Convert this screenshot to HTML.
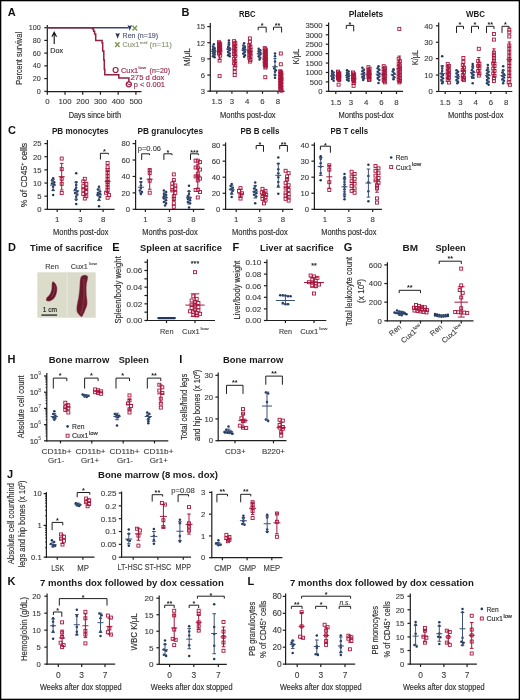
<!DOCTYPE html>
<html><head><meta charset="utf-8"><title>Figure</title>
<style>
html,body{margin:0;padding:0;background:#fff;}
body{width:520px;height:700px;overflow:hidden;}
svg{display:block;filter:blur(0.3px);}
text{font-family:"Liberation Sans", sans-serif;}
</style></head><body>
<svg width="520" height="700" viewBox="0 0 520 700">
<rect x="0" y="0" width="520" height="700" fill="#fff"/>
<text x="7.80" y="16.30" font-size="11" fill="#111" font-weight="bold">A</text>
<line x1="47.30" y1="25.00" x2="47.30" y2="92.30" stroke="#1e1e1e" stroke-width="1.2"/>
<line x1="44.30" y1="27.70" x2="47.30" y2="27.70" stroke="#1e1e1e" stroke-width="1.2"/>
<text x="40.75" y="30.29" font-size="7.2" fill="#3c3c3c" text-anchor="end" stroke="#3c3c3c" stroke-width="0.12">100</text>
<line x1="44.30" y1="40.42" x2="47.30" y2="40.42" stroke="#1e1e1e" stroke-width="1.2"/>
<text x="40.75" y="43.01" font-size="7.2" fill="#3c3c3c" text-anchor="end" stroke="#3c3c3c" stroke-width="0.12">80</text>
<line x1="44.30" y1="53.14" x2="47.30" y2="53.14" stroke="#1e1e1e" stroke-width="1.2"/>
<text x="40.75" y="55.73" font-size="7.2" fill="#3c3c3c" text-anchor="end" stroke="#3c3c3c" stroke-width="0.12">60</text>
<line x1="44.30" y1="65.86" x2="47.30" y2="65.86" stroke="#1e1e1e" stroke-width="1.2"/>
<text x="40.75" y="68.45" font-size="7.2" fill="#3c3c3c" text-anchor="end" stroke="#3c3c3c" stroke-width="0.12">40</text>
<line x1="44.30" y1="78.58" x2="47.30" y2="78.58" stroke="#1e1e1e" stroke-width="1.2"/>
<text x="40.75" y="81.17" font-size="7.2" fill="#3c3c3c" text-anchor="end" stroke="#3c3c3c" stroke-width="0.12">20</text>
<line x1="44.30" y1="91.30" x2="47.30" y2="91.30" stroke="#1e1e1e" stroke-width="1.2"/>
<text x="40.75" y="93.89" font-size="7.2" fill="#3c3c3c" text-anchor="end" stroke="#3c3c3c" stroke-width="0.12">0</text>
<line x1="46.70" y1="91.70" x2="141.50" y2="91.70" stroke="#1e1e1e" stroke-width="1.2"/>
<line x1="47.30" y1="91.70" x2="47.30" y2="94.70" stroke="#1e1e1e" stroke-width="1.2"/>
<text x="47.30" y="104.20" font-size="7.8" fill="#3c3c3c" text-anchor="middle" stroke="#3c3c3c" stroke-width="0.12">0</text>
<line x1="65.02" y1="91.70" x2="65.02" y2="94.70" stroke="#1e1e1e" stroke-width="1.2"/>
<text x="65.02" y="104.20" font-size="7.8" fill="#3c3c3c" text-anchor="middle" stroke="#3c3c3c" stroke-width="0.12">100</text>
<line x1="82.74" y1="91.70" x2="82.74" y2="94.70" stroke="#1e1e1e" stroke-width="1.2"/>
<text x="82.74" y="104.20" font-size="7.8" fill="#3c3c3c" text-anchor="middle" stroke="#3c3c3c" stroke-width="0.12">200</text>
<line x1="100.46" y1="91.70" x2="100.46" y2="94.70" stroke="#1e1e1e" stroke-width="1.2"/>
<text x="100.46" y="104.20" font-size="7.8" fill="#3c3c3c" text-anchor="middle" stroke="#3c3c3c" stroke-width="0.12">300</text>
<line x1="118.18" y1="91.70" x2="118.18" y2="94.70" stroke="#1e1e1e" stroke-width="1.2"/>
<text x="118.18" y="104.20" font-size="7.8" fill="#3c3c3c" text-anchor="middle" stroke="#3c3c3c" stroke-width="0.12">400</text>
<line x1="135.90" y1="91.70" x2="135.90" y2="94.70" stroke="#1e1e1e" stroke-width="1.2"/>
<text x="135.90" y="104.20" font-size="7.8" fill="#3c3c3c" text-anchor="middle" stroke="#3c3c3c" stroke-width="0.12">500</text>
<text x="68.70" y="117.80" font-size="8.6" fill="#2e2e2e" textLength="52.50" lengthAdjust="spacingAndGlyphs" stroke="#2e2e2e" stroke-width="0.15">Days since birth</text>
<text x="22.00" y="58.30" font-size="8.6" fill="#2e2e2e" text-anchor="middle" textLength="52.70" lengthAdjust="spacingAndGlyphs" transform="rotate(-90 22.00 58.30)" stroke="#2e2e2e" stroke-width="0.15">Percent survival</text>
<path d="M54.2 44V32.2M51.9 36.8L54.2 32.2L56.5 36.8" fill="none" stroke="#111" stroke-width="1.1"/>
<text x="50.20" y="52.80" font-size="7.2" fill="#2e2e2e" textLength="12.80" lengthAdjust="spacingAndGlyphs" stroke="#2e2e2e" stroke-width="0.15">Dox</text>
<line x1="47.30" y1="27.80" x2="128.50" y2="27.80" stroke="#3a4868" stroke-width="1.6"/>
<path d="M47.3 27.7 L92.5 27.7 L92.5 29.1 L93.6 29.1 L93.6 31.3 L94.6 31.3 L94.6 33.9 L95.7 33.9 L95.7 40.4 L102.1 40.4 L102.1 43.0 L102.7 43.0 L102.7 51.1 L103.8 51.1 L103.8 60.0 L104.3 60.0 L104.3 69.3 L104.8 69.3 L104.8 74.7 L118.8 74.7 L118.8 77.9 L128.9 77.9 L128.9 83.0" fill="none" stroke="#951f40" stroke-width="1.5"/>
<path d="M127.5 25.1 L129.7 25.9 L132.0 25.1 L129.7 30.8 Z" fill="#26345c"/>
<path d="M132.5 25.7 L137.1 30.5 M137.1 25.7 L132.5 30.5" stroke="#7f9a52" stroke-width="1.5"/>
<path d="M115.4 32.9 L117.65 33.7 L119.9 32.9 L117.65 38.7 Z" fill="#26345c"/>
<text x="122.60" y="38.40" font-size="7.0" fill="#4d5877" textLength="35.50" lengthAdjust="spacingAndGlyphs" stroke="#4d5877" stroke-width="0.15">Ren (n=19)</text>
<path d="M115.2 42.3 L119.5 47.0 M119.5 42.3 L115.2 47.0" stroke="#7f9a52" stroke-width="1.5"/>
<text x="122.40" y="47.40" font-size="7.0" fill="#8d9a78" textLength="17.00" lengthAdjust="spacingAndGlyphs" stroke="#8d9a78" stroke-width="0.15">Cux1</text>
<text x="139.80" y="43.60" font-size="4.4" fill="#8d9a78" textLength="7.60" lengthAdjust="spacingAndGlyphs" stroke="#8d9a78" stroke-width="0.15">mid</text>
<text x="149.60" y="47.40" font-size="7.0" fill="#8d9a78" textLength="22.30" lengthAdjust="spacingAndGlyphs" stroke="#8d9a78" stroke-width="0.15">(n=11)</text>
<circle cx="115.6" cy="70.0" r="2.5" fill="#fff" stroke="#9c1c44" stroke-width="1.2"/>
<text x="121.00" y="72.50" font-size="7.0" fill="#9a2a4c" textLength="17.20" lengthAdjust="spacingAndGlyphs" stroke="#9a2a4c" stroke-width="0.15">Cux1</text>
<text x="138.60" y="68.90" font-size="4.4" fill="#9a2a4c" textLength="7.40" lengthAdjust="spacingAndGlyphs" stroke="#9a2a4c" stroke-width="0.15">low</text>
<text x="149.60" y="72.50" font-size="7.0" fill="#9a2a4c" textLength="20.40" lengthAdjust="spacingAndGlyphs" stroke="#9a2a4c" stroke-width="0.15">(n=20)</text>
<text x="130.60" y="80.30" font-size="7.0" fill="#9a2a4c" textLength="33.80" lengthAdjust="spacingAndGlyphs" stroke="#9a2a4c" stroke-width="0.15">275 d dox</text>
<circle cx="128.8" cy="84.3" r="2.5" fill="#fff" stroke="#9c1c44" stroke-width="1.3"/>
<path d="M127.1 83.6 L128.9 84.6 L130.6 84.6" fill="none" stroke="#9c1c44" stroke-width="1.0"/>
<text x="133.70" y="87.00" font-size="7.0" fill="#9a2a4c" textLength="31.30" lengthAdjust="spacingAndGlyphs" stroke="#9a2a4c" stroke-width="0.15">p &lt; 0.001</text>
<text x="181.50" y="16.30" font-size="11" fill="#111" font-weight="bold">B</text>
<text x="239.00" y="16.90" font-size="8.4" fill="#1a1a1a" font-weight="bold" textLength="16.60" lengthAdjust="spacingAndGlyphs">RBC</text>
<line x1="210.30" y1="23.10" x2="210.30" y2="91.80" stroke="#1e1e1e" stroke-width="1.2"/>
<line x1="207.30" y1="26.60" x2="210.30" y2="26.60" stroke="#1e1e1e" stroke-width="1.2"/>
<text x="204.95" y="29.37" font-size="7.7" fill="#3c3c3c" text-anchor="end" stroke="#3c3c3c" stroke-width="0.12">15</text>
<line x1="207.30" y1="42.75" x2="210.30" y2="42.75" stroke="#1e1e1e" stroke-width="1.2"/>
<text x="204.95" y="45.52" font-size="7.7" fill="#3c3c3c" text-anchor="end" stroke="#3c3c3c" stroke-width="0.12">12</text>
<line x1="207.30" y1="58.90" x2="210.30" y2="58.90" stroke="#1e1e1e" stroke-width="1.2"/>
<text x="204.95" y="61.67" font-size="7.7" fill="#3c3c3c" text-anchor="end" stroke="#3c3c3c" stroke-width="0.12">9</text>
<line x1="207.30" y1="75.05" x2="210.30" y2="75.05" stroke="#1e1e1e" stroke-width="1.2"/>
<text x="204.95" y="77.82" font-size="7.7" fill="#3c3c3c" text-anchor="end" stroke="#3c3c3c" stroke-width="0.12">6</text>
<line x1="207.30" y1="91.20" x2="210.30" y2="91.20" stroke="#1e1e1e" stroke-width="1.2"/>
<text x="204.95" y="93.97" font-size="7.7" fill="#3c3c3c" text-anchor="end" stroke="#3c3c3c" stroke-width="0.12">3</text>
<line x1="209.70" y1="91.20" x2="284.60" y2="91.20" stroke="#1e1e1e" stroke-width="1.2"/>
<line x1="216.80" y1="91.20" x2="216.80" y2="93.80" stroke="#1e1e1e" stroke-width="1.2"/>
<text x="216.80" y="104.40" font-size="7.8" fill="#3c3c3c" text-anchor="middle" stroke="#3c3c3c" stroke-width="0.12">1.5</text>
<line x1="231.90" y1="91.20" x2="231.90" y2="93.80" stroke="#1e1e1e" stroke-width="1.2"/>
<text x="231.90" y="104.40" font-size="7.8" fill="#3c3c3c" text-anchor="middle" stroke="#3c3c3c" stroke-width="0.12">3</text>
<line x1="247.10" y1="91.20" x2="247.10" y2="93.80" stroke="#1e1e1e" stroke-width="1.2"/>
<text x="247.10" y="104.40" font-size="7.8" fill="#3c3c3c" text-anchor="middle" stroke="#3c3c3c" stroke-width="0.12">4</text>
<line x1="262.50" y1="91.20" x2="262.50" y2="93.80" stroke="#1e1e1e" stroke-width="1.2"/>
<text x="262.50" y="104.40" font-size="7.8" fill="#3c3c3c" text-anchor="middle" stroke="#3c3c3c" stroke-width="0.12">6</text>
<line x1="278.00" y1="91.20" x2="278.00" y2="93.80" stroke="#1e1e1e" stroke-width="1.2"/>
<text x="278.00" y="104.40" font-size="7.8" fill="#3c3c3c" text-anchor="middle" stroke="#3c3c3c" stroke-width="0.12">8</text>
<text x="220.00" y="118.00" font-size="8.6" fill="#2e2e2e" textLength="55.60" lengthAdjust="spacingAndGlyphs" stroke="#2e2e2e" stroke-width="0.15">Months post-dox</text>
<text x="190.30" y="57.10" font-size="8.6" fill="#2e2e2e" text-anchor="middle" textLength="17.70" lengthAdjust="spacingAndGlyphs" transform="rotate(-90 190.30 57.10)" stroke="#2e2e2e" stroke-width="0.15">M/μL</text>
<circle cx="213.80" cy="44.37" r="1.25" fill="#22395e"/>
<circle cx="213.00" cy="46.52" r="1.25" fill="#22395e"/>
<circle cx="214.60" cy="48.13" r="1.25" fill="#22395e"/>
<circle cx="213.00" cy="49.21" r="1.25" fill="#22395e"/>
<circle cx="214.60" cy="50.29" r="1.25" fill="#22395e"/>
<circle cx="213.00" cy="51.36" r="1.25" fill="#22395e"/>
<circle cx="214.60" cy="52.44" r="1.25" fill="#22395e"/>
<circle cx="213.00" cy="53.52" r="1.25" fill="#22395e"/>
<circle cx="214.60" cy="54.59" r="1.25" fill="#22395e"/>
<circle cx="213.00" cy="56.21" r="1.25" fill="#22395e"/>
<circle cx="214.60" cy="57.29" r="1.25" fill="#22395e"/>
<line x1="213.80" y1="55.31" x2="213.80" y2="47.22" stroke="#3a5078" stroke-width="1.0"/>
<line x1="211.00" y1="51.27" x2="216.60" y2="51.27" stroke="#3a5078" stroke-width="1.0"/>
<line x1="212.20" y1="55.31" x2="215.40" y2="55.31" stroke="#3a5078" stroke-width="1.0"/>
<line x1="212.20" y1="47.22" x2="215.40" y2="47.22" stroke="#3a5078" stroke-width="1.0"/>
<rect x="217.50" y="40.71" width="3.0" height="3.0" fill="#fff" fill-opacity="0.0" stroke="#a9143c" stroke-width="0.9"/>
<rect x="218.10" y="41.79" width="3.0" height="3.0" fill="#fff" fill-opacity="0.0" stroke="#a9143c" stroke-width="0.9"/>
<rect x="218.70" y="42.87" width="3.0" height="3.0" fill="#fff" fill-opacity="0.0" stroke="#a9143c" stroke-width="0.9"/>
<rect x="217.50" y="43.94" width="3.0" height="3.0" fill="#fff" fill-opacity="0.0" stroke="#a9143c" stroke-width="0.9"/>
<rect x="218.10" y="45.02" width="3.0" height="3.0" fill="#fff" fill-opacity="0.0" stroke="#a9143c" stroke-width="0.9"/>
<rect x="218.70" y="46.10" width="3.0" height="3.0" fill="#fff" fill-opacity="0.0" stroke="#a9143c" stroke-width="0.9"/>
<rect x="217.50" y="46.63" width="3.0" height="3.0" fill="#fff" fill-opacity="0.0" stroke="#a9143c" stroke-width="0.9"/>
<rect x="218.10" y="47.17" width="3.0" height="3.0" fill="#fff" fill-opacity="0.0" stroke="#a9143c" stroke-width="0.9"/>
<rect x="218.70" y="48.25" width="3.0" height="3.0" fill="#fff" fill-opacity="0.0" stroke="#a9143c" stroke-width="0.9"/>
<rect x="217.50" y="49.33" width="3.0" height="3.0" fill="#fff" fill-opacity="0.0" stroke="#a9143c" stroke-width="0.9"/>
<rect x="218.70" y="50.40" width="3.0" height="3.0" fill="#fff" fill-opacity="0.0" stroke="#a9143c" stroke-width="0.9"/>
<rect x="217.50" y="52.02" width="3.0" height="3.0" fill="#fff" fill-opacity="0.0" stroke="#a9143c" stroke-width="0.9"/>
<rect x="218.70" y="54.17" width="3.0" height="3.0" fill="#fff" fill-opacity="0.0" stroke="#a9143c" stroke-width="0.9"/>
<rect x="218.10" y="59.02" width="3.0" height="3.0" fill="#fff" fill-opacity="0.0" stroke="#a9143c" stroke-width="0.9"/>
<rect x="218.10" y="74.63" width="3.0" height="3.0" fill="#fff" fill-opacity="0.0" stroke="#a9143c" stroke-width="0.9"/>
<line x1="219.60" y1="59.46" x2="219.60" y2="42.48" stroke="#a9143c" stroke-width="1.0"/>
<line x1="216.80" y1="50.97" x2="222.40" y2="50.97" stroke="#a9143c" stroke-width="1.0"/>
<line x1="218.00" y1="59.46" x2="221.20" y2="59.46" stroke="#a9143c" stroke-width="1.0"/>
<line x1="218.00" y1="42.48" x2="221.20" y2="42.48" stroke="#a9143c" stroke-width="1.0"/>
<circle cx="228.90" cy="40.60" r="1.25" fill="#22395e"/>
<circle cx="228.90" cy="42.75" r="1.25" fill="#22395e"/>
<circle cx="228.90" cy="44.90" r="1.25" fill="#22395e"/>
<circle cx="228.10" cy="47.06" r="1.25" fill="#22395e"/>
<circle cx="229.70" cy="48.13" r="1.25" fill="#22395e"/>
<circle cx="228.10" cy="49.21" r="1.25" fill="#22395e"/>
<circle cx="229.70" cy="50.29" r="1.25" fill="#22395e"/>
<circle cx="228.10" cy="51.90" r="1.25" fill="#22395e"/>
<circle cx="229.70" cy="53.52" r="1.25" fill="#22395e"/>
<circle cx="228.10" cy="55.13" r="1.25" fill="#22395e"/>
<circle cx="229.70" cy="56.21" r="1.25" fill="#22395e"/>
<line x1="228.90" y1="54.07" x2="228.90" y2="44.05" stroke="#3a5078" stroke-width="1.0"/>
<line x1="226.10" y1="49.06" x2="231.70" y2="49.06" stroke="#3a5078" stroke-width="1.0"/>
<line x1="227.30" y1="54.07" x2="230.50" y2="54.07" stroke="#3a5078" stroke-width="1.0"/>
<line x1="227.30" y1="44.05" x2="230.50" y2="44.05" stroke="#3a5078" stroke-width="1.0"/>
<rect x="232.60" y="39.64" width="3.0" height="3.0" fill="#fff" fill-opacity="0.0" stroke="#a9143c" stroke-width="0.9"/>
<rect x="233.80" y="41.25" width="3.0" height="3.0" fill="#fff" fill-opacity="0.0" stroke="#a9143c" stroke-width="0.9"/>
<rect x="232.60" y="42.87" width="3.0" height="3.0" fill="#fff" fill-opacity="0.0" stroke="#a9143c" stroke-width="0.9"/>
<rect x="233.80" y="44.48" width="3.0" height="3.0" fill="#fff" fill-opacity="0.0" stroke="#a9143c" stroke-width="0.9"/>
<rect x="232.60" y="46.10" width="3.0" height="3.0" fill="#fff" fill-opacity="0.0" stroke="#a9143c" stroke-width="0.9"/>
<rect x="233.80" y="47.71" width="3.0" height="3.0" fill="#fff" fill-opacity="0.0" stroke="#a9143c" stroke-width="0.9"/>
<rect x="232.60" y="49.33" width="3.0" height="3.0" fill="#fff" fill-opacity="0.0" stroke="#a9143c" stroke-width="0.9"/>
<rect x="233.80" y="50.94" width="3.0" height="3.0" fill="#fff" fill-opacity="0.0" stroke="#a9143c" stroke-width="0.9"/>
<rect x="232.60" y="52.55" width="3.0" height="3.0" fill="#fff" fill-opacity="0.0" stroke="#a9143c" stroke-width="0.9"/>
<rect x="233.80" y="54.71" width="3.0" height="3.0" fill="#fff" fill-opacity="0.0" stroke="#a9143c" stroke-width="0.9"/>
<rect x="232.60" y="57.40" width="3.0" height="3.0" fill="#fff" fill-opacity="0.0" stroke="#a9143c" stroke-width="0.9"/>
<rect x="233.80" y="59.55" width="3.0" height="3.0" fill="#fff" fill-opacity="0.0" stroke="#a9143c" stroke-width="0.9"/>
<rect x="232.60" y="61.71" width="3.0" height="3.0" fill="#fff" fill-opacity="0.0" stroke="#a9143c" stroke-width="0.9"/>
<rect x="233.80" y="63.86" width="3.0" height="3.0" fill="#fff" fill-opacity="0.0" stroke="#a9143c" stroke-width="0.9"/>
<rect x="233.20" y="66.55" width="3.0" height="3.0" fill="#fff" fill-opacity="0.0" stroke="#a9143c" stroke-width="0.9"/>
<rect x="233.20" y="70.32" width="3.0" height="3.0" fill="#fff" fill-opacity="0.0" stroke="#a9143c" stroke-width="0.9"/>
<rect x="233.20" y="73.55" width="3.0" height="3.0" fill="#fff" fill-opacity="0.0" stroke="#a9143c" stroke-width="0.9"/>
<line x1="234.70" y1="66.14" x2="234.70" y2="45.39" stroke="#a9143c" stroke-width="1.0"/>
<line x1="231.90" y1="55.77" x2="237.50" y2="55.77" stroke="#a9143c" stroke-width="1.0"/>
<line x1="233.10" y1="66.14" x2="236.30" y2="66.14" stroke="#a9143c" stroke-width="1.0"/>
<line x1="233.10" y1="45.39" x2="236.30" y2="45.39" stroke="#a9143c" stroke-width="1.0"/>
<circle cx="244.10" cy="43.29" r="1.25" fill="#22395e"/>
<circle cx="243.30" cy="45.44" r="1.25" fill="#22395e"/>
<circle cx="244.90" cy="47.06" r="1.25" fill="#22395e"/>
<circle cx="243.30" cy="48.13" r="1.25" fill="#22395e"/>
<circle cx="244.90" cy="49.21" r="1.25" fill="#22395e"/>
<circle cx="243.30" cy="50.29" r="1.25" fill="#22395e"/>
<circle cx="244.90" cy="51.90" r="1.25" fill="#22395e"/>
<circle cx="243.30" cy="53.52" r="1.25" fill="#22395e"/>
<circle cx="244.90" cy="55.13" r="1.25" fill="#22395e"/>
<circle cx="244.10" cy="56.75" r="1.25" fill="#22395e"/>
<line x1="244.10" y1="54.37" x2="244.10" y2="45.77" stroke="#3a5078" stroke-width="1.0"/>
<line x1="241.30" y1="50.07" x2="246.90" y2="50.07" stroke="#3a5078" stroke-width="1.0"/>
<line x1="242.50" y1="54.37" x2="245.70" y2="54.37" stroke="#3a5078" stroke-width="1.0"/>
<line x1="242.50" y1="45.77" x2="245.70" y2="45.77" stroke="#3a5078" stroke-width="1.0"/>
<rect x="248.40" y="36.94" width="3.0" height="3.0" fill="#fff" fill-opacity="0.0" stroke="#a9143c" stroke-width="0.9"/>
<rect x="248.40" y="40.17" width="3.0" height="3.0" fill="#fff" fill-opacity="0.0" stroke="#a9143c" stroke-width="0.9"/>
<rect x="247.80" y="43.40" width="3.0" height="3.0" fill="#fff" fill-opacity="0.0" stroke="#a9143c" stroke-width="0.9"/>
<rect x="249.00" y="45.56" width="3.0" height="3.0" fill="#fff" fill-opacity="0.0" stroke="#a9143c" stroke-width="0.9"/>
<rect x="247.80" y="47.17" width="3.0" height="3.0" fill="#fff" fill-opacity="0.0" stroke="#a9143c" stroke-width="0.9"/>
<rect x="249.00" y="48.79" width="3.0" height="3.0" fill="#fff" fill-opacity="0.0" stroke="#a9143c" stroke-width="0.9"/>
<rect x="247.80" y="49.86" width="3.0" height="3.0" fill="#fff" fill-opacity="0.0" stroke="#a9143c" stroke-width="0.9"/>
<rect x="248.40" y="50.94" width="3.0" height="3.0" fill="#fff" fill-opacity="0.0" stroke="#a9143c" stroke-width="0.9"/>
<rect x="249.00" y="52.02" width="3.0" height="3.0" fill="#fff" fill-opacity="0.0" stroke="#a9143c" stroke-width="0.9"/>
<rect x="247.80" y="53.09" width="3.0" height="3.0" fill="#fff" fill-opacity="0.0" stroke="#a9143c" stroke-width="0.9"/>
<rect x="249.00" y="54.71" width="3.0" height="3.0" fill="#fff" fill-opacity="0.0" stroke="#a9143c" stroke-width="0.9"/>
<rect x="247.80" y="56.32" width="3.0" height="3.0" fill="#fff" fill-opacity="0.0" stroke="#a9143c" stroke-width="0.9"/>
<rect x="249.00" y="58.48" width="3.0" height="3.0" fill="#fff" fill-opacity="0.0" stroke="#a9143c" stroke-width="0.9"/>
<rect x="248.40" y="60.09" width="3.0" height="3.0" fill="#fff" fill-opacity="0.0" stroke="#a9143c" stroke-width="0.9"/>
<line x1="249.90" y1="58.06" x2="249.90" y2="44.59" stroke="#a9143c" stroke-width="1.0"/>
<line x1="247.10" y1="51.32" x2="252.70" y2="51.32" stroke="#a9143c" stroke-width="1.0"/>
<line x1="248.30" y1="58.06" x2="251.50" y2="58.06" stroke="#a9143c" stroke-width="1.0"/>
<line x1="248.30" y1="44.59" x2="251.50" y2="44.59" stroke="#a9143c" stroke-width="1.0"/>
<circle cx="258.70" cy="48.67" r="1.25" fill="#22395e"/>
<circle cx="260.30" cy="50.29" r="1.25" fill="#22395e"/>
<circle cx="258.70" cy="51.36" r="1.25" fill="#22395e"/>
<circle cx="260.30" cy="52.44" r="1.25" fill="#22395e"/>
<circle cx="258.70" cy="53.52" r="1.25" fill="#22395e"/>
<circle cx="260.30" cy="54.59" r="1.25" fill="#22395e"/>
<circle cx="258.70" cy="56.21" r="1.25" fill="#22395e"/>
<circle cx="260.30" cy="57.82" r="1.25" fill="#22395e"/>
<circle cx="259.50" cy="59.44" r="1.25" fill="#22395e"/>
<line x1="259.50" y1="57.37" x2="259.50" y2="50.26" stroke="#3a5078" stroke-width="1.0"/>
<line x1="256.70" y1="53.82" x2="262.30" y2="53.82" stroke="#3a5078" stroke-width="1.0"/>
<line x1="257.90" y1="57.37" x2="261.10" y2="57.37" stroke="#3a5078" stroke-width="1.0"/>
<line x1="257.90" y1="50.26" x2="261.10" y2="50.26" stroke="#3a5078" stroke-width="1.0"/>
<rect x="263.20" y="46.63" width="3.0" height="3.0" fill="#fff" fill-opacity="0.0" stroke="#a9143c" stroke-width="0.9"/>
<rect x="263.80" y="47.71" width="3.0" height="3.0" fill="#fff" fill-opacity="0.0" stroke="#a9143c" stroke-width="0.9"/>
<rect x="264.40" y="48.79" width="3.0" height="3.0" fill="#fff" fill-opacity="0.0" stroke="#a9143c" stroke-width="0.9"/>
<rect x="263.20" y="49.86" width="3.0" height="3.0" fill="#fff" fill-opacity="0.0" stroke="#a9143c" stroke-width="0.9"/>
<rect x="263.80" y="50.94" width="3.0" height="3.0" fill="#fff" fill-opacity="0.0" stroke="#a9143c" stroke-width="0.9"/>
<rect x="264.40" y="52.02" width="3.0" height="3.0" fill="#fff" fill-opacity="0.0" stroke="#a9143c" stroke-width="0.9"/>
<rect x="263.20" y="53.09" width="3.0" height="3.0" fill="#fff" fill-opacity="0.0" stroke="#a9143c" stroke-width="0.9"/>
<rect x="263.80" y="54.17" width="3.0" height="3.0" fill="#fff" fill-opacity="0.0" stroke="#a9143c" stroke-width="0.9"/>
<rect x="264.40" y="55.25" width="3.0" height="3.0" fill="#fff" fill-opacity="0.0" stroke="#a9143c" stroke-width="0.9"/>
<rect x="263.20" y="56.32" width="3.0" height="3.0" fill="#fff" fill-opacity="0.0" stroke="#a9143c" stroke-width="0.9"/>
<rect x="263.80" y="57.40" width="3.0" height="3.0" fill="#fff" fill-opacity="0.0" stroke="#a9143c" stroke-width="0.9"/>
<rect x="264.40" y="58.48" width="3.0" height="3.0" fill="#fff" fill-opacity="0.0" stroke="#a9143c" stroke-width="0.9"/>
<rect x="263.20" y="59.55" width="3.0" height="3.0" fill="#fff" fill-opacity="0.0" stroke="#a9143c" stroke-width="0.9"/>
<rect x="263.80" y="60.63" width="3.0" height="3.0" fill="#fff" fill-opacity="0.0" stroke="#a9143c" stroke-width="0.9"/>
<rect x="264.40" y="61.71" width="3.0" height="3.0" fill="#fff" fill-opacity="0.0" stroke="#a9143c" stroke-width="0.9"/>
<rect x="263.20" y="62.78" width="3.0" height="3.0" fill="#fff" fill-opacity="0.0" stroke="#a9143c" stroke-width="0.9"/>
<rect x="263.80" y="63.86" width="3.0" height="3.0" fill="#fff" fill-opacity="0.0" stroke="#a9143c" stroke-width="0.9"/>
<rect x="264.40" y="64.94" width="3.0" height="3.0" fill="#fff" fill-opacity="0.0" stroke="#a9143c" stroke-width="0.9"/>
<rect x="263.80" y="66.01" width="3.0" height="3.0" fill="#fff" fill-opacity="0.0" stroke="#a9143c" stroke-width="0.9"/>
<rect x="263.80" y="75.70" width="3.0" height="3.0" fill="#fff" fill-opacity="0.0" stroke="#a9143c" stroke-width="0.9"/>
<line x1="265.30" y1="66.11" x2="265.30" y2="51.47" stroke="#a9143c" stroke-width="1.0"/>
<line x1="262.50" y1="58.79" x2="268.10" y2="58.79" stroke="#a9143c" stroke-width="1.0"/>
<line x1="263.70" y1="66.11" x2="266.90" y2="66.11" stroke="#a9143c" stroke-width="1.0"/>
<line x1="263.70" y1="51.47" x2="266.90" y2="51.47" stroke="#a9143c" stroke-width="1.0"/>
<circle cx="275.00" cy="53.52" r="1.25" fill="#22395e"/>
<circle cx="275.00" cy="56.21" r="1.25" fill="#22395e"/>
<circle cx="275.00" cy="61.59" r="1.25" fill="#22395e"/>
<circle cx="275.00" cy="66.44" r="1.25" fill="#22395e"/>
<circle cx="274.20" cy="68.59" r="1.25" fill="#22395e"/>
<circle cx="275.80" cy="70.20" r="1.25" fill="#22395e"/>
<circle cx="275.00" cy="71.82" r="1.25" fill="#22395e"/>
<circle cx="275.00" cy="75.05" r="1.25" fill="#22395e"/>
<circle cx="275.00" cy="77.74" r="1.25" fill="#22395e"/>
<line x1="275.00" y1="75.04" x2="275.00" y2="58.55" stroke="#3a5078" stroke-width="1.0"/>
<line x1="272.20" y1="66.80" x2="277.80" y2="66.80" stroke="#3a5078" stroke-width="1.0"/>
<line x1="273.40" y1="75.04" x2="276.60" y2="75.04" stroke="#3a5078" stroke-width="1.0"/>
<line x1="273.40" y1="58.55" x2="276.60" y2="58.55" stroke="#3a5078" stroke-width="1.0"/>
<rect x="279.30" y="52.02" width="3.0" height="3.0" fill="#fff" fill-opacity="0.0" stroke="#a9143c" stroke-width="0.9"/>
<rect x="279.30" y="62.78" width="3.0" height="3.0" fill="#fff" fill-opacity="0.0" stroke="#a9143c" stroke-width="0.9"/>
<rect x="278.70" y="69.78" width="3.0" height="3.0" fill="#fff" fill-opacity="0.0" stroke="#a9143c" stroke-width="0.9"/>
<rect x="279.30" y="70.75" width="3.0" height="3.0" fill="#fff" fill-opacity="0.0" stroke="#a9143c" stroke-width="0.9"/>
<rect x="279.90" y="71.72" width="3.0" height="3.0" fill="#fff" fill-opacity="0.0" stroke="#a9143c" stroke-width="0.9"/>
<rect x="278.70" y="72.69" width="3.0" height="3.0" fill="#fff" fill-opacity="0.0" stroke="#a9143c" stroke-width="0.9"/>
<rect x="279.30" y="73.66" width="3.0" height="3.0" fill="#fff" fill-opacity="0.0" stroke="#a9143c" stroke-width="0.9"/>
<rect x="279.90" y="74.63" width="3.0" height="3.0" fill="#fff" fill-opacity="0.0" stroke="#a9143c" stroke-width="0.9"/>
<rect x="278.70" y="75.60" width="3.0" height="3.0" fill="#fff" fill-opacity="0.0" stroke="#a9143c" stroke-width="0.9"/>
<rect x="279.30" y="76.56" width="3.0" height="3.0" fill="#fff" fill-opacity="0.0" stroke="#a9143c" stroke-width="0.9"/>
<rect x="279.90" y="77.53" width="3.0" height="3.0" fill="#fff" fill-opacity="0.0" stroke="#a9143c" stroke-width="0.9"/>
<rect x="278.70" y="78.50" width="3.0" height="3.0" fill="#fff" fill-opacity="0.0" stroke="#a9143c" stroke-width="0.9"/>
<rect x="279.30" y="79.47" width="3.0" height="3.0" fill="#fff" fill-opacity="0.0" stroke="#a9143c" stroke-width="0.9"/>
<rect x="279.90" y="80.44" width="3.0" height="3.0" fill="#fff" fill-opacity="0.0" stroke="#a9143c" stroke-width="0.9"/>
<rect x="278.70" y="81.41" width="3.0" height="3.0" fill="#fff" fill-opacity="0.0" stroke="#a9143c" stroke-width="0.9"/>
<rect x="279.30" y="82.38" width="3.0" height="3.0" fill="#fff" fill-opacity="0.0" stroke="#a9143c" stroke-width="0.9"/>
<rect x="279.90" y="83.35" width="3.0" height="3.0" fill="#fff" fill-opacity="0.0" stroke="#a9143c" stroke-width="0.9"/>
<rect x="278.70" y="84.32" width="3.0" height="3.0" fill="#fff" fill-opacity="0.0" stroke="#a9143c" stroke-width="0.9"/>
<rect x="279.30" y="85.29" width="3.0" height="3.0" fill="#fff" fill-opacity="0.0" stroke="#a9143c" stroke-width="0.9"/>
<rect x="279.90" y="86.25" width="3.0" height="3.0" fill="#fff" fill-opacity="0.0" stroke="#a9143c" stroke-width="0.9"/>
<rect x="278.70" y="87.22" width="3.0" height="3.0" fill="#fff" fill-opacity="0.0" stroke="#a9143c" stroke-width="0.9"/>
<rect x="279.30" y="88.19" width="3.0" height="3.0" fill="#fff" fill-opacity="0.0" stroke="#a9143c" stroke-width="0.9"/>
<rect x="279.90" y="89.16" width="3.0" height="3.0" fill="#fff" fill-opacity="0.0" stroke="#a9143c" stroke-width="0.9"/>
<line x1="280.80" y1="87.77" x2="280.80" y2="70.34" stroke="#a9143c" stroke-width="1.0"/>
<line x1="278.00" y1="79.05" x2="283.60" y2="79.05" stroke="#a9143c" stroke-width="1.0"/>
<line x1="279.20" y1="87.77" x2="282.40" y2="87.77" stroke="#a9143c" stroke-width="1.0"/>
<line x1="279.20" y1="70.34" x2="282.40" y2="70.34" stroke="#a9143c" stroke-width="1.0"/>
<path d="M258.20 30.20V27.20H266.20V32.50" fill="none" stroke="#1e1e1e" stroke-width="1.0"/>
<text x="262.20" y="28.37" font-size="7.2" fill="#222" text-anchor="middle" font-weight="bold">*</text>
<path d="M273.50 30.20V27.20H281.60V32.50" fill="none" stroke="#1e1e1e" stroke-width="1.0"/>
<text x="277.55" y="28.37" font-size="7.2" fill="#222" text-anchor="middle" font-weight="bold">**</text>
<text x="348.70" y="16.90" font-size="8.4" fill="#1a1a1a" font-weight="bold" textLength="34.60" lengthAdjust="spacingAndGlyphs">Platelets</text>
<line x1="328.60" y1="22.60" x2="328.60" y2="91.90" stroke="#1e1e1e" stroke-width="1.2"/>
<line x1="325.80" y1="25.40" x2="328.60" y2="25.40" stroke="#1e1e1e" stroke-width="1.2"/>
<text x="322.55" y="28.17" font-size="7.7" fill="#3c3c3c" text-anchor="end" stroke="#3c3c3c" stroke-width="0.12">3500</text>
<line x1="325.80" y1="34.81" x2="328.60" y2="34.81" stroke="#1e1e1e" stroke-width="1.2"/>
<text x="322.55" y="37.59" font-size="7.7" fill="#3c3c3c" text-anchor="end" stroke="#3c3c3c" stroke-width="0.12">3000</text>
<line x1="325.80" y1="44.23" x2="328.60" y2="44.23" stroke="#1e1e1e" stroke-width="1.2"/>
<text x="322.55" y="47.00" font-size="7.7" fill="#3c3c3c" text-anchor="end" stroke="#3c3c3c" stroke-width="0.12">2500</text>
<line x1="325.80" y1="53.64" x2="328.60" y2="53.64" stroke="#1e1e1e" stroke-width="1.2"/>
<text x="322.55" y="56.41" font-size="7.7" fill="#3c3c3c" text-anchor="end" stroke="#3c3c3c" stroke-width="0.12">2000</text>
<line x1="325.80" y1="63.06" x2="328.60" y2="63.06" stroke="#1e1e1e" stroke-width="1.2"/>
<text x="322.55" y="65.83" font-size="7.7" fill="#3c3c3c" text-anchor="end" stroke="#3c3c3c" stroke-width="0.12">1500</text>
<line x1="325.80" y1="72.47" x2="328.60" y2="72.47" stroke="#1e1e1e" stroke-width="1.2"/>
<text x="322.55" y="75.24" font-size="7.7" fill="#3c3c3c" text-anchor="end" stroke="#3c3c3c" stroke-width="0.12">1000</text>
<line x1="325.80" y1="81.89" x2="328.60" y2="81.89" stroke="#1e1e1e" stroke-width="1.2"/>
<text x="322.55" y="84.66" font-size="7.7" fill="#3c3c3c" text-anchor="end" stroke="#3c3c3c" stroke-width="0.12">500</text>
<line x1="325.80" y1="91.30" x2="328.60" y2="91.30" stroke="#1e1e1e" stroke-width="1.2"/>
<text x="322.55" y="94.07" font-size="7.7" fill="#3c3c3c" text-anchor="end" stroke="#3c3c3c" stroke-width="0.12">0</text>
<line x1="328.00" y1="91.40" x2="403.10" y2="91.40" stroke="#1e1e1e" stroke-width="1.2"/>
<line x1="335.80" y1="91.40" x2="335.80" y2="94.00" stroke="#1e1e1e" stroke-width="1.2"/>
<text x="335.80" y="104.60" font-size="7.8" fill="#3c3c3c" text-anchor="middle" stroke="#3c3c3c" stroke-width="0.12">1.5</text>
<line x1="350.80" y1="91.40" x2="350.80" y2="94.00" stroke="#1e1e1e" stroke-width="1.2"/>
<text x="350.80" y="104.60" font-size="7.8" fill="#3c3c3c" text-anchor="middle" stroke="#3c3c3c" stroke-width="0.12">3</text>
<line x1="366.20" y1="91.40" x2="366.20" y2="94.00" stroke="#1e1e1e" stroke-width="1.2"/>
<text x="366.20" y="104.60" font-size="7.8" fill="#3c3c3c" text-anchor="middle" stroke="#3c3c3c" stroke-width="0.12">4</text>
<line x1="381.50" y1="91.40" x2="381.50" y2="94.00" stroke="#1e1e1e" stroke-width="1.2"/>
<text x="381.50" y="104.60" font-size="7.8" fill="#3c3c3c" text-anchor="middle" stroke="#3c3c3c" stroke-width="0.12">6</text>
<line x1="396.50" y1="91.40" x2="396.50" y2="94.00" stroke="#1e1e1e" stroke-width="1.2"/>
<text x="396.50" y="104.60" font-size="7.8" fill="#3c3c3c" text-anchor="middle" stroke="#3c3c3c" stroke-width="0.12">8</text>
<text x="338.50" y="118.00" font-size="8.6" fill="#2e2e2e" textLength="55.30" lengthAdjust="spacingAndGlyphs" stroke="#2e2e2e" stroke-width="0.15">Months post-dox</text>
<text x="299.10" y="56.60" font-size="8.6" fill="#2e2e2e" text-anchor="middle" textLength="15.40" lengthAdjust="spacingAndGlyphs" transform="rotate(-90 299.10 56.60)" stroke="#2e2e2e" stroke-width="0.15">K/μL</text>
<circle cx="332.00" cy="70.97" r="1.25" fill="#22395e"/>
<circle cx="333.60" cy="72.47" r="1.25" fill="#22395e"/>
<circle cx="332.00" cy="73.41" r="1.25" fill="#22395e"/>
<circle cx="332.80" cy="74.35" r="1.25" fill="#22395e"/>
<circle cx="333.60" cy="75.30" r="1.25" fill="#22395e"/>
<circle cx="332.00" cy="76.24" r="1.25" fill="#22395e"/>
<circle cx="332.80" cy="77.18" r="1.25" fill="#22395e"/>
<circle cx="333.60" cy="78.12" r="1.25" fill="#22395e"/>
<circle cx="332.00" cy="79.06" r="1.25" fill="#22395e"/>
<circle cx="333.60" cy="80.85" r="1.25" fill="#22395e"/>
<line x1="332.80" y1="78.89" x2="332.80" y2="72.70" stroke="#3a5078" stroke-width="1.0"/>
<line x1="330.00" y1="75.79" x2="335.60" y2="75.79" stroke="#3a5078" stroke-width="1.0"/>
<line x1="331.20" y1="78.89" x2="334.40" y2="78.89" stroke="#3a5078" stroke-width="1.0"/>
<line x1="331.20" y1="72.70" x2="334.40" y2="72.70" stroke="#3a5078" stroke-width="1.0"/>
<rect x="336.50" y="70.12" width="3.0" height="3.0" fill="#fff" fill-opacity="0.0" stroke="#a9143c" stroke-width="0.9"/>
<rect x="336.50" y="70.97" width="3.0" height="3.0" fill="#fff" fill-opacity="0.0" stroke="#a9143c" stroke-width="0.9"/>
<rect x="337.70" y="71.72" width="3.0" height="3.0" fill="#fff" fill-opacity="0.0" stroke="#a9143c" stroke-width="0.9"/>
<rect x="337.70" y="72.48" width="3.0" height="3.0" fill="#fff" fill-opacity="0.0" stroke="#a9143c" stroke-width="0.9"/>
<rect x="336.50" y="73.23" width="3.0" height="3.0" fill="#fff" fill-opacity="0.0" stroke="#a9143c" stroke-width="0.9"/>
<rect x="336.50" y="73.98" width="3.0" height="3.0" fill="#fff" fill-opacity="0.0" stroke="#a9143c" stroke-width="0.9"/>
<rect x="337.70" y="74.74" width="3.0" height="3.0" fill="#fff" fill-opacity="0.0" stroke="#a9143c" stroke-width="0.9"/>
<rect x="337.70" y="75.49" width="3.0" height="3.0" fill="#fff" fill-opacity="0.0" stroke="#a9143c" stroke-width="0.9"/>
<rect x="336.50" y="76.24" width="3.0" height="3.0" fill="#fff" fill-opacity="0.0" stroke="#a9143c" stroke-width="0.9"/>
<rect x="336.50" y="77.00" width="3.0" height="3.0" fill="#fff" fill-opacity="0.0" stroke="#a9143c" stroke-width="0.9"/>
<rect x="337.70" y="77.75" width="3.0" height="3.0" fill="#fff" fill-opacity="0.0" stroke="#a9143c" stroke-width="0.9"/>
<rect x="337.70" y="78.50" width="3.0" height="3.0" fill="#fff" fill-opacity="0.0" stroke="#a9143c" stroke-width="0.9"/>
<rect x="337.10" y="83.12" width="3.0" height="3.0" fill="#fff" fill-opacity="0.0" stroke="#a9143c" stroke-width="0.9"/>
<line x1="338.60" y1="80.10" x2="338.60" y2="72.96" stroke="#a9143c" stroke-width="1.0"/>
<line x1="335.80" y1="76.53" x2="341.40" y2="76.53" stroke="#a9143c" stroke-width="1.0"/>
<line x1="337.00" y1="80.10" x2="340.20" y2="80.10" stroke="#a9143c" stroke-width="1.0"/>
<line x1="337.00" y1="72.96" x2="340.20" y2="72.96" stroke="#a9143c" stroke-width="1.0"/>
<circle cx="347.00" cy="70.21" r="1.25" fill="#22395e"/>
<circle cx="348.60" cy="71.53" r="1.25" fill="#22395e"/>
<circle cx="347.00" cy="72.85" r="1.25" fill="#22395e"/>
<circle cx="348.60" cy="73.98" r="1.25" fill="#22395e"/>
<circle cx="347.00" cy="75.11" r="1.25" fill="#22395e"/>
<circle cx="348.60" cy="76.24" r="1.25" fill="#22395e"/>
<circle cx="347.00" cy="77.37" r="1.25" fill="#22395e"/>
<circle cx="348.60" cy="78.50" r="1.25" fill="#22395e"/>
<circle cx="347.00" cy="79.63" r="1.25" fill="#22395e"/>
<circle cx="348.60" cy="80.85" r="1.25" fill="#22395e"/>
<line x1="347.80" y1="79.15" x2="347.80" y2="72.10" stroke="#3a5078" stroke-width="1.0"/>
<line x1="345.00" y1="75.63" x2="350.60" y2="75.63" stroke="#3a5078" stroke-width="1.0"/>
<line x1="346.20" y1="79.15" x2="349.40" y2="79.15" stroke="#3a5078" stroke-width="1.0"/>
<line x1="346.20" y1="72.10" x2="349.40" y2="72.10" stroke="#3a5078" stroke-width="1.0"/>
<rect x="351.50" y="70.97" width="3.0" height="3.0" fill="#fff" fill-opacity="0.0" stroke="#a9143c" stroke-width="0.9"/>
<rect x="352.10" y="72.10" width="3.0" height="3.0" fill="#fff" fill-opacity="0.0" stroke="#a9143c" stroke-width="0.9"/>
<rect x="352.70" y="73.23" width="3.0" height="3.0" fill="#fff" fill-opacity="0.0" stroke="#a9143c" stroke-width="0.9"/>
<rect x="351.50" y="74.36" width="3.0" height="3.0" fill="#fff" fill-opacity="0.0" stroke="#a9143c" stroke-width="0.9"/>
<rect x="352.10" y="75.49" width="3.0" height="3.0" fill="#fff" fill-opacity="0.0" stroke="#a9143c" stroke-width="0.9"/>
<rect x="352.70" y="76.62" width="3.0" height="3.0" fill="#fff" fill-opacity="0.0" stroke="#a9143c" stroke-width="0.9"/>
<rect x="351.50" y="77.75" width="3.0" height="3.0" fill="#fff" fill-opacity="0.0" stroke="#a9143c" stroke-width="0.9"/>
<rect x="352.10" y="78.88" width="3.0" height="3.0" fill="#fff" fill-opacity="0.0" stroke="#a9143c" stroke-width="0.9"/>
<rect x="352.70" y="80.01" width="3.0" height="3.0" fill="#fff" fill-opacity="0.0" stroke="#a9143c" stroke-width="0.9"/>
<rect x="352.10" y="81.52" width="3.0" height="3.0" fill="#fff" fill-opacity="0.0" stroke="#a9143c" stroke-width="0.9"/>
<rect x="352.10" y="84.34" width="3.0" height="3.0" fill="#fff" fill-opacity="0.0" stroke="#a9143c" stroke-width="0.9"/>
<line x1="353.60" y1="82.48" x2="353.60" y2="74.21" stroke="#a9143c" stroke-width="1.0"/>
<line x1="350.80" y1="78.34" x2="356.40" y2="78.34" stroke="#a9143c" stroke-width="1.0"/>
<line x1="352.00" y1="82.48" x2="355.20" y2="82.48" stroke="#a9143c" stroke-width="1.0"/>
<line x1="352.00" y1="74.21" x2="355.20" y2="74.21" stroke="#a9143c" stroke-width="1.0"/>
<circle cx="362.40" cy="67.86" r="1.25" fill="#22395e"/>
<circle cx="364.00" cy="69.65" r="1.25" fill="#22395e"/>
<circle cx="362.40" cy="71.34" r="1.25" fill="#22395e"/>
<circle cx="364.00" cy="72.85" r="1.25" fill="#22395e"/>
<circle cx="362.40" cy="74.35" r="1.25" fill="#22395e"/>
<circle cx="364.00" cy="75.67" r="1.25" fill="#22395e"/>
<circle cx="362.40" cy="76.99" r="1.25" fill="#22395e"/>
<circle cx="364.00" cy="78.31" r="1.25" fill="#22395e"/>
<circle cx="363.20" cy="80.00" r="1.25" fill="#22395e"/>
<line x1="363.20" y1="78.17" x2="363.20" y2="70.06" stroke="#3a5078" stroke-width="1.0"/>
<line x1="360.40" y1="74.11" x2="366.00" y2="74.11" stroke="#3a5078" stroke-width="1.0"/>
<line x1="361.60" y1="78.17" x2="364.80" y2="78.17" stroke="#3a5078" stroke-width="1.0"/>
<line x1="361.60" y1="70.06" x2="364.80" y2="70.06" stroke="#3a5078" stroke-width="1.0"/>
<rect x="366.90" y="65.70" width="3.0" height="3.0" fill="#fff" fill-opacity="0.0" stroke="#a9143c" stroke-width="0.9"/>
<rect x="368.10" y="67.21" width="3.0" height="3.0" fill="#fff" fill-opacity="0.0" stroke="#a9143c" stroke-width="0.9"/>
<rect x="366.90" y="68.71" width="3.0" height="3.0" fill="#fff" fill-opacity="0.0" stroke="#a9143c" stroke-width="0.9"/>
<rect x="367.50" y="70.03" width="3.0" height="3.0" fill="#fff" fill-opacity="0.0" stroke="#a9143c" stroke-width="0.9"/>
<rect x="368.10" y="71.16" width="3.0" height="3.0" fill="#fff" fill-opacity="0.0" stroke="#a9143c" stroke-width="0.9"/>
<rect x="366.90" y="72.29" width="3.0" height="3.0" fill="#fff" fill-opacity="0.0" stroke="#a9143c" stroke-width="0.9"/>
<rect x="367.50" y="73.42" width="3.0" height="3.0" fill="#fff" fill-opacity="0.0" stroke="#a9143c" stroke-width="0.9"/>
<rect x="368.10" y="74.55" width="3.0" height="3.0" fill="#fff" fill-opacity="0.0" stroke="#a9143c" stroke-width="0.9"/>
<rect x="366.90" y="75.68" width="3.0" height="3.0" fill="#fff" fill-opacity="0.0" stroke="#a9143c" stroke-width="0.9"/>
<rect x="367.50" y="76.81" width="3.0" height="3.0" fill="#fff" fill-opacity="0.0" stroke="#a9143c" stroke-width="0.9"/>
<rect x="368.10" y="77.94" width="3.0" height="3.0" fill="#fff" fill-opacity="0.0" stroke="#a9143c" stroke-width="0.9"/>
<rect x="367.50" y="78.50" width="3.0" height="3.0" fill="#fff" fill-opacity="0.0" stroke="#a9143c" stroke-width="0.9"/>
<line x1="369.00" y1="78.38" x2="369.00" y2="69.95" stroke="#a9143c" stroke-width="1.0"/>
<line x1="366.20" y1="74.17" x2="371.80" y2="74.17" stroke="#a9143c" stroke-width="1.0"/>
<line x1="367.40" y1="78.38" x2="370.60" y2="78.38" stroke="#a9143c" stroke-width="1.0"/>
<line x1="367.40" y1="69.95" x2="370.60" y2="69.95" stroke="#a9143c" stroke-width="1.0"/>
<circle cx="378.50" cy="66.16" r="1.25" fill="#22395e"/>
<circle cx="377.70" cy="68.14" r="1.25" fill="#22395e"/>
<circle cx="379.30" cy="70.02" r="1.25" fill="#22395e"/>
<circle cx="377.70" cy="71.72" r="1.25" fill="#22395e"/>
<circle cx="379.30" cy="73.41" r="1.25" fill="#22395e"/>
<circle cx="377.70" cy="74.92" r="1.25" fill="#22395e"/>
<circle cx="379.30" cy="76.43" r="1.25" fill="#22395e"/>
<circle cx="377.70" cy="78.12" r="1.25" fill="#22395e"/>
<circle cx="379.30" cy="80.00" r="1.25" fill="#22395e"/>
<circle cx="378.50" cy="83.02" r="1.25" fill="#22395e"/>
<line x1="378.50" y1="79.55" x2="378.50" y2="68.84" stroke="#3a5078" stroke-width="1.0"/>
<line x1="375.70" y1="74.19" x2="381.30" y2="74.19" stroke="#3a5078" stroke-width="1.0"/>
<line x1="376.90" y1="79.55" x2="380.10" y2="79.55" stroke="#3a5078" stroke-width="1.0"/>
<line x1="376.90" y1="68.84" x2="380.10" y2="68.84" stroke="#3a5078" stroke-width="1.0"/>
<rect x="382.20" y="64.66" width="3.0" height="3.0" fill="#fff" fill-opacity="0.0" stroke="#a9143c" stroke-width="0.9"/>
<rect x="383.40" y="66.26" width="3.0" height="3.0" fill="#fff" fill-opacity="0.0" stroke="#a9143c" stroke-width="0.9"/>
<rect x="382.20" y="67.77" width="3.0" height="3.0" fill="#fff" fill-opacity="0.0" stroke="#a9143c" stroke-width="0.9"/>
<rect x="383.40" y="69.09" width="3.0" height="3.0" fill="#fff" fill-opacity="0.0" stroke="#a9143c" stroke-width="0.9"/>
<rect x="382.20" y="70.41" width="3.0" height="3.0" fill="#fff" fill-opacity="0.0" stroke="#a9143c" stroke-width="0.9"/>
<rect x="383.40" y="71.72" width="3.0" height="3.0" fill="#fff" fill-opacity="0.0" stroke="#a9143c" stroke-width="0.9"/>
<rect x="382.20" y="73.04" width="3.0" height="3.0" fill="#fff" fill-opacity="0.0" stroke="#a9143c" stroke-width="0.9"/>
<rect x="383.40" y="74.36" width="3.0" height="3.0" fill="#fff" fill-opacity="0.0" stroke="#a9143c" stroke-width="0.9"/>
<rect x="382.20" y="75.68" width="3.0" height="3.0" fill="#fff" fill-opacity="0.0" stroke="#a9143c" stroke-width="0.9"/>
<rect x="383.40" y="77.00" width="3.0" height="3.0" fill="#fff" fill-opacity="0.0" stroke="#a9143c" stroke-width="0.9"/>
<rect x="382.20" y="78.31" width="3.0" height="3.0" fill="#fff" fill-opacity="0.0" stroke="#a9143c" stroke-width="0.9"/>
<rect x="382.80" y="79.63" width="3.0" height="3.0" fill="#fff" fill-opacity="0.0" stroke="#a9143c" stroke-width="0.9"/>
<rect x="383.40" y="80.86" width="3.0" height="3.0" fill="#fff" fill-opacity="0.0" stroke="#a9143c" stroke-width="0.9"/>
<line x1="384.30" y1="79.69" x2="384.30" y2="69.28" stroke="#a9143c" stroke-width="1.0"/>
<line x1="381.50" y1="74.48" x2="387.10" y2="74.48" stroke="#a9143c" stroke-width="1.0"/>
<line x1="382.70" y1="79.69" x2="385.90" y2="79.69" stroke="#a9143c" stroke-width="1.0"/>
<line x1="382.70" y1="69.28" x2="385.90" y2="69.28" stroke="#a9143c" stroke-width="1.0"/>
<circle cx="393.50" cy="69.36" r="1.25" fill="#22395e"/>
<circle cx="392.70" cy="71.53" r="1.25" fill="#22395e"/>
<circle cx="394.30" cy="73.41" r="1.25" fill="#22395e"/>
<circle cx="392.70" cy="75.30" r="1.25" fill="#22395e"/>
<circle cx="394.30" cy="77.18" r="1.25" fill="#22395e"/>
<circle cx="393.50" cy="79.25" r="1.25" fill="#22395e"/>
<line x1="393.50" y1="77.99" x2="393.50" y2="70.69" stroke="#3a5078" stroke-width="1.0"/>
<line x1="390.70" y1="74.34" x2="396.30" y2="74.34" stroke="#3a5078" stroke-width="1.0"/>
<line x1="391.90" y1="77.99" x2="395.10" y2="77.99" stroke="#3a5078" stroke-width="1.0"/>
<line x1="391.90" y1="70.69" x2="395.10" y2="70.69" stroke="#3a5078" stroke-width="1.0"/>
<rect x="397.80" y="27.38" width="3.0" height="3.0" fill="#fff" fill-opacity="0.0" stroke="#a9143c" stroke-width="0.9"/>
<rect x="397.20" y="57.23" width="3.0" height="3.0" fill="#fff" fill-opacity="0.0" stroke="#a9143c" stroke-width="0.9"/>
<rect x="398.40" y="59.67" width="3.0" height="3.0" fill="#fff" fill-opacity="0.0" stroke="#a9143c" stroke-width="0.9"/>
<rect x="397.20" y="61.93" width="3.0" height="3.0" fill="#fff" fill-opacity="0.0" stroke="#a9143c" stroke-width="0.9"/>
<rect x="398.40" y="63.82" width="3.0" height="3.0" fill="#fff" fill-opacity="0.0" stroke="#a9143c" stroke-width="0.9"/>
<rect x="397.20" y="65.51" width="3.0" height="3.0" fill="#fff" fill-opacity="0.0" stroke="#a9143c" stroke-width="0.9"/>
<rect x="398.40" y="67.21" width="3.0" height="3.0" fill="#fff" fill-opacity="0.0" stroke="#a9143c" stroke-width="0.9"/>
<rect x="397.20" y="68.90" width="3.0" height="3.0" fill="#fff" fill-opacity="0.0" stroke="#a9143c" stroke-width="0.9"/>
<rect x="398.40" y="70.59" width="3.0" height="3.0" fill="#fff" fill-opacity="0.0" stroke="#a9143c" stroke-width="0.9"/>
<rect x="397.20" y="72.10" width="3.0" height="3.0" fill="#fff" fill-opacity="0.0" stroke="#a9143c" stroke-width="0.9"/>
<rect x="398.40" y="73.61" width="3.0" height="3.0" fill="#fff" fill-opacity="0.0" stroke="#a9143c" stroke-width="0.9"/>
<rect x="397.20" y="75.11" width="3.0" height="3.0" fill="#fff" fill-opacity="0.0" stroke="#a9143c" stroke-width="0.9"/>
<rect x="398.40" y="76.62" width="3.0" height="3.0" fill="#fff" fill-opacity="0.0" stroke="#a9143c" stroke-width="0.9"/>
<rect x="397.20" y="78.13" width="3.0" height="3.0" fill="#fff" fill-opacity="0.0" stroke="#a9143c" stroke-width="0.9"/>
<rect x="398.40" y="79.63" width="3.0" height="3.0" fill="#fff" fill-opacity="0.0" stroke="#a9143c" stroke-width="0.9"/>
<rect x="397.80" y="80.86" width="3.0" height="3.0" fill="#fff" fill-opacity="0.0" stroke="#a9143c" stroke-width="0.9"/>
<line x1="399.30" y1="81.74" x2="399.30" y2="56.05" stroke="#a9143c" stroke-width="1.0"/>
<line x1="396.50" y1="68.89" x2="402.10" y2="68.89" stroke="#a9143c" stroke-width="1.0"/>
<line x1="397.70" y1="81.74" x2="400.90" y2="81.74" stroke="#a9143c" stroke-width="1.0"/>
<line x1="397.70" y1="56.05" x2="400.90" y2="56.05" stroke="#a9143c" stroke-width="1.0"/>
<path d="M346.30 28.90V25.40H353.70V31.40" fill="none" stroke="#1e1e1e" stroke-width="1.0"/>
<text x="350.00" y="26.77" font-size="7.2" fill="#222" text-anchor="middle" font-weight="bold">*</text>
<text x="466.00" y="16.90" font-size="8.4" fill="#1a1a1a" font-weight="bold" textLength="19.00" lengthAdjust="spacingAndGlyphs">WBC</text>
<line x1="438.70" y1="22.60" x2="438.70" y2="92.10" stroke="#1e1e1e" stroke-width="1.2"/>
<line x1="435.90" y1="25.80" x2="438.70" y2="25.80" stroke="#1e1e1e" stroke-width="1.2"/>
<text x="432.85" y="28.57" font-size="7.7" fill="#3c3c3c" text-anchor="end" stroke="#3c3c3c" stroke-width="0.12">40</text>
<line x1="435.90" y1="42.23" x2="438.70" y2="42.23" stroke="#1e1e1e" stroke-width="1.2"/>
<text x="432.85" y="45.00" font-size="7.7" fill="#3c3c3c" text-anchor="end" stroke="#3c3c3c" stroke-width="0.12">30</text>
<line x1="435.90" y1="58.65" x2="438.70" y2="58.65" stroke="#1e1e1e" stroke-width="1.2"/>
<text x="432.85" y="61.42" font-size="7.7" fill="#3c3c3c" text-anchor="end" stroke="#3c3c3c" stroke-width="0.12">20</text>
<line x1="435.90" y1="75.08" x2="438.70" y2="75.08" stroke="#1e1e1e" stroke-width="1.2"/>
<text x="432.85" y="77.85" font-size="7.7" fill="#3c3c3c" text-anchor="end" stroke="#3c3c3c" stroke-width="0.12">10</text>
<line x1="435.90" y1="91.50" x2="438.70" y2="91.50" stroke="#1e1e1e" stroke-width="1.2"/>
<text x="432.85" y="94.27" font-size="7.7" fill="#3c3c3c" text-anchor="end" stroke="#3c3c3c" stroke-width="0.12">0</text>
<line x1="438.10" y1="91.50" x2="512.30" y2="91.50" stroke="#1e1e1e" stroke-width="1.2"/>
<line x1="445.20" y1="91.50" x2="445.20" y2="94.10" stroke="#1e1e1e" stroke-width="1.2"/>
<text x="445.20" y="104.70" font-size="7.8" fill="#3c3c3c" text-anchor="middle" stroke="#3c3c3c" stroke-width="0.12">1.5</text>
<line x1="460.30" y1="91.50" x2="460.30" y2="94.10" stroke="#1e1e1e" stroke-width="1.2"/>
<text x="460.30" y="104.70" font-size="7.8" fill="#3c3c3c" text-anchor="middle" stroke="#3c3c3c" stroke-width="0.12">3</text>
<line x1="475.70" y1="91.50" x2="475.70" y2="94.10" stroke="#1e1e1e" stroke-width="1.2"/>
<text x="475.70" y="104.70" font-size="7.8" fill="#3c3c3c" text-anchor="middle" stroke="#3c3c3c" stroke-width="0.12">4</text>
<line x1="490.80" y1="91.50" x2="490.80" y2="94.10" stroke="#1e1e1e" stroke-width="1.2"/>
<text x="490.80" y="104.70" font-size="7.8" fill="#3c3c3c" text-anchor="middle" stroke="#3c3c3c" stroke-width="0.12">6</text>
<line x1="506.20" y1="91.50" x2="506.20" y2="94.10" stroke="#1e1e1e" stroke-width="1.2"/>
<text x="506.20" y="104.70" font-size="7.8" fill="#3c3c3c" text-anchor="middle" stroke="#3c3c3c" stroke-width="0.12">8</text>
<text x="448.00" y="118.00" font-size="8.6" fill="#2e2e2e" textLength="55.40" lengthAdjust="spacingAndGlyphs" stroke="#2e2e2e" stroke-width="0.15">Months post-dox</text>
<text x="418.10" y="57.50" font-size="8.6" fill="#2e2e2e" text-anchor="middle" textLength="15.00" lengthAdjust="spacingAndGlyphs" transform="rotate(-90 418.10 57.50)" stroke="#2e2e2e" stroke-width="0.15">K/μL</text>
<circle cx="442.20" cy="56.19" r="1.25" fill="#22395e"/>
<circle cx="442.20" cy="66.21" r="1.25" fill="#22395e"/>
<circle cx="442.20" cy="68.50" r="1.25" fill="#22395e"/>
<circle cx="442.20" cy="70.97" r="1.25" fill="#22395e"/>
<circle cx="441.40" cy="73.43" r="1.25" fill="#22395e"/>
<circle cx="443.00" cy="75.08" r="1.25" fill="#22395e"/>
<circle cx="441.40" cy="76.72" r="1.25" fill="#22395e"/>
<circle cx="443.00" cy="78.36" r="1.25" fill="#22395e"/>
<circle cx="441.40" cy="80.00" r="1.25" fill="#22395e"/>
<circle cx="443.00" cy="81.64" r="1.25" fill="#22395e"/>
<circle cx="442.20" cy="83.29" r="1.25" fill="#22395e"/>
<line x1="442.20" y1="81.58" x2="442.20" y2="65.77" stroke="#3a5078" stroke-width="1.0"/>
<line x1="439.40" y1="73.67" x2="445.00" y2="73.67" stroke="#3a5078" stroke-width="1.0"/>
<line x1="440.60" y1="81.58" x2="443.80" y2="81.58" stroke="#3a5078" stroke-width="1.0"/>
<line x1="440.60" y1="65.77" x2="443.80" y2="65.77" stroke="#3a5078" stroke-width="1.0"/>
<rect x="446.20" y="62.57" width="3.0" height="3.0" fill="#fff" fill-opacity="0.0" stroke="#a9143c" stroke-width="0.9"/>
<rect x="447.40" y="64.54" width="3.0" height="3.0" fill="#fff" fill-opacity="0.0" stroke="#a9143c" stroke-width="0.9"/>
<rect x="446.20" y="66.68" width="3.0" height="3.0" fill="#fff" fill-opacity="0.0" stroke="#a9143c" stroke-width="0.9"/>
<rect x="447.40" y="68.65" width="3.0" height="3.0" fill="#fff" fill-opacity="0.0" stroke="#a9143c" stroke-width="0.9"/>
<rect x="446.20" y="70.62" width="3.0" height="3.0" fill="#fff" fill-opacity="0.0" stroke="#a9143c" stroke-width="0.9"/>
<rect x="447.40" y="72.59" width="3.0" height="3.0" fill="#fff" fill-opacity="0.0" stroke="#a9143c" stroke-width="0.9"/>
<rect x="446.20" y="74.56" width="3.0" height="3.0" fill="#fff" fill-opacity="0.0" stroke="#a9143c" stroke-width="0.9"/>
<rect x="447.40" y="76.53" width="3.0" height="3.0" fill="#fff" fill-opacity="0.0" stroke="#a9143c" stroke-width="0.9"/>
<rect x="446.20" y="78.50" width="3.0" height="3.0" fill="#fff" fill-opacity="0.0" stroke="#a9143c" stroke-width="0.9"/>
<rect x="447.40" y="80.97" width="3.0" height="3.0" fill="#fff" fill-opacity="0.0" stroke="#a9143c" stroke-width="0.9"/>
<line x1="448.30" y1="79.22" x2="448.30" y2="67.02" stroke="#a9143c" stroke-width="1.0"/>
<line x1="445.50" y1="73.12" x2="451.10" y2="73.12" stroke="#a9143c" stroke-width="1.0"/>
<line x1="446.70" y1="79.22" x2="449.90" y2="79.22" stroke="#a9143c" stroke-width="1.0"/>
<line x1="446.70" y1="67.02" x2="449.90" y2="67.02" stroke="#a9143c" stroke-width="1.0"/>
<circle cx="456.50" cy="70.15" r="1.25" fill="#22395e"/>
<circle cx="458.10" cy="71.79" r="1.25" fill="#22395e"/>
<circle cx="456.50" cy="73.43" r="1.25" fill="#22395e"/>
<circle cx="458.10" cy="75.08" r="1.25" fill="#22395e"/>
<circle cx="456.50" cy="76.72" r="1.25" fill="#22395e"/>
<circle cx="458.10" cy="78.36" r="1.25" fill="#22395e"/>
<circle cx="456.50" cy="80.00" r="1.25" fill="#22395e"/>
<circle cx="458.10" cy="81.64" r="1.25" fill="#22395e"/>
<circle cx="457.30" cy="83.29" r="1.25" fill="#22395e"/>
<line x1="457.30" y1="81.22" x2="457.30" y2="72.22" stroke="#3a5078" stroke-width="1.0"/>
<line x1="454.50" y1="76.72" x2="460.10" y2="76.72" stroke="#3a5078" stroke-width="1.0"/>
<line x1="455.70" y1="81.22" x2="458.90" y2="81.22" stroke="#3a5078" stroke-width="1.0"/>
<line x1="455.70" y1="72.22" x2="458.90" y2="72.22" stroke="#3a5078" stroke-width="1.0"/>
<rect x="461.90" y="56.49" width="3.0" height="3.0" fill="#fff" fill-opacity="0.0" stroke="#a9143c" stroke-width="0.9"/>
<rect x="461.90" y="60.43" width="3.0" height="3.0" fill="#fff" fill-opacity="0.0" stroke="#a9143c" stroke-width="0.9"/>
<rect x="461.30" y="63.72" width="3.0" height="3.0" fill="#fff" fill-opacity="0.0" stroke="#a9143c" stroke-width="0.9"/>
<rect x="462.50" y="66.18" width="3.0" height="3.0" fill="#fff" fill-opacity="0.0" stroke="#a9143c" stroke-width="0.9"/>
<rect x="461.30" y="68.65" width="3.0" height="3.0" fill="#fff" fill-opacity="0.0" stroke="#a9143c" stroke-width="0.9"/>
<rect x="462.50" y="71.11" width="3.0" height="3.0" fill="#fff" fill-opacity="0.0" stroke="#a9143c" stroke-width="0.9"/>
<rect x="461.30" y="73.58" width="3.0" height="3.0" fill="#fff" fill-opacity="0.0" stroke="#a9143c" stroke-width="0.9"/>
<rect x="462.50" y="76.04" width="3.0" height="3.0" fill="#fff" fill-opacity="0.0" stroke="#a9143c" stroke-width="0.9"/>
<rect x="461.30" y="77.68" width="3.0" height="3.0" fill="#fff" fill-opacity="0.0" stroke="#a9143c" stroke-width="0.9"/>
<rect x="462.50" y="78.67" width="3.0" height="3.0" fill="#fff" fill-opacity="0.0" stroke="#a9143c" stroke-width="0.9"/>
<line x1="463.40" y1="78.27" x2="463.40" y2="63.24" stroke="#a9143c" stroke-width="1.0"/>
<line x1="460.60" y1="70.76" x2="466.20" y2="70.76" stroke="#a9143c" stroke-width="1.0"/>
<line x1="461.80" y1="78.27" x2="465.00" y2="78.27" stroke="#a9143c" stroke-width="1.0"/>
<line x1="461.80" y1="63.24" x2="465.00" y2="63.24" stroke="#a9143c" stroke-width="1.0"/>
<circle cx="472.70" cy="64.07" r="1.25" fill="#22395e"/>
<circle cx="472.70" cy="66.04" r="1.25" fill="#22395e"/>
<circle cx="472.70" cy="68.01" r="1.25" fill="#22395e"/>
<circle cx="471.90" cy="70.15" r="1.25" fill="#22395e"/>
<circle cx="473.50" cy="71.79" r="1.25" fill="#22395e"/>
<circle cx="471.90" cy="73.43" r="1.25" fill="#22395e"/>
<circle cx="473.50" cy="75.08" r="1.25" fill="#22395e"/>
<circle cx="471.90" cy="76.72" r="1.25" fill="#22395e"/>
<circle cx="473.50" cy="77.87" r="1.25" fill="#22395e"/>
<circle cx="472.70" cy="83.29" r="1.25" fill="#22395e"/>
<line x1="472.70" y1="78.51" x2="472.70" y2="66.78" stroke="#3a5078" stroke-width="1.0"/>
<line x1="469.90" y1="72.64" x2="475.50" y2="72.64" stroke="#3a5078" stroke-width="1.0"/>
<line x1="471.10" y1="78.51" x2="474.30" y2="78.51" stroke="#3a5078" stroke-width="1.0"/>
<line x1="471.10" y1="66.78" x2="474.30" y2="66.78" stroke="#3a5078" stroke-width="1.0"/>
<rect x="477.30" y="47.30" width="3.0" height="3.0" fill="#fff" fill-opacity="0.0" stroke="#a9143c" stroke-width="0.9"/>
<rect x="476.70" y="59.61" width="3.0" height="3.0" fill="#fff" fill-opacity="0.0" stroke="#a9143c" stroke-width="0.9"/>
<rect x="477.90" y="62.08" width="3.0" height="3.0" fill="#fff" fill-opacity="0.0" stroke="#a9143c" stroke-width="0.9"/>
<rect x="476.70" y="64.54" width="3.0" height="3.0" fill="#fff" fill-opacity="0.0" stroke="#a9143c" stroke-width="0.9"/>
<rect x="477.90" y="67.00" width="3.0" height="3.0" fill="#fff" fill-opacity="0.0" stroke="#a9143c" stroke-width="0.9"/>
<rect x="476.70" y="69.47" width="3.0" height="3.0" fill="#fff" fill-opacity="0.0" stroke="#a9143c" stroke-width="0.9"/>
<rect x="477.90" y="71.93" width="3.0" height="3.0" fill="#fff" fill-opacity="0.0" stroke="#a9143c" stroke-width="0.9"/>
<rect x="477.30" y="74.07" width="3.0" height="3.0" fill="#fff" fill-opacity="0.0" stroke="#a9143c" stroke-width="0.9"/>
<line x1="478.80" y1="74.48" x2="478.80" y2="57.52" stroke="#a9143c" stroke-width="1.0"/>
<line x1="476.00" y1="66.00" x2="481.60" y2="66.00" stroke="#a9143c" stroke-width="1.0"/>
<line x1="477.20" y1="74.48" x2="480.40" y2="74.48" stroke="#a9143c" stroke-width="1.0"/>
<line x1="477.20" y1="57.52" x2="480.40" y2="57.52" stroke="#a9143c" stroke-width="1.0"/>
<circle cx="487.80" cy="64.89" r="1.25" fill="#22395e"/>
<circle cx="487.80" cy="67.68" r="1.25" fill="#22395e"/>
<circle cx="487.00" cy="70.15" r="1.25" fill="#22395e"/>
<circle cx="488.60" cy="71.79" r="1.25" fill="#22395e"/>
<circle cx="487.00" cy="73.43" r="1.25" fill="#22395e"/>
<circle cx="488.60" cy="75.08" r="1.25" fill="#22395e"/>
<circle cx="487.00" cy="76.72" r="1.25" fill="#22395e"/>
<circle cx="488.60" cy="78.36" r="1.25" fill="#22395e"/>
<circle cx="487.00" cy="80.00" r="1.25" fill="#22395e"/>
<circle cx="488.60" cy="81.64" r="1.25" fill="#22395e"/>
<circle cx="487.00" cy="83.29" r="1.25" fill="#22395e"/>
<circle cx="488.60" cy="84.77" r="1.25" fill="#22395e"/>
<line x1="487.80" y1="81.93" x2="487.80" y2="69.37" stroke="#3a5078" stroke-width="1.0"/>
<line x1="485.00" y1="75.65" x2="490.60" y2="75.65" stroke="#3a5078" stroke-width="1.0"/>
<line x1="486.20" y1="81.93" x2="489.40" y2="81.93" stroke="#3a5078" stroke-width="1.0"/>
<line x1="486.20" y1="69.37" x2="489.40" y2="69.37" stroke="#3a5078" stroke-width="1.0"/>
<rect x="492.40" y="32.51" width="3.0" height="3.0" fill="#fff" fill-opacity="0.0" stroke="#a9143c" stroke-width="0.9"/>
<rect x="492.40" y="38.10" width="3.0" height="3.0" fill="#fff" fill-opacity="0.0" stroke="#a9143c" stroke-width="0.9"/>
<rect x="492.40" y="51.07" width="3.0" height="3.0" fill="#fff" fill-opacity="0.0" stroke="#a9143c" stroke-width="0.9"/>
<rect x="492.40" y="53.86" width="3.0" height="3.0" fill="#fff" fill-opacity="0.0" stroke="#a9143c" stroke-width="0.9"/>
<rect x="492.40" y="56.66" width="3.0" height="3.0" fill="#fff" fill-opacity="0.0" stroke="#a9143c" stroke-width="0.9"/>
<rect x="492.40" y="59.45" width="3.0" height="3.0" fill="#fff" fill-opacity="0.0" stroke="#a9143c" stroke-width="0.9"/>
<rect x="491.80" y="62.08" width="3.0" height="3.0" fill="#fff" fill-opacity="0.0" stroke="#a9143c" stroke-width="0.9"/>
<rect x="493.00" y="64.54" width="3.0" height="3.0" fill="#fff" fill-opacity="0.0" stroke="#a9143c" stroke-width="0.9"/>
<rect x="491.80" y="67.00" width="3.0" height="3.0" fill="#fff" fill-opacity="0.0" stroke="#a9143c" stroke-width="0.9"/>
<rect x="493.00" y="69.47" width="3.0" height="3.0" fill="#fff" fill-opacity="0.0" stroke="#a9143c" stroke-width="0.9"/>
<rect x="491.80" y="71.93" width="3.0" height="3.0" fill="#fff" fill-opacity="0.0" stroke="#a9143c" stroke-width="0.9"/>
<rect x="493.00" y="74.40" width="3.0" height="3.0" fill="#fff" fill-opacity="0.0" stroke="#a9143c" stroke-width="0.9"/>
<rect x="492.40" y="76.86" width="3.0" height="3.0" fill="#fff" fill-opacity="0.0" stroke="#a9143c" stroke-width="0.9"/>
<rect x="492.40" y="79.49" width="3.0" height="3.0" fill="#fff" fill-opacity="0.0" stroke="#a9143c" stroke-width="0.9"/>
<line x1="493.90" y1="76.67" x2="493.90" y2="48.82" stroke="#a9143c" stroke-width="1.0"/>
<line x1="491.10" y1="62.74" x2="496.70" y2="62.74" stroke="#a9143c" stroke-width="1.0"/>
<line x1="492.30" y1="76.67" x2="495.50" y2="76.67" stroke="#a9143c" stroke-width="1.0"/>
<line x1="492.30" y1="48.82" x2="495.50" y2="48.82" stroke="#a9143c" stroke-width="1.0"/>
<circle cx="503.20" cy="66.21" r="1.25" fill="#22395e"/>
<circle cx="503.20" cy="70.15" r="1.25" fill="#22395e"/>
<circle cx="502.40" cy="72.61" r="1.25" fill="#22395e"/>
<circle cx="504.00" cy="74.25" r="1.25" fill="#22395e"/>
<circle cx="502.40" cy="75.90" r="1.25" fill="#22395e"/>
<circle cx="504.00" cy="77.54" r="1.25" fill="#22395e"/>
<circle cx="502.40" cy="79.18" r="1.25" fill="#22395e"/>
<circle cx="504.00" cy="80.82" r="1.25" fill="#22395e"/>
<circle cx="503.20" cy="83.29" r="1.25" fill="#22395e"/>
<line x1="503.20" y1="80.93" x2="503.20" y2="70.17" stroke="#3a5078" stroke-width="1.0"/>
<line x1="500.40" y1="75.55" x2="506.00" y2="75.55" stroke="#3a5078" stroke-width="1.0"/>
<line x1="501.60" y1="80.93" x2="504.80" y2="80.93" stroke="#3a5078" stroke-width="1.0"/>
<line x1="501.60" y1="70.17" x2="504.80" y2="70.17" stroke="#3a5078" stroke-width="1.0"/>
<rect x="507.80" y="28.08" width="3.0" height="3.0" fill="#fff" fill-opacity="0.0" stroke="#a9143c" stroke-width="0.9"/>
<rect x="507.80" y="30.87" width="3.0" height="3.0" fill="#fff" fill-opacity="0.0" stroke="#a9143c" stroke-width="0.9"/>
<rect x="507.80" y="34.98" width="3.0" height="3.0" fill="#fff" fill-opacity="0.0" stroke="#a9143c" stroke-width="0.9"/>
<rect x="507.80" y="44.01" width="3.0" height="3.0" fill="#fff" fill-opacity="0.0" stroke="#a9143c" stroke-width="0.9"/>
<rect x="507.80" y="47.30" width="3.0" height="3.0" fill="#fff" fill-opacity="0.0" stroke="#a9143c" stroke-width="0.9"/>
<rect x="507.80" y="50.91" width="3.0" height="3.0" fill="#fff" fill-opacity="0.0" stroke="#a9143c" stroke-width="0.9"/>
<rect x="507.80" y="54.69" width="3.0" height="3.0" fill="#fff" fill-opacity="0.0" stroke="#a9143c" stroke-width="0.9"/>
<rect x="507.80" y="57.97" width="3.0" height="3.0" fill="#fff" fill-opacity="0.0" stroke="#a9143c" stroke-width="0.9"/>
<rect x="507.80" y="61.26" width="3.0" height="3.0" fill="#fff" fill-opacity="0.0" stroke="#a9143c" stroke-width="0.9"/>
<rect x="507.80" y="64.54" width="3.0" height="3.0" fill="#fff" fill-opacity="0.0" stroke="#a9143c" stroke-width="0.9"/>
<rect x="507.80" y="67.83" width="3.0" height="3.0" fill="#fff" fill-opacity="0.0" stroke="#a9143c" stroke-width="0.9"/>
<rect x="507.80" y="71.11" width="3.0" height="3.0" fill="#fff" fill-opacity="0.0" stroke="#a9143c" stroke-width="0.9"/>
<rect x="507.80" y="74.40" width="3.0" height="3.0" fill="#fff" fill-opacity="0.0" stroke="#a9143c" stroke-width="0.9"/>
<rect x="507.80" y="77.68" width="3.0" height="3.0" fill="#fff" fill-opacity="0.0" stroke="#a9143c" stroke-width="0.9"/>
<rect x="507.20" y="80.97" width="3.0" height="3.0" fill="#fff" fill-opacity="0.0" stroke="#a9143c" stroke-width="0.9"/>
<rect x="508.40" y="83.27" width="3.0" height="3.0" fill="#fff" fill-opacity="0.0" stroke="#a9143c" stroke-width="0.9"/>
<line x1="509.30" y1="77.27" x2="509.30" y2="41.96" stroke="#a9143c" stroke-width="1.0"/>
<line x1="506.50" y1="59.61" x2="512.10" y2="59.61" stroke="#a9143c" stroke-width="1.0"/>
<line x1="507.70" y1="77.27" x2="510.90" y2="77.27" stroke="#a9143c" stroke-width="1.0"/>
<line x1="507.70" y1="41.96" x2="510.90" y2="41.96" stroke="#a9143c" stroke-width="1.0"/>
<path d="M456.50 32.90V26.30H463.50V29.10" fill="none" stroke="#1e1e1e" stroke-width="1.0"/>
<text x="460.00" y="27.27" font-size="7.2" fill="#222" text-anchor="middle" font-weight="bold">*</text>
<path d="M471.50 32.90V26.30H478.50V29.10" fill="none" stroke="#1e1e1e" stroke-width="1.0"/>
<text x="475.00" y="27.27" font-size="7.2" fill="#222" text-anchor="middle" font-weight="bold">*</text>
<path d="M486.50 32.90V26.30H494.00V29.10" fill="none" stroke="#1e1e1e" stroke-width="1.0"/>
<text x="490.25" y="27.27" font-size="7.2" fill="#222" text-anchor="middle" font-weight="bold">**</text>
<path d="M502.00 32.90V26.30H509.00V29.10" fill="none" stroke="#1e1e1e" stroke-width="1.0"/>
<text x="505.50" y="27.27" font-size="7.2" fill="#222" text-anchor="middle" font-weight="bold">*</text>
<text x="8.10" y="133.80" font-size="11" fill="#111" font-weight="bold">C</text>
<text x="51.90" y="133.80" font-size="8.4" fill="#1a1a1a" font-weight="bold" textLength="56.60" lengthAdjust="spacingAndGlyphs">PB monocytes</text>
<line x1="47.40" y1="140.10" x2="47.40" y2="209.90" stroke="#1e1e1e" stroke-width="1.2"/>
<line x1="44.40" y1="143.60" x2="47.40" y2="143.60" stroke="#1e1e1e" stroke-width="1.2"/>
<text x="41.45" y="146.37" font-size="7.7" fill="#3c3c3c" text-anchor="end" stroke="#3c3c3c" stroke-width="0.12">25</text>
<line x1="44.40" y1="156.74" x2="47.40" y2="156.74" stroke="#1e1e1e" stroke-width="1.2"/>
<text x="41.45" y="159.51" font-size="7.7" fill="#3c3c3c" text-anchor="end" stroke="#3c3c3c" stroke-width="0.12">20</text>
<line x1="44.40" y1="169.88" x2="47.40" y2="169.88" stroke="#1e1e1e" stroke-width="1.2"/>
<text x="41.45" y="172.65" font-size="7.7" fill="#3c3c3c" text-anchor="end" stroke="#3c3c3c" stroke-width="0.12">15</text>
<line x1="44.40" y1="183.02" x2="47.40" y2="183.02" stroke="#1e1e1e" stroke-width="1.2"/>
<text x="41.45" y="185.79" font-size="7.7" fill="#3c3c3c" text-anchor="end" stroke="#3c3c3c" stroke-width="0.12">10</text>
<line x1="44.40" y1="196.16" x2="47.40" y2="196.16" stroke="#1e1e1e" stroke-width="1.2"/>
<text x="41.45" y="198.93" font-size="7.7" fill="#3c3c3c" text-anchor="end" stroke="#3c3c3c" stroke-width="0.12">5</text>
<line x1="44.40" y1="209.30" x2="47.40" y2="209.30" stroke="#1e1e1e" stroke-width="1.2"/>
<text x="41.45" y="212.07" font-size="7.7" fill="#3c3c3c" text-anchor="end" stroke="#3c3c3c" stroke-width="0.12">0</text>
<line x1="46.80" y1="209.30" x2="114.60" y2="209.30" stroke="#1e1e1e" stroke-width="1.2"/>
<line x1="57.20" y1="209.30" x2="57.20" y2="211.90" stroke="#1e1e1e" stroke-width="1.2"/>
<text x="57.20" y="222.30" font-size="7.8" fill="#3c3c3c" text-anchor="middle" stroke="#3c3c3c" stroke-width="0.12">1</text>
<line x1="80.30" y1="209.30" x2="80.30" y2="211.90" stroke="#1e1e1e" stroke-width="1.2"/>
<text x="80.30" y="222.30" font-size="7.8" fill="#3c3c3c" text-anchor="middle" stroke="#3c3c3c" stroke-width="0.12">3</text>
<line x1="103.10" y1="209.30" x2="103.10" y2="211.90" stroke="#1e1e1e" stroke-width="1.2"/>
<text x="103.10" y="222.30" font-size="7.8" fill="#3c3c3c" text-anchor="middle" stroke="#3c3c3c" stroke-width="0.12">8</text>
<text x="53.10" y="234.60" font-size="8.6" fill="#2e2e2e" textLength="55.40" lengthAdjust="spacingAndGlyphs" stroke="#2e2e2e" stroke-width="0.15">Months post-dox</text>
<text x="27.40" y="175.00" font-size="8.6" fill="#2e2e2e" text-anchor="middle" transform="rotate(-90 27.40 175.00)" stroke="#2e2e2e" stroke-width="0.15">% of CD45<tspan font-size="5.5" dy="-3">+</tspan><tspan dy="3"> cells</tspan></text>
<circle cx="53.10" cy="178.29" r="1.25" fill="#22395e"/>
<circle cx="52.00" cy="180.39" r="1.25" fill="#22395e"/>
<circle cx="54.20" cy="182.23" r="1.25" fill="#22395e"/>
<circle cx="52.00" cy="183.55" r="1.25" fill="#22395e"/>
<circle cx="54.20" cy="184.60" r="1.25" fill="#22395e"/>
<circle cx="53.10" cy="186.70" r="1.25" fill="#22395e"/>
<circle cx="53.10" cy="190.12" r="1.25" fill="#22395e"/>
<circle cx="53.10" cy="195.11" r="1.25" fill="#22395e"/>
<line x1="53.10" y1="190.56" x2="53.10" y2="179.68" stroke="#3a5078" stroke-width="1.0"/>
<line x1="50.10" y1="185.12" x2="56.10" y2="185.12" stroke="#3a5078" stroke-width="1.0"/>
<line x1="51.30" y1="190.56" x2="54.90" y2="190.56" stroke="#3a5078" stroke-width="1.0"/>
<line x1="51.30" y1="179.68" x2="54.90" y2="179.68" stroke="#3a5078" stroke-width="1.0"/>
<rect x="60.20" y="157.08" width="3.0" height="3.0" fill="#fff" fill-opacity="0.0" stroke="#a9143c" stroke-width="0.9"/>
<rect x="60.20" y="167.59" width="3.0" height="3.0" fill="#fff" fill-opacity="0.0" stroke="#a9143c" stroke-width="0.9"/>
<rect x="60.20" y="177.32" width="3.0" height="3.0" fill="#fff" fill-opacity="0.0" stroke="#a9143c" stroke-width="0.9"/>
<rect x="60.20" y="182.31" width="3.0" height="3.0" fill="#fff" fill-opacity="0.0" stroke="#a9143c" stroke-width="0.9"/>
<rect x="60.20" y="191.51" width="3.0" height="3.0" fill="#fff" fill-opacity="0.0" stroke="#a9143c" stroke-width="0.9"/>
<line x1="61.70" y1="189.96" x2="61.70" y2="163.36" stroke="#a9143c" stroke-width="1.0"/>
<line x1="58.70" y1="176.66" x2="64.70" y2="176.66" stroke="#a9143c" stroke-width="1.0"/>
<line x1="59.90" y1="189.96" x2="63.50" y2="189.96" stroke="#a9143c" stroke-width="1.0"/>
<line x1="59.90" y1="163.36" x2="63.50" y2="163.36" stroke="#a9143c" stroke-width="1.0"/>
<circle cx="76.20" cy="173.30" r="1.25" fill="#22395e"/>
<circle cx="76.20" cy="182.23" r="1.25" fill="#22395e"/>
<circle cx="76.20" cy="185.12" r="1.25" fill="#22395e"/>
<circle cx="76.20" cy="187.75" r="1.25" fill="#22395e"/>
<circle cx="75.10" cy="189.85" r="1.25" fill="#22395e"/>
<circle cx="77.30" cy="191.43" r="1.25" fill="#22395e"/>
<circle cx="75.10" cy="193.01" r="1.25" fill="#22395e"/>
<circle cx="77.30" cy="194.58" r="1.25" fill="#22395e"/>
<circle cx="76.20" cy="196.69" r="1.25" fill="#22395e"/>
<circle cx="76.20" cy="199.84" r="1.25" fill="#22395e"/>
<circle cx="76.20" cy="204.04" r="1.25" fill="#22395e"/>
<line x1="76.20" y1="199.28" x2="76.20" y2="182.15" stroke="#3a5078" stroke-width="1.0"/>
<line x1="73.20" y1="190.71" x2="79.20" y2="190.71" stroke="#3a5078" stroke-width="1.0"/>
<line x1="74.40" y1="199.28" x2="78.00" y2="199.28" stroke="#3a5078" stroke-width="1.0"/>
<line x1="74.40" y1="182.15" x2="78.00" y2="182.15" stroke="#3a5078" stroke-width="1.0"/>
<rect x="83.30" y="177.32" width="3.0" height="3.0" fill="#fff" fill-opacity="0.0" stroke="#a9143c" stroke-width="0.9"/>
<rect x="81.80" y="179.94" width="3.0" height="3.0" fill="#fff" fill-opacity="0.0" stroke="#a9143c" stroke-width="0.9"/>
<rect x="84.80" y="182.31" width="3.0" height="3.0" fill="#fff" fill-opacity="0.0" stroke="#a9143c" stroke-width="0.9"/>
<rect x="81.80" y="184.67" width="3.0" height="3.0" fill="#fff" fill-opacity="0.0" stroke="#a9143c" stroke-width="0.9"/>
<rect x="84.80" y="186.51" width="3.0" height="3.0" fill="#fff" fill-opacity="0.0" stroke="#a9143c" stroke-width="0.9"/>
<rect x="81.80" y="188.35" width="3.0" height="3.0" fill="#fff" fill-opacity="0.0" stroke="#a9143c" stroke-width="0.9"/>
<rect x="84.80" y="190.46" width="3.0" height="3.0" fill="#fff" fill-opacity="0.0" stroke="#a9143c" stroke-width="0.9"/>
<rect x="81.80" y="192.56" width="3.0" height="3.0" fill="#fff" fill-opacity="0.0" stroke="#a9143c" stroke-width="0.9"/>
<rect x="84.80" y="194.66" width="3.0" height="3.0" fill="#fff" fill-opacity="0.0" stroke="#a9143c" stroke-width="0.9"/>
<rect x="83.30" y="197.03" width="3.0" height="3.0" fill="#fff" fill-opacity="0.0" stroke="#a9143c" stroke-width="0.9"/>
<line x1="84.80" y1="195.32" x2="84.80" y2="182.44" stroke="#a9143c" stroke-width="1.0"/>
<line x1="81.80" y1="188.88" x2="87.80" y2="188.88" stroke="#a9143c" stroke-width="1.0"/>
<line x1="83.00" y1="195.32" x2="86.60" y2="195.32" stroke="#a9143c" stroke-width="1.0"/>
<line x1="83.00" y1="182.44" x2="86.60" y2="182.44" stroke="#a9143c" stroke-width="1.0"/>
<circle cx="99.00" cy="186.70" r="1.25" fill="#22395e"/>
<circle cx="97.90" cy="189.59" r="1.25" fill="#22395e"/>
<circle cx="100.10" cy="191.43" r="1.25" fill="#22395e"/>
<circle cx="97.90" cy="193.01" r="1.25" fill="#22395e"/>
<circle cx="100.10" cy="194.06" r="1.25" fill="#22395e"/>
<circle cx="97.90" cy="195.37" r="1.25" fill="#22395e"/>
<circle cx="100.10" cy="196.95" r="1.25" fill="#22395e"/>
<circle cx="99.00" cy="199.84" r="1.25" fill="#22395e"/>
<circle cx="99.00" cy="206.15" r="1.25" fill="#22395e"/>
<line x1="99.00" y1="200.56" x2="99.00" y2="189.01" stroke="#3a5078" stroke-width="1.0"/>
<line x1="96.00" y1="194.79" x2="102.00" y2="194.79" stroke="#3a5078" stroke-width="1.0"/>
<line x1="97.20" y1="200.56" x2="100.80" y2="200.56" stroke="#3a5078" stroke-width="1.0"/>
<line x1="97.20" y1="189.01" x2="100.80" y2="189.01" stroke="#3a5078" stroke-width="1.0"/>
<rect x="106.10" y="161.55" width="3.0" height="3.0" fill="#fff" fill-opacity="0.0" stroke="#a9143c" stroke-width="0.9"/>
<rect x="106.10" y="165.75" width="3.0" height="3.0" fill="#fff" fill-opacity="0.0" stroke="#a9143c" stroke-width="0.9"/>
<rect x="106.10" y="168.38" width="3.0" height="3.0" fill="#fff" fill-opacity="0.0" stroke="#a9143c" stroke-width="0.9"/>
<rect x="106.10" y="171.53" width="3.0" height="3.0" fill="#fff" fill-opacity="0.0" stroke="#a9143c" stroke-width="0.9"/>
<rect x="106.10" y="174.69" width="3.0" height="3.0" fill="#fff" fill-opacity="0.0" stroke="#a9143c" stroke-width="0.9"/>
<rect x="106.10" y="177.84" width="3.0" height="3.0" fill="#fff" fill-opacity="0.0" stroke="#a9143c" stroke-width="0.9"/>
<rect x="106.10" y="180.47" width="3.0" height="3.0" fill="#fff" fill-opacity="0.0" stroke="#a9143c" stroke-width="0.9"/>
<rect x="106.10" y="183.10" width="3.0" height="3.0" fill="#fff" fill-opacity="0.0" stroke="#a9143c" stroke-width="0.9"/>
<rect x="106.10" y="185.72" width="3.0" height="3.0" fill="#fff" fill-opacity="0.0" stroke="#a9143c" stroke-width="0.9"/>
<rect x="106.10" y="188.62" width="3.0" height="3.0" fill="#fff" fill-opacity="0.0" stroke="#a9143c" stroke-width="0.9"/>
<rect x="104.60" y="191.24" width="3.0" height="3.0" fill="#fff" fill-opacity="0.0" stroke="#a9143c" stroke-width="0.9"/>
<rect x="107.60" y="193.61" width="3.0" height="3.0" fill="#fff" fill-opacity="0.0" stroke="#a9143c" stroke-width="0.9"/>
<rect x="106.10" y="196.24" width="3.0" height="3.0" fill="#fff" fill-opacity="0.0" stroke="#a9143c" stroke-width="0.9"/>
<line x1="107.60" y1="192.49" x2="107.60" y2="170.32" stroke="#a9143c" stroke-width="1.0"/>
<line x1="104.60" y1="181.40" x2="110.60" y2="181.40" stroke="#a9143c" stroke-width="1.0"/>
<line x1="105.80" y1="192.49" x2="109.40" y2="192.49" stroke="#a9143c" stroke-width="1.0"/>
<line x1="105.80" y1="170.32" x2="109.40" y2="170.32" stroke="#a9143c" stroke-width="1.0"/>
<path d="M100.40 159.50V153.30H108.50V154.50" fill="none" stroke="#1e1e1e" stroke-width="1.0"/>
<text x="104.45" y="154.27" font-size="7.2" fill="#222" text-anchor="middle" font-weight="bold">*</text>
<text x="137.50" y="133.80" font-size="8.4" fill="#1a1a1a" font-weight="bold" textLength="65.50" lengthAdjust="spacingAndGlyphs">PB granulocytes</text>
<line x1="135.60" y1="140.10" x2="135.60" y2="209.90" stroke="#1e1e1e" stroke-width="1.2"/>
<line x1="132.60" y1="143.60" x2="135.60" y2="143.60" stroke="#1e1e1e" stroke-width="1.2"/>
<text x="129.95" y="146.37" font-size="7.7" fill="#3c3c3c" text-anchor="end" stroke="#3c3c3c" stroke-width="0.12">80</text>
<line x1="132.60" y1="160.03" x2="135.60" y2="160.03" stroke="#1e1e1e" stroke-width="1.2"/>
<text x="129.95" y="162.80" font-size="7.7" fill="#3c3c3c" text-anchor="end" stroke="#3c3c3c" stroke-width="0.12">60</text>
<line x1="132.60" y1="176.45" x2="135.60" y2="176.45" stroke="#1e1e1e" stroke-width="1.2"/>
<text x="129.95" y="179.22" font-size="7.7" fill="#3c3c3c" text-anchor="end" stroke="#3c3c3c" stroke-width="0.12">40</text>
<line x1="132.60" y1="192.88" x2="135.60" y2="192.88" stroke="#1e1e1e" stroke-width="1.2"/>
<text x="129.95" y="195.65" font-size="7.7" fill="#3c3c3c" text-anchor="end" stroke="#3c3c3c" stroke-width="0.12">20</text>
<line x1="132.60" y1="209.30" x2="135.60" y2="209.30" stroke="#1e1e1e" stroke-width="1.2"/>
<text x="129.95" y="212.07" font-size="7.7" fill="#3c3c3c" text-anchor="end" stroke="#3c3c3c" stroke-width="0.12">0</text>
<line x1="135.00" y1="209.30" x2="204.50" y2="209.30" stroke="#1e1e1e" stroke-width="1.2"/>
<line x1="145.40" y1="209.30" x2="145.40" y2="211.90" stroke="#1e1e1e" stroke-width="1.2"/>
<text x="145.40" y="222.30" font-size="7.8" fill="#3c3c3c" text-anchor="middle" stroke="#3c3c3c" stroke-width="0.12">1</text>
<line x1="169.50" y1="209.30" x2="169.50" y2="211.90" stroke="#1e1e1e" stroke-width="1.2"/>
<text x="169.50" y="222.30" font-size="7.8" fill="#3c3c3c" text-anchor="middle" stroke="#3c3c3c" stroke-width="0.12">3</text>
<line x1="193.50" y1="209.30" x2="193.50" y2="211.90" stroke="#1e1e1e" stroke-width="1.2"/>
<text x="193.50" y="222.30" font-size="7.8" fill="#3c3c3c" text-anchor="middle" stroke="#3c3c3c" stroke-width="0.12">8</text>
<text x="142.30" y="234.60" font-size="8.6" fill="#2e2e2e" textLength="55.40" lengthAdjust="spacingAndGlyphs" stroke="#2e2e2e" stroke-width="0.15">Months post-dox</text>
<circle cx="140.90" cy="178.59" r="1.25" fill="#22395e"/>
<circle cx="140.90" cy="182.20" r="1.25" fill="#22395e"/>
<circle cx="140.90" cy="185.48" r="1.25" fill="#22395e"/>
<circle cx="140.90" cy="187.95" r="1.25" fill="#22395e"/>
<circle cx="139.80" cy="190.41" r="1.25" fill="#22395e"/>
<circle cx="142.00" cy="192.05" r="1.25" fill="#22395e"/>
<circle cx="140.90" cy="194.11" r="1.25" fill="#22395e"/>
<line x1="140.90" y1="192.80" x2="140.90" y2="181.71" stroke="#3a5078" stroke-width="1.0"/>
<line x1="137.90" y1="187.26" x2="143.90" y2="187.26" stroke="#3a5078" stroke-width="1.0"/>
<line x1="139.10" y1="192.80" x2="142.70" y2="192.80" stroke="#3a5078" stroke-width="1.0"/>
<line x1="139.10" y1="181.71" x2="142.70" y2="181.71" stroke="#3a5078" stroke-width="1.0"/>
<rect x="148.20" y="168.63" width="3.0" height="3.0" fill="#fff" fill-opacity="0.0" stroke="#a9143c" stroke-width="0.9"/>
<rect x="148.20" y="171.67" width="3.0" height="3.0" fill="#fff" fill-opacity="0.0" stroke="#a9143c" stroke-width="0.9"/>
<rect x="148.20" y="179.22" width="3.0" height="3.0" fill="#fff" fill-opacity="0.0" stroke="#a9143c" stroke-width="0.9"/>
<rect x="148.20" y="191.21" width="3.0" height="3.0" fill="#fff" fill-opacity="0.0" stroke="#a9143c" stroke-width="0.9"/>
<line x1="149.70" y1="189.24" x2="149.70" y2="169.12" stroke="#a9143c" stroke-width="1.0"/>
<line x1="146.70" y1="179.18" x2="152.70" y2="179.18" stroke="#a9143c" stroke-width="1.0"/>
<line x1="147.90" y1="189.24" x2="151.50" y2="189.24" stroke="#a9143c" stroke-width="1.0"/>
<line x1="147.90" y1="169.12" x2="151.50" y2="169.12" stroke="#a9143c" stroke-width="1.0"/>
<circle cx="163.90" cy="190.58" r="1.25" fill="#22395e"/>
<circle cx="166.10" cy="192.05" r="1.25" fill="#22395e"/>
<circle cx="163.90" cy="193.70" r="1.25" fill="#22395e"/>
<circle cx="166.10" cy="194.93" r="1.25" fill="#22395e"/>
<circle cx="163.90" cy="196.16" r="1.25" fill="#22395e"/>
<circle cx="166.10" cy="197.39" r="1.25" fill="#22395e"/>
<circle cx="163.90" cy="198.62" r="1.25" fill="#22395e"/>
<circle cx="166.10" cy="200.27" r="1.25" fill="#22395e"/>
<circle cx="163.90" cy="201.91" r="1.25" fill="#22395e"/>
<circle cx="166.10" cy="203.55" r="1.25" fill="#22395e"/>
<circle cx="165.00" cy="205.44" r="1.25" fill="#22395e"/>
<line x1="165.00" y1="202.47" x2="165.00" y2="192.91" stroke="#3a5078" stroke-width="1.0"/>
<line x1="162.00" y1="197.69" x2="168.00" y2="197.69" stroke="#3a5078" stroke-width="1.0"/>
<line x1="163.20" y1="202.47" x2="166.80" y2="202.47" stroke="#3a5078" stroke-width="1.0"/>
<line x1="163.20" y1="192.91" x2="166.80" y2="192.91" stroke="#3a5078" stroke-width="1.0"/>
<rect x="172.30" y="172.90" width="3.0" height="3.0" fill="#fff" fill-opacity="0.0" stroke="#a9143c" stroke-width="0.9"/>
<rect x="172.30" y="178.56" width="3.0" height="3.0" fill="#fff" fill-opacity="0.0" stroke="#a9143c" stroke-width="0.9"/>
<rect x="170.80" y="182.01" width="3.0" height="3.0" fill="#fff" fill-opacity="0.0" stroke="#a9143c" stroke-width="0.9"/>
<rect x="173.80" y="183.98" width="3.0" height="3.0" fill="#fff" fill-opacity="0.0" stroke="#a9143c" stroke-width="0.9"/>
<rect x="170.80" y="185.63" width="3.0" height="3.0" fill="#fff" fill-opacity="0.0" stroke="#a9143c" stroke-width="0.9"/>
<rect x="173.80" y="187.27" width="3.0" height="3.0" fill="#fff" fill-opacity="0.0" stroke="#a9143c" stroke-width="0.9"/>
<rect x="170.80" y="188.91" width="3.0" height="3.0" fill="#fff" fill-opacity="0.0" stroke="#a9143c" stroke-width="0.9"/>
<rect x="173.80" y="191.38" width="3.0" height="3.0" fill="#fff" fill-opacity="0.0" stroke="#a9143c" stroke-width="0.9"/>
<rect x="172.30" y="194.66" width="3.0" height="3.0" fill="#fff" fill-opacity="0.0" stroke="#a9143c" stroke-width="0.9"/>
<rect x="172.30" y="197.53" width="3.0" height="3.0" fill="#fff" fill-opacity="0.0" stroke="#a9143c" stroke-width="0.9"/>
<rect x="172.30" y="201.72" width="3.0" height="3.0" fill="#fff" fill-opacity="0.0" stroke="#a9143c" stroke-width="0.9"/>
<rect x="172.30" y="205.34" width="3.0" height="3.0" fill="#fff" fill-opacity="0.0" stroke="#a9143c" stroke-width="0.9"/>
<line x1="173.80" y1="200.17" x2="173.80" y2="181.14" stroke="#a9143c" stroke-width="1.0"/>
<line x1="170.80" y1="190.66" x2="176.80" y2="190.66" stroke="#a9143c" stroke-width="1.0"/>
<line x1="172.00" y1="200.17" x2="175.60" y2="200.17" stroke="#a9143c" stroke-width="1.0"/>
<line x1="172.00" y1="181.14" x2="175.60" y2="181.14" stroke="#a9143c" stroke-width="1.0"/>
<circle cx="189.00" cy="185.73" r="1.25" fill="#22395e"/>
<circle cx="189.00" cy="191.23" r="1.25" fill="#22395e"/>
<circle cx="189.00" cy="194.11" r="1.25" fill="#22395e"/>
<circle cx="187.90" cy="196.16" r="1.25" fill="#22395e"/>
<circle cx="190.10" cy="197.80" r="1.25" fill="#22395e"/>
<circle cx="187.90" cy="199.03" r="1.25" fill="#22395e"/>
<circle cx="190.10" cy="200.27" r="1.25" fill="#22395e"/>
<circle cx="187.90" cy="201.91" r="1.25" fill="#22395e"/>
<circle cx="190.10" cy="203.22" r="1.25" fill="#22395e"/>
<circle cx="189.00" cy="207.49" r="1.25" fill="#22395e"/>
<line x1="189.00" y1="203.96" x2="189.00" y2="191.43" stroke="#3a5078" stroke-width="1.0"/>
<line x1="186.00" y1="197.70" x2="192.00" y2="197.70" stroke="#3a5078" stroke-width="1.0"/>
<line x1="187.20" y1="203.96" x2="190.80" y2="203.96" stroke="#3a5078" stroke-width="1.0"/>
<line x1="187.20" y1="191.43" x2="190.80" y2="191.43" stroke="#3a5078" stroke-width="1.0"/>
<rect x="194.10" y="159.18" width="3.0" height="3.0" fill="#fff" fill-opacity="0.0" stroke="#a9143c" stroke-width="0.9"/>
<rect x="196.30" y="159.18" width="3.0" height="3.0" fill="#fff" fill-opacity="0.0" stroke="#a9143c" stroke-width="0.9"/>
<rect x="198.50" y="160.58" width="3.0" height="3.0" fill="#fff" fill-opacity="0.0" stroke="#a9143c" stroke-width="0.9"/>
<rect x="194.10" y="166.00" width="3.0" height="3.0" fill="#fff" fill-opacity="0.0" stroke="#a9143c" stroke-width="0.9"/>
<rect x="196.30" y="166.00" width="3.0" height="3.0" fill="#fff" fill-opacity="0.0" stroke="#a9143c" stroke-width="0.9"/>
<rect x="198.50" y="168.05" width="3.0" height="3.0" fill="#fff" fill-opacity="0.0" stroke="#a9143c" stroke-width="0.9"/>
<rect x="196.30" y="172.08" width="3.0" height="3.0" fill="#fff" fill-opacity="0.0" stroke="#a9143c" stroke-width="0.9"/>
<rect x="194.10" y="174.95" width="3.0" height="3.0" fill="#fff" fill-opacity="0.0" stroke="#a9143c" stroke-width="0.9"/>
<rect x="196.30" y="174.95" width="3.0" height="3.0" fill="#fff" fill-opacity="0.0" stroke="#a9143c" stroke-width="0.9"/>
<rect x="198.50" y="177.09" width="3.0" height="3.0" fill="#fff" fill-opacity="0.0" stroke="#a9143c" stroke-width="0.9"/>
<rect x="196.30" y="178.89" width="3.0" height="3.0" fill="#fff" fill-opacity="0.0" stroke="#a9143c" stroke-width="0.9"/>
<rect x="194.10" y="188.50" width="3.0" height="3.0" fill="#fff" fill-opacity="0.0" stroke="#a9143c" stroke-width="0.9"/>
<rect x="196.30" y="188.50" width="3.0" height="3.0" fill="#fff" fill-opacity="0.0" stroke="#a9143c" stroke-width="0.9"/>
<rect x="198.50" y="190.55" width="3.0" height="3.0" fill="#fff" fill-opacity="0.0" stroke="#a9143c" stroke-width="0.9"/>
<rect x="196.30" y="195.97" width="3.0" height="3.0" fill="#fff" fill-opacity="0.0" stroke="#a9143c" stroke-width="0.9"/>
<line x1="197.80" y1="188.13" x2="197.80" y2="164.27" stroke="#a9143c" stroke-width="1.0"/>
<line x1="194.80" y1="176.20" x2="200.80" y2="176.20" stroke="#a9143c" stroke-width="1.0"/>
<line x1="196.00" y1="188.13" x2="199.60" y2="188.13" stroke="#a9143c" stroke-width="1.0"/>
<line x1="196.00" y1="164.27" x2="199.60" y2="164.27" stroke="#a9143c" stroke-width="1.0"/>
<text x="137.80" y="151.30" font-size="7.2" fill="#3c3c3c" textLength="23.20" lengthAdjust="spacingAndGlyphs" stroke="#3c3c3c" stroke-width="0.12">p=0.06</text>
<path d="M141.70 159.90V153.80H149.50V155.20" fill="none" stroke="#1e1e1e" stroke-width="1.0"/>
<path d="M163.90 159.90V153.80H172.00V155.20" fill="none" stroke="#1e1e1e" stroke-width="1.0"/>
<text x="167.95" y="154.97" font-size="7.2" fill="#222" text-anchor="middle" font-weight="bold">*</text>
<path d="M190.50 159.90V153.80H198.30V155.20" fill="none" stroke="#1e1e1e" stroke-width="1.0"/>
<text x="194.40" y="154.97" font-size="7.2" fill="#222" text-anchor="middle" font-weight="bold">***</text>
<text x="240.50" y="133.80" font-size="8.4" fill="#1a1a1a" font-weight="bold" textLength="39.00" lengthAdjust="spacingAndGlyphs">PB B cells</text>
<line x1="225.60" y1="142.40" x2="225.60" y2="209.90" stroke="#1e1e1e" stroke-width="1.2"/>
<line x1="222.60" y1="145.10" x2="225.60" y2="145.10" stroke="#1e1e1e" stroke-width="1.2"/>
<text x="220.25" y="147.87" font-size="7.7" fill="#3c3c3c" text-anchor="end" stroke="#3c3c3c" stroke-width="0.12">80</text>
<line x1="222.60" y1="161.15" x2="225.60" y2="161.15" stroke="#1e1e1e" stroke-width="1.2"/>
<text x="220.25" y="163.92" font-size="7.7" fill="#3c3c3c" text-anchor="end" stroke="#3c3c3c" stroke-width="0.12">60</text>
<line x1="222.60" y1="177.20" x2="225.60" y2="177.20" stroke="#1e1e1e" stroke-width="1.2"/>
<text x="220.25" y="179.97" font-size="7.7" fill="#3c3c3c" text-anchor="end" stroke="#3c3c3c" stroke-width="0.12">40</text>
<line x1="222.60" y1="193.25" x2="225.60" y2="193.25" stroke="#1e1e1e" stroke-width="1.2"/>
<text x="220.25" y="196.02" font-size="7.7" fill="#3c3c3c" text-anchor="end" stroke="#3c3c3c" stroke-width="0.12">20</text>
<line x1="222.60" y1="209.30" x2="225.60" y2="209.30" stroke="#1e1e1e" stroke-width="1.2"/>
<text x="220.25" y="212.07" font-size="7.7" fill="#3c3c3c" text-anchor="end" stroke="#3c3c3c" stroke-width="0.12">0</text>
<line x1="225.00" y1="209.30" x2="293.00" y2="209.30" stroke="#1e1e1e" stroke-width="1.2"/>
<line x1="236.20" y1="209.30" x2="236.20" y2="211.90" stroke="#1e1e1e" stroke-width="1.2"/>
<text x="236.20" y="222.30" font-size="7.8" fill="#3c3c3c" text-anchor="middle" stroke="#3c3c3c" stroke-width="0.12">1</text>
<line x1="259.70" y1="209.30" x2="259.70" y2="211.90" stroke="#1e1e1e" stroke-width="1.2"/>
<text x="259.70" y="222.30" font-size="7.8" fill="#3c3c3c" text-anchor="middle" stroke="#3c3c3c" stroke-width="0.12">3</text>
<line x1="282.80" y1="209.30" x2="282.80" y2="211.90" stroke="#1e1e1e" stroke-width="1.2"/>
<text x="282.80" y="222.30" font-size="7.8" fill="#3c3c3c" text-anchor="middle" stroke="#3c3c3c" stroke-width="0.12">8</text>
<text x="232.00" y="234.60" font-size="8.6" fill="#2e2e2e" textLength="55.70" lengthAdjust="spacingAndGlyphs" stroke="#2e2e2e" stroke-width="0.15">Months post-dox</text>
<circle cx="231.70" cy="183.94" r="1.25" fill="#22395e"/>
<circle cx="230.60" cy="186.03" r="1.25" fill="#22395e"/>
<circle cx="232.80" cy="187.63" r="1.25" fill="#22395e"/>
<circle cx="230.60" cy="189.24" r="1.25" fill="#22395e"/>
<circle cx="232.80" cy="190.84" r="1.25" fill="#22395e"/>
<circle cx="231.70" cy="193.25" r="1.25" fill="#22395e"/>
<circle cx="231.70" cy="197.10" r="1.25" fill="#22395e"/>
<line x1="231.70" y1="194.19" x2="231.70" y2="185.25" stroke="#3a5078" stroke-width="1.0"/>
<line x1="228.70" y1="189.72" x2="234.70" y2="189.72" stroke="#3a5078" stroke-width="1.0"/>
<line x1="229.90" y1="194.19" x2="233.50" y2="194.19" stroke="#3a5078" stroke-width="1.0"/>
<line x1="229.90" y1="185.25" x2="233.50" y2="185.25" stroke="#3a5078" stroke-width="1.0"/>
<rect x="239.00" y="186.61" width="3.0" height="3.0" fill="#fff" fill-opacity="0.0" stroke="#a9143c" stroke-width="0.9"/>
<rect x="237.50" y="189.34" width="3.0" height="3.0" fill="#fff" fill-opacity="0.0" stroke="#a9143c" stroke-width="0.9"/>
<rect x="240.50" y="191.75" width="3.0" height="3.0" fill="#fff" fill-opacity="0.0" stroke="#a9143c" stroke-width="0.9"/>
<rect x="239.00" y="194.16" width="3.0" height="3.0" fill="#fff" fill-opacity="0.0" stroke="#a9143c" stroke-width="0.9"/>
<rect x="239.00" y="197.05" width="3.0" height="3.0" fill="#fff" fill-opacity="0.0" stroke="#a9143c" stroke-width="0.9"/>
<line x1="240.50" y1="197.34" x2="240.50" y2="189.22" stroke="#a9143c" stroke-width="1.0"/>
<line x1="237.50" y1="193.28" x2="243.50" y2="193.28" stroke="#a9143c" stroke-width="1.0"/>
<line x1="238.70" y1="197.34" x2="242.30" y2="197.34" stroke="#a9143c" stroke-width="1.0"/>
<line x1="238.70" y1="189.22" x2="242.30" y2="189.22" stroke="#a9143c" stroke-width="1.0"/>
<circle cx="255.20" cy="182.58" r="1.25" fill="#22395e"/>
<circle cx="255.20" cy="186.03" r="1.25" fill="#22395e"/>
<circle cx="254.10" cy="188.44" r="1.25" fill="#22395e"/>
<circle cx="256.30" cy="190.04" r="1.25" fill="#22395e"/>
<circle cx="254.10" cy="191.65" r="1.25" fill="#22395e"/>
<circle cx="256.30" cy="193.25" r="1.25" fill="#22395e"/>
<circle cx="254.10" cy="194.86" r="1.25" fill="#22395e"/>
<circle cx="256.30" cy="196.46" r="1.25" fill="#22395e"/>
<circle cx="255.20" cy="203.36" r="1.25" fill="#22395e"/>
<line x1="255.20" y1="197.97" x2="255.20" y2="185.73" stroke="#3a5078" stroke-width="1.0"/>
<line x1="252.20" y1="191.85" x2="258.20" y2="191.85" stroke="#3a5078" stroke-width="1.0"/>
<line x1="253.40" y1="197.97" x2="257.00" y2="197.97" stroke="#3a5078" stroke-width="1.0"/>
<line x1="253.40" y1="185.73" x2="257.00" y2="185.73" stroke="#3a5078" stroke-width="1.0"/>
<rect x="261.00" y="187.34" width="3.0" height="3.0" fill="#fff" fill-opacity="0.0" stroke="#a9143c" stroke-width="0.9"/>
<rect x="264.00" y="189.34" width="3.0" height="3.0" fill="#fff" fill-opacity="0.0" stroke="#a9143c" stroke-width="0.9"/>
<rect x="260.30" y="190.95" width="3.0" height="3.0" fill="#fff" fill-opacity="0.0" stroke="#a9143c" stroke-width="0.9"/>
<rect x="262.50" y="192.15" width="3.0" height="3.0" fill="#fff" fill-opacity="0.0" stroke="#a9143c" stroke-width="0.9"/>
<rect x="264.70" y="193.36" width="3.0" height="3.0" fill="#fff" fill-opacity="0.0" stroke="#a9143c" stroke-width="0.9"/>
<rect x="261.00" y="194.56" width="3.0" height="3.0" fill="#fff" fill-opacity="0.0" stroke="#a9143c" stroke-width="0.9"/>
<rect x="264.00" y="195.76" width="3.0" height="3.0" fill="#fff" fill-opacity="0.0" stroke="#a9143c" stroke-width="0.9"/>
<rect x="261.00" y="197.37" width="3.0" height="3.0" fill="#fff" fill-opacity="0.0" stroke="#a9143c" stroke-width="0.9"/>
<rect x="264.00" y="198.97" width="3.0" height="3.0" fill="#fff" fill-opacity="0.0" stroke="#a9143c" stroke-width="0.9"/>
<rect x="262.50" y="201.86" width="3.0" height="3.0" fill="#fff" fill-opacity="0.0" stroke="#a9143c" stroke-width="0.9"/>
<line x1="264.00" y1="200.14" x2="264.00" y2="191.19" stroke="#a9143c" stroke-width="1.0"/>
<line x1="261.00" y1="195.67" x2="267.00" y2="195.67" stroke="#a9143c" stroke-width="1.0"/>
<line x1="262.20" y1="200.14" x2="265.80" y2="200.14" stroke="#a9143c" stroke-width="1.0"/>
<line x1="262.20" y1="191.19" x2="265.80" y2="191.19" stroke="#a9143c" stroke-width="1.0"/>
<circle cx="278.30" cy="157.54" r="1.25" fill="#22395e"/>
<circle cx="278.30" cy="163.80" r="1.25" fill="#22395e"/>
<circle cx="278.30" cy="169.18" r="1.25" fill="#22395e"/>
<circle cx="278.30" cy="173.19" r="1.25" fill="#22395e"/>
<circle cx="278.30" cy="177.20" r="1.25" fill="#22395e"/>
<circle cx="278.30" cy="182.02" r="1.25" fill="#22395e"/>
<circle cx="278.30" cy="186.03" r="1.25" fill="#22395e"/>
<circle cx="278.30" cy="193.65" r="1.25" fill="#22395e"/>
<line x1="278.30" y1="187.22" x2="278.30" y2="163.43" stroke="#3a5078" stroke-width="1.0"/>
<line x1="275.30" y1="175.32" x2="281.30" y2="175.32" stroke="#3a5078" stroke-width="1.0"/>
<line x1="276.50" y1="187.22" x2="280.10" y2="187.22" stroke="#3a5078" stroke-width="1.0"/>
<line x1="276.50" y1="163.43" x2="280.10" y2="163.43" stroke="#3a5078" stroke-width="1.0"/>
<rect x="284.10" y="169.28" width="3.0" height="3.0" fill="#fff" fill-opacity="0.0" stroke="#a9143c" stroke-width="0.9"/>
<rect x="287.10" y="171.69" width="3.0" height="3.0" fill="#fff" fill-opacity="0.0" stroke="#a9143c" stroke-width="0.9"/>
<rect x="285.60" y="174.90" width="3.0" height="3.0" fill="#fff" fill-opacity="0.0" stroke="#a9143c" stroke-width="0.9"/>
<rect x="285.60" y="178.11" width="3.0" height="3.0" fill="#fff" fill-opacity="0.0" stroke="#a9143c" stroke-width="0.9"/>
<rect x="284.10" y="181.32" width="3.0" height="3.0" fill="#fff" fill-opacity="0.0" stroke="#a9143c" stroke-width="0.9"/>
<rect x="287.10" y="183.72" width="3.0" height="3.0" fill="#fff" fill-opacity="0.0" stroke="#a9143c" stroke-width="0.9"/>
<rect x="284.10" y="186.13" width="3.0" height="3.0" fill="#fff" fill-opacity="0.0" stroke="#a9143c" stroke-width="0.9"/>
<rect x="287.10" y="188.54" width="3.0" height="3.0" fill="#fff" fill-opacity="0.0" stroke="#a9143c" stroke-width="0.9"/>
<rect x="284.10" y="190.95" width="3.0" height="3.0" fill="#fff" fill-opacity="0.0" stroke="#a9143c" stroke-width="0.9"/>
<rect x="287.10" y="192.55" width="3.0" height="3.0" fill="#fff" fill-opacity="0.0" stroke="#a9143c" stroke-width="0.9"/>
<rect x="284.10" y="194.16" width="3.0" height="3.0" fill="#fff" fill-opacity="0.0" stroke="#a9143c" stroke-width="0.9"/>
<rect x="287.10" y="195.76" width="3.0" height="3.0" fill="#fff" fill-opacity="0.0" stroke="#a9143c" stroke-width="0.9"/>
<rect x="284.10" y="197.37" width="3.0" height="3.0" fill="#fff" fill-opacity="0.0" stroke="#a9143c" stroke-width="0.9"/>
<rect x="287.10" y="199.13" width="3.0" height="3.0" fill="#fff" fill-opacity="0.0" stroke="#a9143c" stroke-width="0.9"/>
<line x1="287.10" y1="197.22" x2="287.10" y2="177.73" stroke="#a9143c" stroke-width="1.0"/>
<line x1="284.10" y1="187.47" x2="290.10" y2="187.47" stroke="#a9143c" stroke-width="1.0"/>
<line x1="285.30" y1="197.22" x2="288.90" y2="197.22" stroke="#a9143c" stroke-width="1.0"/>
<line x1="285.30" y1="177.73" x2="288.90" y2="177.73" stroke="#a9143c" stroke-width="1.0"/>
<path d="M256.20 149.20V145.50H263.50V151.80" fill="none" stroke="#1e1e1e" stroke-width="1.0"/>
<text x="259.85" y="147.17" font-size="7.2" fill="#222" text-anchor="middle" font-weight="bold">*</text>
<path d="M279.70 149.20V145.50H287.40V151.80" fill="none" stroke="#1e1e1e" stroke-width="1.0"/>
<text x="283.55" y="147.17" font-size="7.2" fill="#222" text-anchor="middle" font-weight="bold">**</text>
<text x="330.50" y="133.80" font-size="8.4" fill="#1a1a1a" font-weight="bold" textLength="37.50" lengthAdjust="spacingAndGlyphs">PB T cells</text>
<line x1="314.40" y1="142.40" x2="314.40" y2="209.90" stroke="#1e1e1e" stroke-width="1.2"/>
<line x1="311.40" y1="145.10" x2="314.40" y2="145.10" stroke="#1e1e1e" stroke-width="1.2"/>
<text x="309.05" y="147.87" font-size="7.7" fill="#3c3c3c" text-anchor="end" stroke="#3c3c3c" stroke-width="0.12">40</text>
<line x1="311.40" y1="161.15" x2="314.40" y2="161.15" stroke="#1e1e1e" stroke-width="1.2"/>
<text x="309.05" y="163.92" font-size="7.7" fill="#3c3c3c" text-anchor="end" stroke="#3c3c3c" stroke-width="0.12">30</text>
<line x1="311.40" y1="177.20" x2="314.40" y2="177.20" stroke="#1e1e1e" stroke-width="1.2"/>
<text x="309.05" y="179.97" font-size="7.7" fill="#3c3c3c" text-anchor="end" stroke="#3c3c3c" stroke-width="0.12">20</text>
<line x1="311.40" y1="193.25" x2="314.40" y2="193.25" stroke="#1e1e1e" stroke-width="1.2"/>
<text x="309.05" y="196.02" font-size="7.7" fill="#3c3c3c" text-anchor="end" stroke="#3c3c3c" stroke-width="0.12">10</text>
<line x1="311.40" y1="209.30" x2="314.40" y2="209.30" stroke="#1e1e1e" stroke-width="1.2"/>
<text x="309.05" y="212.07" font-size="7.7" fill="#3c3c3c" text-anchor="end" stroke="#3c3c3c" stroke-width="0.12">0</text>
<line x1="313.80" y1="209.30" x2="381.90" y2="209.30" stroke="#1e1e1e" stroke-width="1.2"/>
<line x1="325.00" y1="209.30" x2="325.00" y2="211.90" stroke="#1e1e1e" stroke-width="1.2"/>
<text x="325.00" y="222.30" font-size="7.8" fill="#3c3c3c" text-anchor="middle" stroke="#3c3c3c" stroke-width="0.12">1</text>
<line x1="348.80" y1="209.30" x2="348.80" y2="211.90" stroke="#1e1e1e" stroke-width="1.2"/>
<text x="348.80" y="222.30" font-size="7.8" fill="#3c3c3c" text-anchor="middle" stroke="#3c3c3c" stroke-width="0.12">3</text>
<line x1="372.70" y1="209.30" x2="372.70" y2="211.90" stroke="#1e1e1e" stroke-width="1.2"/>
<text x="372.70" y="222.30" font-size="7.8" fill="#3c3c3c" text-anchor="middle" stroke="#3c3c3c" stroke-width="0.12">8</text>
<text x="321.20" y="234.60" font-size="8.6" fill="#2e2e2e" textLength="55.30" lengthAdjust="spacingAndGlyphs" stroke="#2e2e2e" stroke-width="0.15">Months post-dox</text>
<circle cx="320.70" cy="156.34" r="1.25" fill="#22395e"/>
<circle cx="320.70" cy="159.06" r="1.25" fill="#22395e"/>
<circle cx="320.70" cy="163.24" r="1.25" fill="#22395e"/>
<circle cx="320.70" cy="166.77" r="1.25" fill="#22395e"/>
<circle cx="320.70" cy="173.19" r="1.25" fill="#22395e"/>
<circle cx="320.70" cy="180.25" r="1.25" fill="#22395e"/>
<line x1="320.70" y1="175.45" x2="320.70" y2="157.49" stroke="#3a5078" stroke-width="1.0"/>
<line x1="317.70" y1="166.47" x2="323.70" y2="166.47" stroke="#3a5078" stroke-width="1.0"/>
<line x1="318.90" y1="175.45" x2="322.50" y2="175.45" stroke="#3a5078" stroke-width="1.0"/>
<line x1="318.90" y1="157.49" x2="322.50" y2="157.49" stroke="#3a5078" stroke-width="1.0"/>
<rect x="327.80" y="163.82" width="3.0" height="3.0" fill="#fff" fill-opacity="0.0" stroke="#a9143c" stroke-width="0.9"/>
<rect x="327.80" y="168.16" width="3.0" height="3.0" fill="#fff" fill-opacity="0.0" stroke="#a9143c" stroke-width="0.9"/>
<rect x="327.80" y="180.68" width="3.0" height="3.0" fill="#fff" fill-opacity="0.0" stroke="#a9143c" stroke-width="0.9"/>
<rect x="327.80" y="188.54" width="3.0" height="3.0" fill="#fff" fill-opacity="0.0" stroke="#a9143c" stroke-width="0.9"/>
<line x1="329.30" y1="188.16" x2="329.30" y2="165.44" stroke="#a9143c" stroke-width="1.0"/>
<line x1="326.30" y1="176.80" x2="332.30" y2="176.80" stroke="#a9143c" stroke-width="1.0"/>
<line x1="327.50" y1="188.16" x2="331.10" y2="188.16" stroke="#a9143c" stroke-width="1.0"/>
<line x1="327.50" y1="165.44" x2="331.10" y2="165.44" stroke="#a9143c" stroke-width="1.0"/>
<circle cx="344.50" cy="173.99" r="1.25" fill="#22395e"/>
<circle cx="344.50" cy="177.20" r="1.25" fill="#22395e"/>
<circle cx="344.50" cy="179.61" r="1.25" fill="#22395e"/>
<circle cx="344.50" cy="182.02" r="1.25" fill="#22395e"/>
<circle cx="344.50" cy="184.42" r="1.25" fill="#22395e"/>
<circle cx="344.50" cy="186.83" r="1.25" fill="#22395e"/>
<circle cx="344.50" cy="189.24" r="1.25" fill="#22395e"/>
<circle cx="344.50" cy="191.65" r="1.25" fill="#22395e"/>
<circle cx="344.50" cy="194.05" r="1.25" fill="#22395e"/>
<circle cx="344.50" cy="196.46" r="1.25" fill="#22395e"/>
<circle cx="344.50" cy="199.19" r="1.25" fill="#22395e"/>
<line x1="344.50" y1="194.94" x2="344.50" y2="178.63" stroke="#3a5078" stroke-width="1.0"/>
<line x1="341.50" y1="186.79" x2="347.50" y2="186.79" stroke="#3a5078" stroke-width="1.0"/>
<line x1="342.70" y1="194.94" x2="346.30" y2="194.94" stroke="#3a5078" stroke-width="1.0"/>
<line x1="342.70" y1="178.63" x2="346.30" y2="178.63" stroke="#3a5078" stroke-width="1.0"/>
<rect x="350.10" y="170.24" width="3.0" height="3.0" fill="#fff" fill-opacity="0.0" stroke="#a9143c" stroke-width="0.9"/>
<rect x="353.10" y="172.49" width="3.0" height="3.0" fill="#fff" fill-opacity="0.0" stroke="#a9143c" stroke-width="0.9"/>
<rect x="350.10" y="174.90" width="3.0" height="3.0" fill="#fff" fill-opacity="0.0" stroke="#a9143c" stroke-width="0.9"/>
<rect x="353.10" y="177.31" width="3.0" height="3.0" fill="#fff" fill-opacity="0.0" stroke="#a9143c" stroke-width="0.9"/>
<rect x="350.10" y="179.71" width="3.0" height="3.0" fill="#fff" fill-opacity="0.0" stroke="#a9143c" stroke-width="0.9"/>
<rect x="353.10" y="182.12" width="3.0" height="3.0" fill="#fff" fill-opacity="0.0" stroke="#a9143c" stroke-width="0.9"/>
<rect x="350.10" y="184.53" width="3.0" height="3.0" fill="#fff" fill-opacity="0.0" stroke="#a9143c" stroke-width="0.9"/>
<rect x="353.10" y="186.94" width="3.0" height="3.0" fill="#fff" fill-opacity="0.0" stroke="#a9143c" stroke-width="0.9"/>
<rect x="350.10" y="189.34" width="3.0" height="3.0" fill="#fff" fill-opacity="0.0" stroke="#a9143c" stroke-width="0.9"/>
<rect x="353.10" y="191.27" width="3.0" height="3.0" fill="#fff" fill-opacity="0.0" stroke="#a9143c" stroke-width="0.9"/>
<line x1="353.10" y1="189.57" x2="353.10" y2="175.20" stroke="#a9143c" stroke-width="1.0"/>
<line x1="350.10" y1="182.38" x2="356.10" y2="182.38" stroke="#a9143c" stroke-width="1.0"/>
<line x1="351.30" y1="189.57" x2="354.90" y2="189.57" stroke="#a9143c" stroke-width="1.0"/>
<line x1="351.30" y1="175.20" x2="354.90" y2="175.20" stroke="#a9143c" stroke-width="1.0"/>
<circle cx="368.40" cy="164.68" r="1.25" fill="#22395e"/>
<circle cx="368.40" cy="175.92" r="1.25" fill="#22395e"/>
<circle cx="368.40" cy="182.18" r="1.25" fill="#22395e"/>
<circle cx="368.40" cy="191.32" r="1.25" fill="#22395e"/>
<circle cx="368.40" cy="201.28" r="1.25" fill="#22395e"/>
<line x1="368.40" y1="197.12" x2="368.40" y2="169.02" stroke="#3a5078" stroke-width="1.0"/>
<line x1="365.40" y1="183.07" x2="371.40" y2="183.07" stroke="#3a5078" stroke-width="1.0"/>
<line x1="366.60" y1="197.12" x2="370.20" y2="197.12" stroke="#3a5078" stroke-width="1.0"/>
<line x1="366.60" y1="169.02" x2="370.20" y2="169.02" stroke="#3a5078" stroke-width="1.0"/>
<rect x="374.00" y="164.47" width="3.0" height="3.0" fill="#fff" fill-opacity="0.0" stroke="#a9143c" stroke-width="0.9"/>
<rect x="377.00" y="166.87" width="3.0" height="3.0" fill="#fff" fill-opacity="0.0" stroke="#a9143c" stroke-width="0.9"/>
<rect x="374.00" y="169.28" width="3.0" height="3.0" fill="#fff" fill-opacity="0.0" stroke="#a9143c" stroke-width="0.9"/>
<rect x="377.00" y="171.69" width="3.0" height="3.0" fill="#fff" fill-opacity="0.0" stroke="#a9143c" stroke-width="0.9"/>
<rect x="374.00" y="174.09" width="3.0" height="3.0" fill="#fff" fill-opacity="0.0" stroke="#a9143c" stroke-width="0.9"/>
<rect x="377.00" y="176.50" width="3.0" height="3.0" fill="#fff" fill-opacity="0.0" stroke="#a9143c" stroke-width="0.9"/>
<rect x="374.00" y="178.91" width="3.0" height="3.0" fill="#fff" fill-opacity="0.0" stroke="#a9143c" stroke-width="0.9"/>
<rect x="377.00" y="181.32" width="3.0" height="3.0" fill="#fff" fill-opacity="0.0" stroke="#a9143c" stroke-width="0.9"/>
<rect x="375.50" y="183.72" width="3.0" height="3.0" fill="#fff" fill-opacity="0.0" stroke="#a9143c" stroke-width="0.9"/>
<rect x="375.50" y="186.94" width="3.0" height="3.0" fill="#fff" fill-opacity="0.0" stroke="#a9143c" stroke-width="0.9"/>
<rect x="375.50" y="196.89" width="3.0" height="3.0" fill="#fff" fill-opacity="0.0" stroke="#a9143c" stroke-width="0.9"/>
<rect x="375.50" y="201.06" width="3.0" height="3.0" fill="#fff" fill-opacity="0.0" stroke="#a9143c" stroke-width="0.9"/>
<line x1="377.00" y1="192.22" x2="377.00" y2="169.40" stroke="#a9143c" stroke-width="1.0"/>
<line x1="374.00" y1="180.81" x2="380.00" y2="180.81" stroke="#a9143c" stroke-width="1.0"/>
<line x1="375.20" y1="192.22" x2="378.80" y2="192.22" stroke="#a9143c" stroke-width="1.0"/>
<line x1="375.20" y1="169.40" x2="378.80" y2="169.40" stroke="#a9143c" stroke-width="1.0"/>
<path d="M320.40 149.90V146.20H330.40V152.70" fill="none" stroke="#1e1e1e" stroke-width="1.0"/>
<text x="325.40" y="147.57" font-size="7.2" fill="#222" text-anchor="middle" font-weight="bold">*</text>
<circle cx="391.20" cy="157.50" r="1.3" fill="#22395e"/>
<text x="395.80" y="160.00" font-size="7.4" fill="#2e2e2e" textLength="12.10" lengthAdjust="spacingAndGlyphs" stroke="#2e2e2e" stroke-width="0.15">Ren</text>
<rect x="389.70" y="165.60" width="3.0" height="3.0" fill="#fff" fill-opacity="0.0" stroke="#a9143c" stroke-width="0.9"/>
<text x="395.80" y="169.60" font-size="7.4" fill="#2e2e2e" textLength="15.90" lengthAdjust="spacingAndGlyphs" stroke="#2e2e2e" stroke-width="0.15">Cux1</text>
<text x="411.90" y="166.20" font-size="4.8" fill="#2e2e2e" textLength="9.40" lengthAdjust="spacingAndGlyphs" stroke="#2e2e2e" stroke-width="0.15">low</text>
<text x="8.10" y="250.70" font-size="11" fill="#111" font-weight="bold">D</text>
<text x="30.00" y="250.70" font-size="8.6" fill="#1a1a1a" font-weight="bold" textLength="72.70" lengthAdjust="spacingAndGlyphs">Time of sacrifice</text>
<text x="45.20" y="268.60" font-size="7.6" fill="#3c3c3c" textLength="13.60" lengthAdjust="spacingAndGlyphs" stroke="#3c3c3c" stroke-width="0.12">Ren</text>
<text x="70.70" y="268.60" font-size="7.6" fill="#3c3c3c" textLength="17.00" lengthAdjust="spacingAndGlyphs" stroke="#3c3c3c" stroke-width="0.12">Cux1</text>
<text x="89.20" y="265.20" font-size="4.4" fill="#3c3c3c" textLength="7.70" lengthAdjust="spacingAndGlyphs" stroke="#3c3c3c" stroke-width="0.12">low</text>
<rect x="37.3" y="272.3" width="29.6" height="45.4" fill="#dcdccb"/>
<rect x="66.9" y="272.3" width="28.8" height="45.4" fill="#dadbca"/>
<line x1="67.3" y1="272.3" x2="67.3" y2="317.7" stroke="#e9e8df" stroke-width="0.9"/>
<path d="M53.1 281.4 C54.8 282.0 56.6 284.5 57.1 287.5 C57.4 290.5 56.8 294.0 55.4 296.6 C54.2 298.8 52.2 300.6 49.8 301.2 C48.3 301.5 46.6 301.3 46.0 300.2 C45.8 299.0 46.6 297.6 47.8 296.6 C49.6 294.8 51.0 292.5 51.5 289.5 C51.9 286.5 51.6 283.5 52.2 282.0 C52.4 281.6 52.7 281.4 53.1 281.4 Z" fill="#641527" stroke="#c9a8a8" stroke-width="0.5"/>
<path d="M54.6 285.5 C55.0 289.5 54.0 293.5 51.6 297.2" fill="none" stroke="#8e4055" stroke-width="1.2" opacity="0.8"/>
<path d="M80.9 276.8 C82.0 275.6 83.2 275.1 84.3 275.1 C85.6 275.1 87.0 275.3 87.6 276.0 C88.2 276.8 88.0 278.5 87.4 280.2 C86.9 282.0 86.6 284.0 86.5 286.0 C86.3 289.0 86.4 292.5 86.7 296.0 C87.0 299.0 87.5 301.5 87.2 304.5 C86.9 306.5 86.2 308.0 85.5 309.5 C84.8 311.5 84.0 313.5 82.8 315.6 C82.3 316.6 81.6 317.2 81.0 316.7 C79.6 315.5 78.0 314.0 77.2 312.5 C76.5 311.0 76.5 308.0 76.9 305.5 C77.4 302.5 78.3 299.0 78.9 294.6 C79.3 291.0 79.6 287.0 79.8 283.7 C79.9 281.0 80.1 278.2 80.9 276.8 Z" fill="#6a1a2c" stroke="#c4a0a0" stroke-width="0.4"/>
<path d="M83.8 279 C84.4 288 84.3 297 83.0 306 C82.5 309 81.5 312 80.8 314" fill="none" stroke="#86344a" stroke-width="1.8" opacity="0.7"/>
<text x="42.80" y="312.10" font-size="6.6" fill="#222" textLength="14.30" lengthAdjust="spacingAndGlyphs" stroke="#222" stroke-width="0.15">1 cm</text>
<line x1="41.40" y1="315.10" x2="57.10" y2="315.10" stroke="#444" stroke-width="1.6"/>
<text x="112.30" y="250.70" font-size="11" fill="#111" font-weight="bold">E</text>
<text x="140.00" y="250.70" font-size="8.6" fill="#1a1a1a" font-weight="bold" textLength="82.00" lengthAdjust="spacingAndGlyphs">Spleen at sacrifice</text>
<line x1="147.40" y1="259.30" x2="147.40" y2="321.10" stroke="#1e1e1e" stroke-width="1.2"/>
<line x1="144.40" y1="270.50" x2="147.40" y2="270.50" stroke="#1e1e1e" stroke-width="1.2"/>
<text x="142.15" y="273.42" font-size="8.1" fill="#3c3c3c" text-anchor="end" stroke="#3c3c3c" stroke-width="0.12">0.06</text>
<line x1="144.40" y1="287.17" x2="147.40" y2="287.17" stroke="#1e1e1e" stroke-width="1.2"/>
<text x="142.15" y="290.08" font-size="8.1" fill="#3c3c3c" text-anchor="end" stroke="#3c3c3c" stroke-width="0.12">0.04</text>
<line x1="144.40" y1="303.83" x2="147.40" y2="303.83" stroke="#1e1e1e" stroke-width="1.2"/>
<text x="142.15" y="306.75" font-size="8.1" fill="#3c3c3c" text-anchor="end" stroke="#3c3c3c" stroke-width="0.12">0.02</text>
<line x1="144.40" y1="320.50" x2="147.40" y2="320.50" stroke="#1e1e1e" stroke-width="1.2"/>
<text x="142.15" y="323.42" font-size="8.1" fill="#3c3c3c" text-anchor="end" stroke="#3c3c3c" stroke-width="0.12">0.00</text>
<line x1="144.40" y1="312.17" x2="147.40" y2="312.17" stroke="#1e1e1e" stroke-width="1.2"/>
<line x1="144.40" y1="295.50" x2="147.40" y2="295.50" stroke="#1e1e1e" stroke-width="1.2"/>
<line x1="144.40" y1="278.83" x2="147.40" y2="278.83" stroke="#1e1e1e" stroke-width="1.2"/>
<line x1="144.40" y1="262.17" x2="147.40" y2="262.17" stroke="#1e1e1e" stroke-width="1.2"/>
<line x1="146.80" y1="320.50" x2="215.00" y2="320.50" stroke="#1e1e1e" stroke-width="1.2"/>
<line x1="166.50" y1="320.50" x2="166.50" y2="323.10" stroke="#1e1e1e" stroke-width="1.2"/>
<line x1="195.00" y1="320.50" x2="195.00" y2="323.10" stroke="#1e1e1e" stroke-width="1.2"/>
<text x="160.00" y="333.50" font-size="7.6" fill="#3c3c3c" textLength="13.50" lengthAdjust="spacingAndGlyphs" stroke="#3c3c3c" stroke-width="0.12">Ren</text>
<text x="182.00" y="333.50" font-size="7.6" fill="#3c3c3c" textLength="17.60" lengthAdjust="spacingAndGlyphs" stroke="#3c3c3c" stroke-width="0.12">Cux1</text>
<text x="200.60" y="330.20" font-size="4.4" fill="#3c3c3c" textLength="8.20" lengthAdjust="spacingAndGlyphs" stroke="#3c3c3c" stroke-width="0.12">low</text>
<text x="120.90" y="289.90" font-size="8.6" fill="#2e2e2e" text-anchor="middle" textLength="67.40" lengthAdjust="spacingAndGlyphs" transform="rotate(-90 120.90 289.90)" stroke="#2e2e2e" stroke-width="0.15">Spleen/body weight</text>
<rect x="157.5" y="316.9" width="18.2" height="2.4" rx="1.2" fill="#22395e"/>
<line x1="157.30" y1="318.10" x2="175.80" y2="318.10" stroke="#22395e" stroke-width="1.0"/>
<rect x="193.50" y="270.67" width="3.0" height="3.0" fill="#fff" fill-opacity="0.0" stroke="#a9143c" stroke-width="0.9"/>
<rect x="191.80" y="294.83" width="3.0" height="3.0" fill="#fff" fill-opacity="0.0" stroke="#a9143c" stroke-width="0.9"/>
<rect x="195.20" y="297.33" width="3.0" height="3.0" fill="#fff" fill-opacity="0.0" stroke="#a9143c" stroke-width="0.9"/>
<rect x="190.10" y="299.00" width="3.0" height="3.0" fill="#fff" fill-opacity="0.0" stroke="#a9143c" stroke-width="0.9"/>
<rect x="193.50" y="300.67" width="3.0" height="3.0" fill="#fff" fill-opacity="0.0" stroke="#a9143c" stroke-width="0.9"/>
<rect x="196.90" y="301.50" width="3.0" height="3.0" fill="#fff" fill-opacity="0.0" stroke="#a9143c" stroke-width="0.9"/>
<rect x="190.10" y="303.17" width="3.0" height="3.0" fill="#fff" fill-opacity="0.0" stroke="#a9143c" stroke-width="0.9"/>
<rect x="193.50" y="304.00" width="3.0" height="3.0" fill="#fff" fill-opacity="0.0" stroke="#a9143c" stroke-width="0.9"/>
<rect x="196.90" y="305.67" width="3.0" height="3.0" fill="#fff" fill-opacity="0.0" stroke="#a9143c" stroke-width="0.9"/>
<rect x="190.10" y="306.50" width="3.0" height="3.0" fill="#fff" fill-opacity="0.0" stroke="#a9143c" stroke-width="0.9"/>
<rect x="193.50" y="308.17" width="3.0" height="3.0" fill="#fff" fill-opacity="0.0" stroke="#a9143c" stroke-width="0.9"/>
<rect x="196.90" y="309.00" width="3.0" height="3.0" fill="#fff" fill-opacity="0.0" stroke="#a9143c" stroke-width="0.9"/>
<rect x="188.40" y="309.83" width="3.0" height="3.0" fill="#fff" fill-opacity="0.0" stroke="#a9143c" stroke-width="0.9"/>
<rect x="191.80" y="310.67" width="3.0" height="3.0" fill="#fff" fill-opacity="0.0" stroke="#a9143c" stroke-width="0.9"/>
<rect x="195.20" y="311.50" width="3.0" height="3.0" fill="#fff" fill-opacity="0.0" stroke="#a9143c" stroke-width="0.9"/>
<rect x="198.60" y="312.33" width="3.0" height="3.0" fill="#fff" fill-opacity="0.0" stroke="#a9143c" stroke-width="0.9"/>
<rect x="191.80" y="313.17" width="3.0" height="3.0" fill="#fff" fill-opacity="0.0" stroke="#a9143c" stroke-width="0.9"/>
<rect x="195.20" y="314.00" width="3.0" height="3.0" fill="#fff" fill-opacity="0.0" stroke="#a9143c" stroke-width="0.9"/>
<line x1="195.00" y1="316.33" x2="195.00" y2="293.83" stroke="#a9143c" stroke-width="1.0"/>
<line x1="185.40" y1="305.08" x2="204.60" y2="305.08" stroke="#a9143c" stroke-width="1.0"/>
<line x1="190.70" y1="316.33" x2="199.30" y2="316.33" stroke="#a9143c" stroke-width="1.0"/>
<line x1="190.70" y1="293.83" x2="199.30" y2="293.83" stroke="#a9143c" stroke-width="1.0"/>
<text x="195.00" y="266.40" font-size="7.2" fill="#222" text-anchor="middle" stroke="#222" stroke-width="0.15">***</text>
<text x="232.50" y="250.70" font-size="11" fill="#111" font-weight="bold">F</text>
<text x="260.00" y="250.70" font-size="8.6" fill="#1a1a1a" font-weight="bold" textLength="73.75" lengthAdjust="spacingAndGlyphs">Liver at sacrifice</text>
<line x1="266.90" y1="259.60" x2="266.90" y2="321.10" stroke="#1e1e1e" stroke-width="1.2"/>
<line x1="263.90" y1="262.50" x2="266.90" y2="262.50" stroke="#1e1e1e" stroke-width="1.2"/>
<text x="261.15" y="265.42" font-size="8.1" fill="#3c3c3c" text-anchor="end" stroke="#3c3c3c" stroke-width="0.12">0.10</text>
<line x1="263.90" y1="274.10" x2="266.90" y2="274.10" stroke="#1e1e1e" stroke-width="1.2"/>
<text x="261.15" y="277.02" font-size="8.1" fill="#3c3c3c" text-anchor="end" stroke="#3c3c3c" stroke-width="0.12">0.08</text>
<line x1="263.90" y1="285.70" x2="266.90" y2="285.70" stroke="#1e1e1e" stroke-width="1.2"/>
<text x="261.15" y="288.62" font-size="8.1" fill="#3c3c3c" text-anchor="end" stroke="#3c3c3c" stroke-width="0.12">0.06</text>
<line x1="263.90" y1="297.30" x2="266.90" y2="297.30" stroke="#1e1e1e" stroke-width="1.2"/>
<text x="261.15" y="300.22" font-size="8.1" fill="#3c3c3c" text-anchor="end" stroke="#3c3c3c" stroke-width="0.12">0.04</text>
<line x1="263.90" y1="308.90" x2="266.90" y2="308.90" stroke="#1e1e1e" stroke-width="1.2"/>
<text x="261.15" y="311.82" font-size="8.1" fill="#3c3c3c" text-anchor="end" stroke="#3c3c3c" stroke-width="0.12">0.02</text>
<line x1="263.90" y1="320.50" x2="266.90" y2="320.50" stroke="#1e1e1e" stroke-width="1.2"/>
<text x="261.15" y="323.42" font-size="8.1" fill="#3c3c3c" text-anchor="end" stroke="#3c3c3c" stroke-width="0.12">0.00</text>
<line x1="266.30" y1="320.50" x2="326.30" y2="320.50" stroke="#1e1e1e" stroke-width="1.2"/>
<line x1="285.40" y1="320.50" x2="285.40" y2="323.10" stroke="#1e1e1e" stroke-width="1.2"/>
<line x1="314.00" y1="320.50" x2="314.00" y2="323.10" stroke="#1e1e1e" stroke-width="1.2"/>
<text x="278.90" y="333.50" font-size="7.6" fill="#3c3c3c" textLength="13.10" lengthAdjust="spacingAndGlyphs" stroke="#3c3c3c" stroke-width="0.12">Ren</text>
<text x="300.20" y="333.50" font-size="7.6" fill="#3c3c3c" textLength="18.00" lengthAdjust="spacingAndGlyphs" stroke="#3c3c3c" stroke-width="0.12">Cux1</text>
<text x="319.20" y="330.20" font-size="4.4" fill="#3c3c3c" textLength="8.20" lengthAdjust="spacingAndGlyphs" stroke="#3c3c3c" stroke-width="0.12">low</text>
<text x="240.10" y="290.00" font-size="8.6" fill="#2e2e2e" text-anchor="middle" textLength="58.90" lengthAdjust="spacingAndGlyphs" transform="rotate(-90 240.10 290.00)" stroke="#2e2e2e" stroke-width="0.15">Liver/body weight</text>
<circle cx="280.20" cy="295.27" r="1.25" fill="#22395e"/>
<circle cx="282.80" cy="295.27" r="1.25" fill="#22395e"/>
<circle cx="285.40" cy="295.56" r="1.25" fill="#22395e"/>
<circle cx="288.00" cy="296.14" r="1.25" fill="#22395e"/>
<circle cx="290.60" cy="296.14" r="1.25" fill="#22395e"/>
<circle cx="282.80" cy="303.10" r="1.25" fill="#22395e"/>
<circle cx="285.40" cy="304.26" r="1.25" fill="#22395e"/>
<circle cx="288.00" cy="304.26" r="1.25" fill="#22395e"/>
<line x1="285.40" y1="303.97" x2="285.40" y2="295.85" stroke="#3a5078" stroke-width="1.0"/>
<line x1="275.90" y1="300.49" x2="294.90" y2="300.49" stroke="#3a5078" stroke-width="1.0"/>
<line x1="281.40" y1="303.97" x2="289.40" y2="303.97" stroke="#3a5078" stroke-width="1.0"/>
<line x1="281.40" y1="295.85" x2="289.40" y2="295.85" stroke="#3a5078" stroke-width="1.0"/>
<rect x="309.10" y="274.05" width="3.0" height="3.0" fill="#fff" fill-opacity="0.0" stroke="#a9143c" stroke-width="0.9"/>
<rect x="312.50" y="274.92" width="3.0" height="3.0" fill="#fff" fill-opacity="0.0" stroke="#a9143c" stroke-width="0.9"/>
<rect x="315.90" y="276.37" width="3.0" height="3.0" fill="#fff" fill-opacity="0.0" stroke="#a9143c" stroke-width="0.9"/>
<rect x="310.80" y="278.11" width="3.0" height="3.0" fill="#fff" fill-opacity="0.0" stroke="#a9143c" stroke-width="0.9"/>
<rect x="314.20" y="279.27" width="3.0" height="3.0" fill="#fff" fill-opacity="0.0" stroke="#a9143c" stroke-width="0.9"/>
<rect x="307.40" y="280.72" width="3.0" height="3.0" fill="#fff" fill-opacity="0.0" stroke="#a9143c" stroke-width="0.9"/>
<rect x="310.80" y="281.01" width="3.0" height="3.0" fill="#fff" fill-opacity="0.0" stroke="#a9143c" stroke-width="0.9"/>
<rect x="314.20" y="281.88" width="3.0" height="3.0" fill="#fff" fill-opacity="0.0" stroke="#a9143c" stroke-width="0.9"/>
<rect x="317.60" y="283.04" width="3.0" height="3.0" fill="#fff" fill-opacity="0.0" stroke="#a9143c" stroke-width="0.9"/>
<rect x="310.80" y="283.91" width="3.0" height="3.0" fill="#fff" fill-opacity="0.0" stroke="#a9143c" stroke-width="0.9"/>
<rect x="314.20" y="284.78" width="3.0" height="3.0" fill="#fff" fill-opacity="0.0" stroke="#a9143c" stroke-width="0.9"/>
<rect x="312.50" y="292.03" width="3.0" height="3.0" fill="#fff" fill-opacity="0.0" stroke="#a9143c" stroke-width="0.9"/>
<line x1="314.00" y1="287.15" x2="314.00" y2="277.29" stroke="#a9143c" stroke-width="1.0"/>
<line x1="304.00" y1="282.51" x2="324.00" y2="282.51" stroke="#a9143c" stroke-width="1.0"/>
<line x1="310.00" y1="287.15" x2="318.00" y2="287.15" stroke="#a9143c" stroke-width="1.0"/>
<line x1="310.00" y1="277.29" x2="318.00" y2="277.29" stroke="#a9143c" stroke-width="1.0"/>
<text x="314.00" y="267.60" font-size="7.2" fill="#222" text-anchor="middle" stroke="#222" stroke-width="0.15">**</text>
<text x="343.75" y="250.70" font-size="11" fill="#111" font-weight="bold">G</text>
<text x="402.50" y="250.70" font-size="8.6" fill="#1a1a1a" font-weight="bold" textLength="15.50" lengthAdjust="spacingAndGlyphs">BM</text>
<text x="435.40" y="250.70" font-size="8.6" fill="#1a1a1a" font-weight="bold" textLength="30.40" lengthAdjust="spacingAndGlyphs">Spleen</text>
<line x1="387.40" y1="262.30" x2="387.40" y2="321.40" stroke="#1e1e1e" stroke-width="1.2"/>
<line x1="384.30" y1="264.90" x2="387.40" y2="264.90" stroke="#1e1e1e" stroke-width="1.2"/>
<text x="381.85" y="267.71" font-size="7.8" fill="#3c3c3c" text-anchor="end" stroke="#3c3c3c" stroke-width="0.12">600</text>
<line x1="384.30" y1="283.53" x2="387.40" y2="283.53" stroke="#1e1e1e" stroke-width="1.2"/>
<text x="381.85" y="286.34" font-size="7.8" fill="#3c3c3c" text-anchor="end" stroke="#3c3c3c" stroke-width="0.12">400</text>
<line x1="384.30" y1="302.17" x2="387.40" y2="302.17" stroke="#1e1e1e" stroke-width="1.2"/>
<text x="381.85" y="304.97" font-size="7.8" fill="#3c3c3c" text-anchor="end" stroke="#3c3c3c" stroke-width="0.12">200</text>
<line x1="384.30" y1="320.80" x2="387.40" y2="320.80" stroke="#1e1e1e" stroke-width="1.2"/>
<text x="381.85" y="323.61" font-size="7.8" fill="#3c3c3c" text-anchor="end" stroke="#3c3c3c" stroke-width="0.12">0</text>
<line x1="386.80" y1="320.80" x2="473.50" y2="320.80" stroke="#1e1e1e" stroke-width="1.2"/>
<line x1="400.50" y1="320.80" x2="400.50" y2="323.50" stroke="#1e1e1e" stroke-width="1.2"/>
<line x1="420.50" y1="320.80" x2="420.50" y2="323.50" stroke="#1e1e1e" stroke-width="1.2"/>
<line x1="441.50" y1="320.80" x2="441.50" y2="323.50" stroke="#1e1e1e" stroke-width="1.2"/>
<line x1="461.20" y1="320.80" x2="461.20" y2="323.50" stroke="#1e1e1e" stroke-width="1.2"/>
<text x="351.50" y="291.50" font-size="8.6" fill="#2e2e2e" text-anchor="middle" textLength="69.00" lengthAdjust="spacingAndGlyphs" transform="rotate(-90 351.50 291.50)" stroke="#2e2e2e" stroke-width="0.15">Total leukocyte count</text>
<text x="363.60" y="291.00" font-size="8.6" fill="#2e2e2e" text-anchor="middle" textLength="24.00" lengthAdjust="spacingAndGlyphs" transform="rotate(-90 363.60 291.00)" stroke="#2e2e2e" stroke-width="0.15">(x 10<tspan font-size="5.5" dy="-3">6</tspan><tspan dy="3">)</tspan></text>
<text x="402.00" y="327.80" font-size="7.4" fill="#3c3c3c" text-anchor="end" transform="rotate(-40 402.00 327.80)" stroke="#3c3c3c" stroke-width="0.12">Ren</text>
<text x="443.00" y="327.80" font-size="7.4" fill="#3c3c3c" text-anchor="end" transform="rotate(-40 443.00 327.80)" stroke="#3c3c3c" stroke-width="0.12">Ren</text>
<text x="422.30" y="327.80" font-size="7.4" fill="#3c3c3c" text-anchor="end" transform="rotate(-40 422.30 327.80)" stroke="#3c3c3c" stroke-width="0.12">Cux1<tspan font-size="4.8" dy="-3">low</tspan></text>
<text x="463.00" y="327.80" font-size="7.4" fill="#3c3c3c" text-anchor="end" transform="rotate(-40 463.00 327.80)" stroke="#3c3c3c" stroke-width="0.12">Cux1<tspan font-size="4.8" dy="-3">low</tspan></text>
<circle cx="397.05" cy="310.55" r="1.25" fill="#22395e"/>
<circle cx="399.35" cy="311.48" r="1.25" fill="#22395e"/>
<circle cx="401.65" cy="311.95" r="1.25" fill="#22395e"/>
<circle cx="403.95" cy="312.42" r="1.25" fill="#22395e"/>
<circle cx="394.50" cy="312.60" r="1.25" fill="#22395e"/>
<circle cx="395.90" cy="312.88" r="1.25" fill="#22395e"/>
<circle cx="398.20" cy="313.16" r="1.25" fill="#22395e"/>
<circle cx="400.50" cy="313.35" r="1.25" fill="#22395e"/>
<circle cx="402.80" cy="313.53" r="1.25" fill="#22395e"/>
<circle cx="405.10" cy="313.81" r="1.25" fill="#22395e"/>
<circle cx="406.50" cy="314.28" r="1.25" fill="#22395e"/>
<circle cx="399.35" cy="314.74" r="1.25" fill="#22395e"/>
<circle cx="401.65" cy="315.21" r="1.25" fill="#22395e"/>
<line x1="400.50" y1="314.46" x2="400.50" y2="311.30" stroke="#3a5078" stroke-width="1.0"/>
<line x1="395.00" y1="312.88" x2="406.00" y2="312.88" stroke="#3a5078" stroke-width="1.0"/>
<line x1="397.70" y1="314.46" x2="403.30" y2="314.46" stroke="#3a5078" stroke-width="1.0"/>
<line x1="397.70" y1="311.30" x2="403.30" y2="311.30" stroke="#3a5078" stroke-width="1.0"/>
<rect x="414.50" y="303.46" width="3.0" height="3.0" fill="#fff" fill-opacity="0.0" stroke="#a9143c" stroke-width="0.9"/>
<rect x="417.50" y="304.39" width="3.0" height="3.0" fill="#fff" fill-opacity="0.0" stroke="#a9143c" stroke-width="0.9"/>
<rect x="420.50" y="305.32" width="3.0" height="3.0" fill="#fff" fill-opacity="0.0" stroke="#a9143c" stroke-width="0.9"/>
<rect x="423.50" y="305.79" width="3.0" height="3.0" fill="#fff" fill-opacity="0.0" stroke="#a9143c" stroke-width="0.9"/>
<rect x="412.50" y="306.26" width="3.0" height="3.0" fill="#fff" fill-opacity="0.0" stroke="#a9143c" stroke-width="0.9"/>
<rect x="414.50" y="306.72" width="3.0" height="3.0" fill="#fff" fill-opacity="0.0" stroke="#a9143c" stroke-width="0.9"/>
<rect x="417.50" y="307.19" width="3.0" height="3.0" fill="#fff" fill-opacity="0.0" stroke="#a9143c" stroke-width="0.9"/>
<rect x="420.50" y="307.65" width="3.0" height="3.0" fill="#fff" fill-opacity="0.0" stroke="#a9143c" stroke-width="0.9"/>
<rect x="423.50" y="308.12" width="3.0" height="3.0" fill="#fff" fill-opacity="0.0" stroke="#a9143c" stroke-width="0.9"/>
<rect x="425.50" y="308.59" width="3.0" height="3.0" fill="#fff" fill-opacity="0.0" stroke="#a9143c" stroke-width="0.9"/>
<rect x="413.00" y="309.05" width="3.0" height="3.0" fill="#fff" fill-opacity="0.0" stroke="#a9143c" stroke-width="0.9"/>
<rect x="416.00" y="309.52" width="3.0" height="3.0" fill="#fff" fill-opacity="0.0" stroke="#a9143c" stroke-width="0.9"/>
<rect x="419.00" y="309.98" width="3.0" height="3.0" fill="#fff" fill-opacity="0.0" stroke="#a9143c" stroke-width="0.9"/>
<rect x="422.00" y="310.45" width="3.0" height="3.0" fill="#fff" fill-opacity="0.0" stroke="#a9143c" stroke-width="0.9"/>
<rect x="425.00" y="310.92" width="3.0" height="3.0" fill="#fff" fill-opacity="0.0" stroke="#a9143c" stroke-width="0.9"/>
<line x1="420.50" y1="311.02" x2="420.50" y2="306.36" stroke="#a9143c" stroke-width="1.0"/>
<line x1="415.00" y1="308.69" x2="426.00" y2="308.69" stroke="#a9143c" stroke-width="1.0"/>
<line x1="417.70" y1="311.02" x2="423.30" y2="311.02" stroke="#a9143c" stroke-width="1.0"/>
<line x1="417.70" y1="306.36" x2="423.30" y2="306.36" stroke="#a9143c" stroke-width="1.0"/>
<circle cx="435.00" cy="313.97" r="1.2" fill="#22395e"/>
<circle cx="437.15" cy="314.51" r="1.2" fill="#22395e"/>
<circle cx="439.30" cy="315.05" r="1.2" fill="#22395e"/>
<circle cx="441.45" cy="315.49" r="1.2" fill="#22395e"/>
<circle cx="443.60" cy="315.23" r="1.2" fill="#22395e"/>
<circle cx="445.75" cy="314.98" r="1.2" fill="#22395e"/>
<circle cx="447.90" cy="314.72" r="1.2" fill="#22395e"/>
<circle cx="435.00" cy="315.52" r="1.2" fill="#22395e"/>
<circle cx="437.15" cy="315.96" r="1.2" fill="#22395e"/>
<circle cx="439.30" cy="316.41" r="1.2" fill="#22395e"/>
<circle cx="441.45" cy="316.76" r="1.2" fill="#22395e"/>
<circle cx="443.60" cy="316.59" r="1.2" fill="#22395e"/>
<circle cx="445.75" cy="316.33" r="1.2" fill="#22395e"/>
<circle cx="447.90" cy="316.08" r="1.2" fill="#22395e"/>
<line x1="441.50" y1="316.14" x2="441.50" y2="315.21" stroke="#3a5078" stroke-width="1.0"/>
<line x1="436.00" y1="315.68" x2="447.00" y2="315.68" stroke="#3a5078" stroke-width="1.0"/>
<line x1="439.00" y1="316.14" x2="444.00" y2="316.14" stroke="#3a5078" stroke-width="1.0"/>
<line x1="439.00" y1="315.21" x2="444.00" y2="315.21" stroke="#3a5078" stroke-width="1.0"/>
<rect x="459.70" y="267.13" width="3.0" height="3.0" fill="#fff" fill-opacity="0.0" stroke="#a9143c" stroke-width="0.9"/>
<rect x="459.70" y="283.90" width="3.0" height="3.0" fill="#fff" fill-opacity="0.0" stroke="#a9143c" stroke-width="0.9"/>
<rect x="458.20" y="288.56" width="3.0" height="3.0" fill="#fff" fill-opacity="0.0" stroke="#a9143c" stroke-width="0.9"/>
<rect x="461.20" y="291.35" width="3.0" height="3.0" fill="#fff" fill-opacity="0.0" stroke="#a9143c" stroke-width="0.9"/>
<rect x="459.70" y="296.01" width="3.0" height="3.0" fill="#fff" fill-opacity="0.0" stroke="#a9143c" stroke-width="0.9"/>
<rect x="459.70" y="306.72" width="3.0" height="3.0" fill="#fff" fill-opacity="0.0" stroke="#a9143c" stroke-width="0.9"/>
<rect x="453.70" y="310.45" width="3.0" height="3.0" fill="#fff" fill-opacity="0.0" stroke="#a9143c" stroke-width="0.9"/>
<rect x="456.70" y="310.73" width="3.0" height="3.0" fill="#fff" fill-opacity="0.0" stroke="#a9143c" stroke-width="0.9"/>
<rect x="459.70" y="310.92" width="3.0" height="3.0" fill="#fff" fill-opacity="0.0" stroke="#a9143c" stroke-width="0.9"/>
<rect x="462.70" y="311.10" width="3.0" height="3.0" fill="#fff" fill-opacity="0.0" stroke="#a9143c" stroke-width="0.9"/>
<rect x="465.70" y="311.38" width="3.0" height="3.0" fill="#fff" fill-opacity="0.0" stroke="#a9143c" stroke-width="0.9"/>
<line x1="461.20" y1="317.07" x2="461.20" y2="286.79" stroke="#a9143c" stroke-width="1.0"/>
<line x1="454.50" y1="302.17" x2="467.90" y2="302.17" stroke="#a9143c" stroke-width="1.0"/>
<line x1="457.80" y1="317.07" x2="464.60" y2="317.07" stroke="#a9143c" stroke-width="1.0"/>
<line x1="457.80" y1="286.79" x2="464.60" y2="286.79" stroke="#a9143c" stroke-width="1.0"/>
<path d="M399.20 293.10V290.30H420.50V293.10" fill="none" stroke="#1e1e1e" stroke-width="1.0"/>
<text x="409.85" y="289.77" font-size="7.2" fill="#222" text-anchor="middle" font-weight="bold">**</text>
<path d="M439.20 264.00V261.20H461.30V264.00" fill="none" stroke="#1e1e1e" stroke-width="1.0"/>
<text x="450.25" y="260.67" font-size="7.2" fill="#222" text-anchor="middle" font-weight="bold">**</text>
<text x="7.50" y="363.00" font-size="11" fill="#111" font-weight="bold">H</text>
<text x="48.75" y="363.00" font-size="8.6" fill="#1a1a1a" font-weight="bold" textLength="60.50" lengthAdjust="spacingAndGlyphs">Bone marrow</text>
<text x="118.75" y="363.00" font-size="8.6" fill="#1a1a1a" font-weight="bold" textLength="30.00" lengthAdjust="spacingAndGlyphs">Spleen</text>
<line x1="46.80" y1="373.10" x2="46.80" y2="441.40" stroke="#1e1e1e" stroke-width="1.2"/>
<line x1="44.00" y1="440.80" x2="46.80" y2="440.80" stroke="#1e1e1e" stroke-width="1.2"/>
<line x1="44.00" y1="424.60" x2="46.80" y2="424.60" stroke="#1e1e1e" stroke-width="1.2"/>
<line x1="44.00" y1="408.40" x2="46.80" y2="408.40" stroke="#1e1e1e" stroke-width="1.2"/>
<line x1="44.00" y1="392.20" x2="46.80" y2="392.20" stroke="#1e1e1e" stroke-width="1.2"/>
<line x1="44.00" y1="376.00" x2="46.80" y2="376.00" stroke="#1e1e1e" stroke-width="1.2"/>
<line x1="45.50" y1="435.92" x2="46.80" y2="435.92" stroke="#1e1e1e" stroke-width="0.9"/>
<line x1="45.50" y1="433.07" x2="46.80" y2="433.07" stroke="#1e1e1e" stroke-width="0.9"/>
<line x1="45.50" y1="431.05" x2="46.80" y2="431.05" stroke="#1e1e1e" stroke-width="0.9"/>
<line x1="45.50" y1="429.48" x2="46.80" y2="429.48" stroke="#1e1e1e" stroke-width="0.9"/>
<line x1="45.50" y1="428.19" x2="46.80" y2="428.19" stroke="#1e1e1e" stroke-width="0.9"/>
<line x1="45.50" y1="427.11" x2="46.80" y2="427.11" stroke="#1e1e1e" stroke-width="0.9"/>
<line x1="45.50" y1="426.17" x2="46.80" y2="426.17" stroke="#1e1e1e" stroke-width="0.9"/>
<line x1="45.50" y1="425.34" x2="46.80" y2="425.34" stroke="#1e1e1e" stroke-width="0.9"/>
<line x1="45.50" y1="419.72" x2="46.80" y2="419.72" stroke="#1e1e1e" stroke-width="0.9"/>
<line x1="45.50" y1="416.87" x2="46.80" y2="416.87" stroke="#1e1e1e" stroke-width="0.9"/>
<line x1="45.50" y1="414.85" x2="46.80" y2="414.85" stroke="#1e1e1e" stroke-width="0.9"/>
<line x1="45.50" y1="413.28" x2="46.80" y2="413.28" stroke="#1e1e1e" stroke-width="0.9"/>
<line x1="45.50" y1="411.99" x2="46.80" y2="411.99" stroke="#1e1e1e" stroke-width="0.9"/>
<line x1="45.50" y1="410.91" x2="46.80" y2="410.91" stroke="#1e1e1e" stroke-width="0.9"/>
<line x1="45.50" y1="409.97" x2="46.80" y2="409.97" stroke="#1e1e1e" stroke-width="0.9"/>
<line x1="45.50" y1="409.14" x2="46.80" y2="409.14" stroke="#1e1e1e" stroke-width="0.9"/>
<line x1="45.50" y1="403.52" x2="46.80" y2="403.52" stroke="#1e1e1e" stroke-width="0.9"/>
<line x1="45.50" y1="400.67" x2="46.80" y2="400.67" stroke="#1e1e1e" stroke-width="0.9"/>
<line x1="45.50" y1="398.65" x2="46.80" y2="398.65" stroke="#1e1e1e" stroke-width="0.9"/>
<line x1="45.50" y1="397.08" x2="46.80" y2="397.08" stroke="#1e1e1e" stroke-width="0.9"/>
<line x1="45.50" y1="395.79" x2="46.80" y2="395.79" stroke="#1e1e1e" stroke-width="0.9"/>
<line x1="45.50" y1="394.71" x2="46.80" y2="394.71" stroke="#1e1e1e" stroke-width="0.9"/>
<line x1="45.50" y1="393.77" x2="46.80" y2="393.77" stroke="#1e1e1e" stroke-width="0.9"/>
<line x1="45.50" y1="392.94" x2="46.80" y2="392.94" stroke="#1e1e1e" stroke-width="0.9"/>
<line x1="45.50" y1="387.32" x2="46.80" y2="387.32" stroke="#1e1e1e" stroke-width="0.9"/>
<line x1="45.50" y1="384.47" x2="46.80" y2="384.47" stroke="#1e1e1e" stroke-width="0.9"/>
<line x1="45.50" y1="382.45" x2="46.80" y2="382.45" stroke="#1e1e1e" stroke-width="0.9"/>
<line x1="45.50" y1="380.88" x2="46.80" y2="380.88" stroke="#1e1e1e" stroke-width="0.9"/>
<line x1="45.50" y1="379.59" x2="46.80" y2="379.59" stroke="#1e1e1e" stroke-width="0.9"/>
<line x1="45.50" y1="378.51" x2="46.80" y2="378.51" stroke="#1e1e1e" stroke-width="0.9"/>
<line x1="45.50" y1="377.57" x2="46.80" y2="377.57" stroke="#1e1e1e" stroke-width="0.9"/>
<line x1="45.50" y1="376.74" x2="46.80" y2="376.74" stroke="#1e1e1e" stroke-width="0.9"/>
<text x="29.9" y="444.00" font-size="7.6" fill="#3c3c3c" stroke="#3c3c3c" stroke-width="0.22" textLength="8.0" lengthAdjust="spacingAndGlyphs">10</text>
<text x="38.3" y="440.20" font-size="5.0" fill="#3c3c3c">5</text>
<text x="29.9" y="427.80" font-size="7.6" fill="#3c3c3c" stroke="#3c3c3c" stroke-width="0.22" textLength="8.0" lengthAdjust="spacingAndGlyphs">10</text>
<text x="38.3" y="424.00" font-size="5.0" fill="#3c3c3c">6</text>
<text x="29.9" y="411.60" font-size="7.6" fill="#3c3c3c" stroke="#3c3c3c" stroke-width="0.22" textLength="8.0" lengthAdjust="spacingAndGlyphs">10</text>
<text x="38.3" y="407.80" font-size="5.0" fill="#3c3c3c">7</text>
<text x="29.9" y="395.40" font-size="7.6" fill="#3c3c3c" stroke="#3c3c3c" stroke-width="0.22" textLength="8.0" lengthAdjust="spacingAndGlyphs">10</text>
<text x="38.3" y="391.60" font-size="5.0" fill="#3c3c3c">8</text>
<text x="29.9" y="379.20" font-size="7.6" fill="#3c3c3c" stroke="#3c3c3c" stroke-width="0.22" textLength="8.0" lengthAdjust="spacingAndGlyphs">10</text>
<text x="38.3" y="375.40" font-size="5.0" fill="#3c3c3c">9</text>
<text x="23.60" y="406.90" font-size="8.6" fill="#2e2e2e" text-anchor="middle" textLength="62.90" lengthAdjust="spacingAndGlyphs" transform="rotate(-90 23.60 406.90)" stroke="#2e2e2e" stroke-width="0.15">Absolute cell count</text>
<line x1="46.20" y1="440.80" x2="168.30" y2="440.80" stroke="#1e1e1e" stroke-width="1.2"/>
<line x1="60.50" y1="440.80" x2="60.50" y2="443.40" stroke="#1e1e1e" stroke-width="1.2"/>
<line x1="91.80" y1="440.80" x2="91.80" y2="443.40" stroke="#1e1e1e" stroke-width="1.2"/>
<line x1="123.20" y1="440.80" x2="123.20" y2="443.40" stroke="#1e1e1e" stroke-width="1.2"/>
<line x1="154.50" y1="440.80" x2="154.50" y2="443.40" stroke="#1e1e1e" stroke-width="1.2"/>
<text x="56.50" y="454.20" font-size="7.6" fill="#3c3c3c" text-anchor="middle" textLength="30.00" lengthAdjust="spacingAndGlyphs" stroke="#3c3c3c" stroke-width="0.12">CD11b+</text>
<text x="90.60" y="454.20" font-size="7.6" fill="#3c3c3c" text-anchor="middle" textLength="30.00" lengthAdjust="spacingAndGlyphs" stroke="#3c3c3c" stroke-width="0.12">CD11b+</text>
<text x="124.50" y="454.20" font-size="7.6" fill="#3c3c3c" text-anchor="middle" textLength="30.00" lengthAdjust="spacingAndGlyphs" stroke="#3c3c3c" stroke-width="0.12">CD11b+</text>
<text x="158.50" y="454.20" font-size="7.6" fill="#3c3c3c" text-anchor="middle" textLength="30.00" lengthAdjust="spacingAndGlyphs" stroke="#3c3c3c" stroke-width="0.12">CD11b+</text>
<text x="56.10" y="463.00" font-size="7.6" fill="#3c3c3c" text-anchor="middle" textLength="16.00" lengthAdjust="spacingAndGlyphs" stroke="#3c3c3c" stroke-width="0.12">Gr1-</text>
<text x="90.10" y="463.00" font-size="7.6" fill="#3c3c3c" text-anchor="middle" textLength="18.00" lengthAdjust="spacingAndGlyphs" stroke="#3c3c3c" stroke-width="0.12">Gr1+</text>
<text x="125.00" y="463.00" font-size="7.6" fill="#3c3c3c" text-anchor="middle" textLength="16.00" lengthAdjust="spacingAndGlyphs" stroke="#3c3c3c" stroke-width="0.12">Gr1-</text>
<text x="158.80" y="463.00" font-size="7.6" fill="#3c3c3c" text-anchor="middle" textLength="18.00" lengthAdjust="spacingAndGlyphs" stroke="#3c3c3c" stroke-width="0.12">Gr1+</text>
<circle cx="54.30" cy="411.32" r="1.25" fill="#22395e"/>
<circle cx="53.20" cy="414.07" r="1.25" fill="#22395e"/>
<circle cx="55.40" cy="415.69" r="1.25" fill="#22395e"/>
<circle cx="53.20" cy="417.31" r="1.25" fill="#22395e"/>
<circle cx="55.40" cy="418.12" r="1.25" fill="#22395e"/>
<circle cx="54.30" cy="419.74" r="1.25" fill="#22395e"/>
<line x1="54.30" y1="418.93" x2="54.30" y2="413.58" stroke="#3a5078" stroke-width="1.0"/>
<line x1="50.70" y1="416.50" x2="57.90" y2="416.50" stroke="#3a5078" stroke-width="1.0"/>
<line x1="52.50" y1="418.93" x2="56.10" y2="418.93" stroke="#3a5078" stroke-width="1.0"/>
<line x1="52.50" y1="413.58" x2="56.10" y2="413.58" stroke="#3a5078" stroke-width="1.0"/>
<rect x="63.80" y="401.23" width="3.0" height="3.0" fill="#fff" fill-opacity="0.0" stroke="#a9143c" stroke-width="0.9"/>
<rect x="66.80" y="403.66" width="3.0" height="3.0" fill="#fff" fill-opacity="0.0" stroke="#a9143c" stroke-width="0.9"/>
<rect x="63.80" y="405.28" width="3.0" height="3.0" fill="#fff" fill-opacity="0.0" stroke="#a9143c" stroke-width="0.9"/>
<rect x="66.80" y="406.90" width="3.0" height="3.0" fill="#fff" fill-opacity="0.0" stroke="#a9143c" stroke-width="0.9"/>
<rect x="63.80" y="408.52" width="3.0" height="3.0" fill="#fff" fill-opacity="0.0" stroke="#a9143c" stroke-width="0.9"/>
<rect x="66.80" y="410.95" width="3.0" height="3.0" fill="#fff" fill-opacity="0.0" stroke="#a9143c" stroke-width="0.9"/>
<line x1="66.80" y1="410.02" x2="66.80" y2="404.35" stroke="#a9143c" stroke-width="1.0"/>
<line x1="63.20" y1="407.10" x2="70.40" y2="407.10" stroke="#a9143c" stroke-width="1.0"/>
<line x1="65.00" y1="410.02" x2="68.60" y2="410.02" stroke="#a9143c" stroke-width="1.0"/>
<line x1="65.00" y1="404.35" x2="68.60" y2="404.35" stroke="#a9143c" stroke-width="1.0"/>
<circle cx="82.60" cy="394.47" r="1.25" fill="#22395e"/>
<circle cx="84.50" cy="395.12" r="1.25" fill="#22395e"/>
<circle cx="86.70" cy="395.44" r="1.25" fill="#22395e"/>
<circle cx="88.60" cy="395.76" r="1.25" fill="#22395e"/>
<circle cx="84.50" cy="396.41" r="1.25" fill="#22395e"/>
<circle cx="86.70" cy="397.06" r="1.25" fill="#22395e"/>
<line x1="85.60" y1="396.41" x2="85.60" y2="394.79" stroke="#3a5078" stroke-width="1.0"/>
<line x1="82.00" y1="395.60" x2="89.20" y2="395.60" stroke="#3a5078" stroke-width="1.0"/>
<line x1="83.80" y1="396.41" x2="87.40" y2="396.41" stroke="#3a5078" stroke-width="1.0"/>
<line x1="83.80" y1="394.79" x2="87.40" y2="394.79" stroke="#3a5078" stroke-width="1.0"/>
<rect x="93.60" y="387.95" width="3.0" height="3.0" fill="#fff" fill-opacity="0.0" stroke="#a9143c" stroke-width="0.9"/>
<rect x="96.60" y="388.76" width="3.0" height="3.0" fill="#fff" fill-opacity="0.0" stroke="#a9143c" stroke-width="0.9"/>
<rect x="99.60" y="389.89" width="3.0" height="3.0" fill="#fff" fill-opacity="0.0" stroke="#a9143c" stroke-width="0.9"/>
<rect x="93.60" y="390.70" width="3.0" height="3.0" fill="#fff" fill-opacity="0.0" stroke="#a9143c" stroke-width="0.9"/>
<rect x="96.60" y="391.51" width="3.0" height="3.0" fill="#fff" fill-opacity="0.0" stroke="#a9143c" stroke-width="0.9"/>
<rect x="99.60" y="392.32" width="3.0" height="3.0" fill="#fff" fill-opacity="0.0" stroke="#a9143c" stroke-width="0.9"/>
<line x1="98.10" y1="393.01" x2="98.10" y2="390.26" stroke="#a9143c" stroke-width="1.0"/>
<line x1="94.50" y1="391.71" x2="101.70" y2="391.71" stroke="#a9143c" stroke-width="1.0"/>
<line x1="96.30" y1="393.01" x2="99.90" y2="393.01" stroke="#a9143c" stroke-width="1.0"/>
<line x1="96.30" y1="390.26" x2="99.90" y2="390.26" stroke="#a9143c" stroke-width="1.0"/>
<circle cx="114.80" cy="414.07" r="1.25" fill="#22395e"/>
<circle cx="117.00" cy="414.88" r="1.25" fill="#22395e"/>
<circle cx="119.20" cy="415.69" r="1.25" fill="#22395e"/>
<circle cx="115.90" cy="416.50" r="1.25" fill="#22395e"/>
<circle cx="118.10" cy="417.31" r="1.25" fill="#22395e"/>
<circle cx="117.00" cy="425.41" r="1.25" fill="#22395e"/>
<line x1="117.00" y1="419.74" x2="117.00" y2="413.26" stroke="#3a5078" stroke-width="1.0"/>
<line x1="113.40" y1="416.50" x2="120.60" y2="416.50" stroke="#3a5078" stroke-width="1.0"/>
<line x1="115.20" y1="419.74" x2="118.80" y2="419.74" stroke="#3a5078" stroke-width="1.0"/>
<line x1="115.20" y1="413.26" x2="118.80" y2="413.26" stroke="#3a5078" stroke-width="1.0"/>
<rect x="128.00" y="393.94" width="3.0" height="3.0" fill="#fff" fill-opacity="0.0" stroke="#a9143c" stroke-width="0.9"/>
<rect x="128.00" y="398.80" width="3.0" height="3.0" fill="#fff" fill-opacity="0.0" stroke="#a9143c" stroke-width="0.9"/>
<rect x="126.50" y="402.04" width="3.0" height="3.0" fill="#fff" fill-opacity="0.0" stroke="#a9143c" stroke-width="0.9"/>
<rect x="129.50" y="404.47" width="3.0" height="3.0" fill="#fff" fill-opacity="0.0" stroke="#a9143c" stroke-width="0.9"/>
<rect x="128.00" y="407.71" width="3.0" height="3.0" fill="#fff" fill-opacity="0.0" stroke="#a9143c" stroke-width="0.9"/>
<rect x="128.00" y="410.95" width="3.0" height="3.0" fill="#fff" fill-opacity="0.0" stroke="#a9143c" stroke-width="0.9"/>
<line x1="129.50" y1="409.21" x2="129.50" y2="399.49" stroke="#a9143c" stroke-width="1.0"/>
<line x1="125.90" y1="404.35" x2="133.10" y2="404.35" stroke="#a9143c" stroke-width="1.0"/>
<line x1="127.70" y1="409.21" x2="131.30" y2="409.21" stroke="#a9143c" stroke-width="1.0"/>
<line x1="127.70" y1="399.49" x2="131.30" y2="399.49" stroke="#a9143c" stroke-width="1.0"/>
<circle cx="147.20" cy="412.45" r="1.25" fill="#22395e"/>
<circle cx="149.40" cy="414.07" r="1.25" fill="#22395e"/>
<circle cx="147.20" cy="415.69" r="1.25" fill="#22395e"/>
<circle cx="149.40" cy="417.31" r="1.25" fill="#22395e"/>
<circle cx="148.30" cy="418.93" r="1.25" fill="#22395e"/>
<circle cx="148.30" cy="421.36" r="1.25" fill="#22395e"/>
<circle cx="148.30" cy="423.30" r="1.25" fill="#22395e"/>
<line x1="148.30" y1="419.74" x2="148.30" y2="413.26" stroke="#3a5078" stroke-width="1.0"/>
<line x1="144.70" y1="416.50" x2="151.90" y2="416.50" stroke="#3a5078" stroke-width="1.0"/>
<line x1="146.50" y1="419.74" x2="150.10" y2="419.74" stroke="#3a5078" stroke-width="1.0"/>
<line x1="146.50" y1="413.26" x2="150.10" y2="413.26" stroke="#3a5078" stroke-width="1.0"/>
<rect x="157.80" y="383.25" width="3.0" height="3.0" fill="#fff" fill-opacity="0.0" stroke="#a9143c" stroke-width="0.9"/>
<rect x="160.80" y="385.84" width="3.0" height="3.0" fill="#fff" fill-opacity="0.0" stroke="#a9143c" stroke-width="0.9"/>
<rect x="157.80" y="389.08" width="3.0" height="3.0" fill="#fff" fill-opacity="0.0" stroke="#a9143c" stroke-width="0.9"/>
<rect x="160.80" y="391.51" width="3.0" height="3.0" fill="#fff" fill-opacity="0.0" stroke="#a9143c" stroke-width="0.9"/>
<rect x="159.30" y="397.18" width="3.0" height="3.0" fill="#fff" fill-opacity="0.0" stroke="#a9143c" stroke-width="0.9"/>
<rect x="159.30" y="402.04" width="3.0" height="3.0" fill="#fff" fill-opacity="0.0" stroke="#a9143c" stroke-width="0.9"/>
<rect x="159.30" y="406.09" width="3.0" height="3.0" fill="#fff" fill-opacity="0.0" stroke="#a9143c" stroke-width="0.9"/>
<line x1="160.80" y1="402.73" x2="160.80" y2="384.91" stroke="#a9143c" stroke-width="1.0"/>
<line x1="157.20" y1="393.82" x2="164.40" y2="393.82" stroke="#a9143c" stroke-width="1.0"/>
<line x1="159.00" y1="402.73" x2="162.60" y2="402.73" stroke="#a9143c" stroke-width="1.0"/>
<line x1="159.00" y1="384.91" x2="162.60" y2="384.91" stroke="#a9143c" stroke-width="1.0"/>
<path d="M53.30 388.60V378.10H66.80V381.10" fill="none" stroke="#1e1e1e" stroke-width="1.0"/>
<text x="60.05" y="378.37" font-size="7.2" fill="#222" text-anchor="middle" font-weight="bold">*</text>
<path d="M84.60 388.60V378.10H98.10V381.10" fill="none" stroke="#1e1e1e" stroke-width="1.0"/>
<text x="91.35" y="378.37" font-size="7.2" fill="#222" text-anchor="middle" font-weight="bold">*</text>
<path d="M116.00 388.60V378.10H129.50V381.10" fill="none" stroke="#1e1e1e" stroke-width="1.0"/>
<text x="122.75" y="378.37" font-size="7.2" fill="#222" text-anchor="middle" font-weight="bold">*</text>
<path d="M147.30 388.60V378.10H160.80V381.10" fill="none" stroke="#1e1e1e" stroke-width="1.0"/>
<text x="154.05" y="378.37" font-size="7.2" fill="#222" text-anchor="middle" font-weight="bold">**</text>
<circle cx="67.60" cy="426.40" r="1.3" fill="#22395e"/>
<text x="72.00" y="429.00" font-size="7.6" fill="#2e2e2e" textLength="12.40" lengthAdjust="spacingAndGlyphs" stroke="#2e2e2e" stroke-width="0.15">Ren</text>
<rect x="66.10" y="434.20" width="3.0" height="3.0" fill="#fff" fill-opacity="0.0" stroke="#a9143c" stroke-width="0.9"/>
<text x="72.00" y="438.30" font-size="7.6" fill="#2e2e2e" textLength="16.50" lengthAdjust="spacingAndGlyphs" stroke="#2e2e2e" stroke-width="0.15">Cux1</text>
<text x="89.00" y="434.60" font-size="4.6" fill="#2e2e2e" textLength="8.90" lengthAdjust="spacingAndGlyphs" stroke="#2e2e2e" stroke-width="0.15">low</text>
<text x="179.30" y="363.00" font-size="11" fill="#111" font-weight="bold">I</text>
<text x="223.00" y="363.00" font-size="8.6" fill="#1a1a1a" font-weight="bold" textLength="60.25" lengthAdjust="spacingAndGlyphs">Bone marrow</text>
<line x1="218.20" y1="372.40" x2="218.20" y2="441.30" stroke="#1e1e1e" stroke-width="1.2"/>
<line x1="215.40" y1="375.30" x2="218.20" y2="375.30" stroke="#1e1e1e" stroke-width="1.2"/>
<text x="213.05" y="378.07" font-size="7.7" fill="#3c3c3c" text-anchor="end" stroke="#3c3c3c" stroke-width="0.12">30</text>
<line x1="215.40" y1="397.10" x2="218.20" y2="397.10" stroke="#1e1e1e" stroke-width="1.2"/>
<text x="213.05" y="399.87" font-size="7.7" fill="#3c3c3c" text-anchor="end" stroke="#3c3c3c" stroke-width="0.12">20</text>
<line x1="215.40" y1="418.90" x2="218.20" y2="418.90" stroke="#1e1e1e" stroke-width="1.2"/>
<text x="213.05" y="421.67" font-size="7.7" fill="#3c3c3c" text-anchor="end" stroke="#3c3c3c" stroke-width="0.12">10</text>
<line x1="215.40" y1="440.70" x2="218.20" y2="440.70" stroke="#1e1e1e" stroke-width="1.2"/>
<text x="213.05" y="443.47" font-size="7.7" fill="#3c3c3c" text-anchor="end" stroke="#3c3c3c" stroke-width="0.12">0</text>
<line x1="217.60" y1="440.70" x2="286.50" y2="440.70" stroke="#1e1e1e" stroke-width="1.2"/>
<line x1="235.00" y1="440.70" x2="235.00" y2="443.30" stroke="#1e1e1e" stroke-width="1.2"/>
<line x1="273.50" y1="440.70" x2="273.50" y2="443.30" stroke="#1e1e1e" stroke-width="1.2"/>
<text x="225.00" y="454.20" font-size="7.6" fill="#3c3c3c" textLength="20.80" lengthAdjust="spacingAndGlyphs" stroke="#3c3c3c" stroke-width="0.12">CD3+</text>
<text x="261.90" y="454.20" font-size="7.6" fill="#3c3c3c" textLength="23.10" lengthAdjust="spacingAndGlyphs" stroke="#3c3c3c" stroke-width="0.12">B220+</text>
<text x="187.30" y="406.70" font-size="8.6" fill="#2e2e2e" text-anchor="middle" textLength="66.30" lengthAdjust="spacingAndGlyphs" transform="rotate(-90 187.30 406.70)" stroke="#2e2e2e" stroke-width="0.15">Total cells/hind legs</text>
<text x="199.60" y="405.30" font-size="8.6" fill="#2e2e2e" text-anchor="middle" textLength="71.40" lengthAdjust="spacingAndGlyphs" transform="rotate(-90 199.60 405.30)" stroke="#2e2e2e" stroke-width="0.15">and hip bones (x 10<tspan font-size="5.5" dy="-3">6</tspan><tspan dy="3">)</tspan></text>
<circle cx="228.50" cy="426.53" r="1.25" fill="#22395e"/>
<circle cx="226.20" cy="429.80" r="1.25" fill="#22395e"/>
<circle cx="228.50" cy="430.89" r="1.25" fill="#22395e"/>
<circle cx="230.80" cy="431.54" r="1.25" fill="#22395e"/>
<circle cx="224.50" cy="431.98" r="1.25" fill="#22395e"/>
<circle cx="225.05" cy="432.42" r="1.25" fill="#22395e"/>
<circle cx="227.35" cy="432.85" r="1.25" fill="#22395e"/>
<circle cx="229.65" cy="433.07" r="1.25" fill="#22395e"/>
<circle cx="231.95" cy="433.51" r="1.25" fill="#22395e"/>
<circle cx="232.50" cy="433.72" r="1.25" fill="#22395e"/>
<line x1="228.50" y1="433.51" x2="228.50" y2="429.15" stroke="#3a5078" stroke-width="1.0"/>
<line x1="223.90" y1="431.33" x2="233.10" y2="431.33" stroke="#3a5078" stroke-width="1.0"/>
<line x1="226.50" y1="433.51" x2="230.50" y2="433.51" stroke="#3a5078" stroke-width="1.0"/>
<line x1="226.50" y1="429.15" x2="230.50" y2="429.15" stroke="#3a5078" stroke-width="1.0"/>
<rect x="241.50" y="407.59" width="3.0" height="3.0" fill="#fff" fill-opacity="0.0" stroke="#a9143c" stroke-width="0.9"/>
<rect x="241.50" y="412.17" width="3.0" height="3.0" fill="#fff" fill-opacity="0.0" stroke="#a9143c" stroke-width="0.9"/>
<rect x="239.90" y="416.75" width="3.0" height="3.0" fill="#fff" fill-opacity="0.0" stroke="#a9143c" stroke-width="0.9"/>
<rect x="243.10" y="419.14" width="3.0" height="3.0" fill="#fff" fill-opacity="0.0" stroke="#a9143c" stroke-width="0.9"/>
<rect x="241.50" y="419.58" width="3.0" height="3.0" fill="#fff" fill-opacity="0.0" stroke="#a9143c" stroke-width="0.9"/>
<rect x="238.30" y="424.16" width="3.0" height="3.0" fill="#fff" fill-opacity="0.0" stroke="#a9143c" stroke-width="0.9"/>
<rect x="241.50" y="426.12" width="3.0" height="3.0" fill="#fff" fill-opacity="0.0" stroke="#a9143c" stroke-width="0.9"/>
<rect x="244.70" y="426.56" width="3.0" height="3.0" fill="#fff" fill-opacity="0.0" stroke="#a9143c" stroke-width="0.9"/>
<line x1="243.00" y1="427.62" x2="243.00" y2="413.89" stroke="#a9143c" stroke-width="1.0"/>
<line x1="238.40" y1="420.64" x2="247.60" y2="420.64" stroke="#a9143c" stroke-width="1.0"/>
<line x1="241.00" y1="427.62" x2="245.00" y2="427.62" stroke="#a9143c" stroke-width="1.0"/>
<line x1="241.00" y1="413.89" x2="245.00" y2="413.89" stroke="#a9143c" stroke-width="1.0"/>
<circle cx="265.85" cy="392.52" r="1.25" fill="#22395e"/>
<circle cx="268.15" cy="393.61" r="1.25" fill="#22395e"/>
<circle cx="267.00" cy="401.90" r="1.25" fill="#22395e"/>
<circle cx="265.85" cy="419.55" r="1.25" fill="#22395e"/>
<circle cx="268.15" cy="421.08" r="1.25" fill="#22395e"/>
<line x1="267.00" y1="419.99" x2="267.00" y2="392.09" stroke="#3a5078" stroke-width="1.0"/>
<line x1="262.00" y1="406.04" x2="272.00" y2="406.04" stroke="#3a5078" stroke-width="1.0"/>
<line x1="265.00" y1="419.99" x2="269.00" y2="419.99" stroke="#3a5078" stroke-width="1.0"/>
<line x1="265.00" y1="392.09" x2="269.00" y2="392.09" stroke="#3a5078" stroke-width="1.0"/>
<rect x="278.10" y="418.27" width="3.0" height="3.0" fill="#fff" fill-opacity="0.0" stroke="#a9143c" stroke-width="0.9"/>
<rect x="281.30" y="419.14" width="3.0" height="3.0" fill="#fff" fill-opacity="0.0" stroke="#a9143c" stroke-width="0.9"/>
<rect x="278.10" y="423.50" width="3.0" height="3.0" fill="#fff" fill-opacity="0.0" stroke="#a9143c" stroke-width="0.9"/>
<rect x="281.30" y="425.47" width="3.0" height="3.0" fill="#fff" fill-opacity="0.0" stroke="#a9143c" stroke-width="0.9"/>
<rect x="278.10" y="426.12" width="3.0" height="3.0" fill="#fff" fill-opacity="0.0" stroke="#a9143c" stroke-width="0.9"/>
<rect x="281.30" y="427.21" width="3.0" height="3.0" fill="#fff" fill-opacity="0.0" stroke="#a9143c" stroke-width="0.9"/>
<rect x="279.70" y="430.48" width="3.0" height="3.0" fill="#fff" fill-opacity="0.0" stroke="#a9143c" stroke-width="0.9"/>
<rect x="279.70" y="434.19" width="3.0" height="3.0" fill="#fff" fill-opacity="0.0" stroke="#a9143c" stroke-width="0.9"/>
<line x1="281.20" y1="433.07" x2="281.20" y2="422.17" stroke="#a9143c" stroke-width="1.0"/>
<line x1="276.60" y1="427.62" x2="285.80" y2="427.62" stroke="#a9143c" stroke-width="1.0"/>
<line x1="279.20" y1="433.07" x2="283.20" y2="433.07" stroke="#a9143c" stroke-width="1.0"/>
<line x1="279.20" y1="422.17" x2="283.20" y2="422.17" stroke="#a9143c" stroke-width="1.0"/>
<path d="M226.50 393.90V385.30H243.00V393.90" fill="none" stroke="#1e1e1e" stroke-width="1.0"/>
<text x="234.75" y="385.17" font-size="7.2" fill="#222" text-anchor="middle" font-weight="bold">**</text>
<path d="M265.80 384.70V376.10H282.40V384.70" fill="none" stroke="#1e1e1e" stroke-width="1.0"/>
<text x="274.10" y="375.57" font-size="7.2" fill="#222" text-anchor="middle" font-weight="bold">**</text>
<text x="7.00" y="478.00" font-size="11" fill="#111" font-weight="bold">J</text>
<text x="98.00" y="478.00" font-size="8.6" fill="#1a1a1a" font-weight="bold" textLength="120.00" lengthAdjust="spacingAndGlyphs">Bone marrow (8 mos. dox)</text>
<line x1="46.40" y1="492.10" x2="46.40" y2="557.80" stroke="#1e1e1e" stroke-width="1.2"/>
<line x1="43.60" y1="493.60" x2="46.40" y2="493.60" stroke="#1e1e1e" stroke-width="1.2"/>
<text x="41.75" y="496.37" font-size="7.7" fill="#3c3c3c" text-anchor="end" stroke="#3c3c3c" stroke-width="0.12">10</text>
<line x1="43.60" y1="525.40" x2="46.40" y2="525.40" stroke="#1e1e1e" stroke-width="1.2"/>
<text x="41.75" y="528.17" font-size="7.7" fill="#3c3c3c" text-anchor="end" stroke="#3c3c3c" stroke-width="0.12">1</text>
<line x1="43.60" y1="557.20" x2="46.40" y2="557.20" stroke="#1e1e1e" stroke-width="1.2"/>
<text x="41.75" y="559.97" font-size="7.7" fill="#3c3c3c" text-anchor="end" stroke="#3c3c3c" stroke-width="0.12">0.1</text>
<line x1="45.10" y1="547.63" x2="46.40" y2="547.63" stroke="#1e1e1e" stroke-width="0.9"/>
<line x1="45.10" y1="542.03" x2="46.40" y2="542.03" stroke="#1e1e1e" stroke-width="0.9"/>
<line x1="45.10" y1="538.05" x2="46.40" y2="538.05" stroke="#1e1e1e" stroke-width="0.9"/>
<line x1="45.10" y1="534.97" x2="46.40" y2="534.97" stroke="#1e1e1e" stroke-width="0.9"/>
<line x1="45.10" y1="532.45" x2="46.40" y2="532.45" stroke="#1e1e1e" stroke-width="0.9"/>
<line x1="45.10" y1="530.33" x2="46.40" y2="530.33" stroke="#1e1e1e" stroke-width="0.9"/>
<line x1="45.10" y1="528.48" x2="46.40" y2="528.48" stroke="#1e1e1e" stroke-width="0.9"/>
<line x1="45.10" y1="526.86" x2="46.40" y2="526.86" stroke="#1e1e1e" stroke-width="0.9"/>
<line x1="45.10" y1="515.83" x2="46.40" y2="515.83" stroke="#1e1e1e" stroke-width="0.9"/>
<line x1="45.10" y1="510.23" x2="46.40" y2="510.23" stroke="#1e1e1e" stroke-width="0.9"/>
<line x1="45.10" y1="506.25" x2="46.40" y2="506.25" stroke="#1e1e1e" stroke-width="0.9"/>
<line x1="45.10" y1="503.17" x2="46.40" y2="503.17" stroke="#1e1e1e" stroke-width="0.9"/>
<line x1="45.10" y1="500.65" x2="46.40" y2="500.65" stroke="#1e1e1e" stroke-width="0.9"/>
<line x1="45.10" y1="498.53" x2="46.40" y2="498.53" stroke="#1e1e1e" stroke-width="0.9"/>
<line x1="45.10" y1="496.68" x2="46.40" y2="496.68" stroke="#1e1e1e" stroke-width="0.9"/>
<line x1="45.10" y1="495.06" x2="46.40" y2="495.06" stroke="#1e1e1e" stroke-width="0.9"/>
<line x1="45.80" y1="557.20" x2="94.50" y2="557.20" stroke="#1e1e1e" stroke-width="1.2"/>
<line x1="57.30" y1="557.20" x2="57.30" y2="559.80" stroke="#1e1e1e" stroke-width="1.2"/>
<line x1="82.90" y1="557.20" x2="82.90" y2="559.80" stroke="#1e1e1e" stroke-width="1.2"/>
<text x="51.20" y="570.80" font-size="8.3" fill="#3c3c3c" textLength="13.00" lengthAdjust="spacingAndGlyphs" stroke="#3c3c3c" stroke-width="0.12">LSK</text>
<text x="77.20" y="570.80" font-size="8.3" fill="#3c3c3c" textLength="11.60" lengthAdjust="spacingAndGlyphs" stroke="#3c3c3c" stroke-width="0.12">MP</text>
<text x="13.60" y="523.60" font-size="8.6" fill="#2e2e2e" text-anchor="middle" textLength="81.40" lengthAdjust="spacingAndGlyphs" transform="rotate(-90 13.60 523.60)" stroke="#2e2e2e" stroke-width="0.15">Absolute cell count/hind</text>
<text x="25.00" y="524.00" font-size="8.6" fill="#2e2e2e" text-anchor="middle" textLength="87.00" lengthAdjust="spacingAndGlyphs" transform="rotate(-90 25.00 524.00)" stroke="#2e2e2e" stroke-width="0.15">legs and hip bones (x 10<tspan font-size="5.5" dy="-3">5</tspan><tspan dy="3">)</tspan></text>
<circle cx="51.90" cy="540.30" r="1.25" fill="#22395e"/>
<circle cx="54.10" cy="542.03" r="1.25" fill="#22395e"/>
<circle cx="50.80" cy="544.00" r="1.25" fill="#22395e"/>
<circle cx="53.00" cy="545.11" r="1.25" fill="#22395e"/>
<circle cx="55.20" cy="545.70" r="1.25" fill="#22395e"/>
<circle cx="53.00" cy="546.31" r="1.25" fill="#22395e"/>
<line x1="53.00" y1="546.95" x2="53.00" y2="542.03" stroke="#3a5078" stroke-width="1.0"/>
<line x1="49.50" y1="544.55" x2="56.50" y2="544.55" stroke="#3a5078" stroke-width="1.0"/>
<line x1="51.20" y1="546.95" x2="54.80" y2="546.95" stroke="#3a5078" stroke-width="1.0"/>
<line x1="51.20" y1="542.03" x2="54.80" y2="542.03" stroke="#3a5078" stroke-width="1.0"/>
<rect x="59.50" y="532.93" width="3.0" height="3.0" fill="#fff" fill-opacity="0.0" stroke="#a9143c" stroke-width="0.9"/>
<rect x="62.50" y="535.24" width="3.0" height="3.0" fill="#fff" fill-opacity="0.0" stroke="#a9143c" stroke-width="0.9"/>
<rect x="59.50" y="537.26" width="3.0" height="3.0" fill="#fff" fill-opacity="0.0" stroke="#a9143c" stroke-width="0.9"/>
<rect x="62.50" y="539.21" width="3.0" height="3.0" fill="#fff" fill-opacity="0.0" stroke="#a9143c" stroke-width="0.9"/>
<rect x="61.00" y="543.05" width="3.0" height="3.0" fill="#fff" fill-opacity="0.0" stroke="#a9143c" stroke-width="0.9"/>
<line x1="62.50" y1="543.48" x2="62.50" y2="534.97" stroke="#a9143c" stroke-width="1.0"/>
<line x1="59.00" y1="539.13" x2="66.00" y2="539.13" stroke="#a9143c" stroke-width="1.0"/>
<line x1="60.70" y1="543.48" x2="64.30" y2="543.48" stroke="#a9143c" stroke-width="1.0"/>
<line x1="60.70" y1="534.97" x2="64.30" y2="534.97" stroke="#a9143c" stroke-width="1.0"/>
<circle cx="75.80" cy="503.17" r="1.25" fill="#22395e"/>
<circle cx="78.00" cy="504.03" r="1.25" fill="#22395e"/>
<circle cx="80.20" cy="504.63" r="1.25" fill="#22395e"/>
<circle cx="76.90" cy="505.26" r="1.25" fill="#22395e"/>
<circle cx="79.10" cy="505.91" r="1.25" fill="#22395e"/>
<line x1="78.00" y1="505.91" x2="78.00" y2="503.17" stroke="#3a5078" stroke-width="1.0"/>
<line x1="74.50" y1="504.63" x2="81.50" y2="504.63" stroke="#3a5078" stroke-width="1.0"/>
<line x1="76.20" y1="505.91" x2="79.80" y2="505.91" stroke="#3a5078" stroke-width="1.0"/>
<line x1="76.20" y1="503.17" x2="79.80" y2="503.17" stroke="#3a5078" stroke-width="1.0"/>
<rect x="84.60" y="497.03" width="3.0" height="3.0" fill="#fff" fill-opacity="0.0" stroke="#a9143c" stroke-width="0.9"/>
<rect x="87.60" y="498.70" width="3.0" height="3.0" fill="#fff" fill-opacity="0.0" stroke="#a9143c" stroke-width="0.9"/>
<rect x="84.60" y="500.61" width="3.0" height="3.0" fill="#fff" fill-opacity="0.0" stroke="#a9143c" stroke-width="0.9"/>
<rect x="87.60" y="502.53" width="3.0" height="3.0" fill="#fff" fill-opacity="0.0" stroke="#a9143c" stroke-width="0.9"/>
<rect x="86.10" y="504.75" width="3.0" height="3.0" fill="#fff" fill-opacity="0.0" stroke="#a9143c" stroke-width="0.9"/>
<line x1="87.60" y1="505.26" x2="87.60" y2="499.34" stroke="#a9143c" stroke-width="1.0"/>
<line x1="84.10" y1="502.11" x2="91.10" y2="502.11" stroke="#a9143c" stroke-width="1.0"/>
<line x1="85.80" y1="505.26" x2="89.40" y2="505.26" stroke="#a9143c" stroke-width="1.0"/>
<line x1="85.80" y1="499.34" x2="89.40" y2="499.34" stroke="#a9143c" stroke-width="1.0"/>
<path d="M52.10 530.20V522.40H62.80V525.30" fill="none" stroke="#1e1e1e" stroke-width="1.0"/>
<text x="57.45" y="522.87" font-size="7.2" fill="#222" text-anchor="middle" font-weight="bold">*</text>
<path d="M77.20 497.30V492.50H89.80V494.70" fill="none" stroke="#1e1e1e" stroke-width="1.0"/>
<text x="83.50" y="492.87" font-size="7.2" fill="#222" text-anchor="middle" font-weight="bold">*</text>
<line x1="121.60" y1="491.50" x2="121.60" y2="557.80" stroke="#1e1e1e" stroke-width="1.2"/>
<line x1="118.80" y1="493.00" x2="121.60" y2="493.00" stroke="#1e1e1e" stroke-width="1.2"/>
<text x="116.45" y="495.88" font-size="8.0" fill="#3c3c3c" text-anchor="end" stroke="#3c3c3c" stroke-width="0.12">0.25</text>
<line x1="118.80" y1="505.84" x2="121.60" y2="505.84" stroke="#1e1e1e" stroke-width="1.2"/>
<text x="116.45" y="508.72" font-size="8.0" fill="#3c3c3c" text-anchor="end" stroke="#3c3c3c" stroke-width="0.12">0.2</text>
<line x1="118.80" y1="518.68" x2="121.60" y2="518.68" stroke="#1e1e1e" stroke-width="1.2"/>
<text x="116.45" y="521.56" font-size="8.0" fill="#3c3c3c" text-anchor="end" stroke="#3c3c3c" stroke-width="0.12">0.15</text>
<line x1="118.80" y1="531.52" x2="121.60" y2="531.52" stroke="#1e1e1e" stroke-width="1.2"/>
<text x="116.45" y="534.40" font-size="8.0" fill="#3c3c3c" text-anchor="end" stroke="#3c3c3c" stroke-width="0.12">0.1</text>
<line x1="118.80" y1="544.36" x2="121.60" y2="544.36" stroke="#1e1e1e" stroke-width="1.2"/>
<text x="116.45" y="547.24" font-size="8.0" fill="#3c3c3c" text-anchor="end" stroke="#3c3c3c" stroke-width="0.12">0.05</text>
<line x1="118.80" y1="557.20" x2="121.60" y2="557.20" stroke="#1e1e1e" stroke-width="1.2"/>
<text x="116.45" y="560.08" font-size="8.0" fill="#3c3c3c" text-anchor="end" stroke="#3c3c3c" stroke-width="0.12">0</text>
<line x1="121.00" y1="557.20" x2="191.10" y2="557.20" stroke="#1e1e1e" stroke-width="1.2"/>
<line x1="133.20" y1="557.20" x2="133.20" y2="559.80" stroke="#1e1e1e" stroke-width="1.2"/>
<line x1="157.90" y1="557.20" x2="157.90" y2="559.80" stroke="#1e1e1e" stroke-width="1.2"/>
<line x1="183.30" y1="557.20" x2="183.30" y2="559.80" stroke="#1e1e1e" stroke-width="1.2"/>
<text x="117.60" y="570.30" font-size="8.3" fill="#3c3c3c" textLength="25.10" lengthAdjust="spacingAndGlyphs" stroke="#3c3c3c" stroke-width="0.12">LT-HSC</text>
<text x="144.80" y="570.30" font-size="8.3" fill="#3c3c3c" textLength="26.40" lengthAdjust="spacingAndGlyphs" stroke="#3c3c3c" stroke-width="0.12">ST-HSC</text>
<text x="175.60" y="570.30" font-size="8.3" fill="#3c3c3c" textLength="15.50" lengthAdjust="spacingAndGlyphs" stroke="#3c3c3c" stroke-width="0.12">MPP</text>
<circle cx="128.80" cy="529.59" r="1.25" fill="#22395e"/>
<circle cx="128.80" cy="533.83" r="1.25" fill="#22395e"/>
<circle cx="127.70" cy="539.99" r="1.25" fill="#22395e"/>
<circle cx="129.90" cy="540.76" r="1.25" fill="#22395e"/>
<circle cx="128.80" cy="545.64" r="1.25" fill="#22395e"/>
<line x1="128.80" y1="543.85" x2="128.80" y2="533.83" stroke="#3a5078" stroke-width="1.0"/>
<line x1="125.30" y1="539.04" x2="132.30" y2="539.04" stroke="#3a5078" stroke-width="1.0"/>
<line x1="127.00" y1="543.85" x2="130.60" y2="543.85" stroke="#3a5078" stroke-width="1.0"/>
<line x1="127.00" y1="533.83" x2="130.60" y2="533.83" stroke="#3a5078" stroke-width="1.0"/>
<rect x="135.40" y="527.20" width="3.0" height="3.0" fill="#fff" fill-opacity="0.0" stroke="#a9143c" stroke-width="0.9"/>
<rect x="138.40" y="528.99" width="3.0" height="3.0" fill="#fff" fill-opacity="0.0" stroke="#a9143c" stroke-width="0.9"/>
<rect x="136.90" y="534.13" width="3.0" height="3.0" fill="#fff" fill-opacity="0.0" stroke="#a9143c" stroke-width="0.9"/>
<rect x="136.90" y="544.14" width="3.0" height="3.0" fill="#fff" fill-opacity="0.0" stroke="#a9143c" stroke-width="0.9"/>
<line x1="138.40" y1="540.25" x2="138.40" y2="528.18" stroke="#a9143c" stroke-width="1.0"/>
<line x1="134.90" y1="533.83" x2="141.90" y2="533.83" stroke="#a9143c" stroke-width="1.0"/>
<line x1="136.60" y1="540.25" x2="140.20" y2="540.25" stroke="#a9143c" stroke-width="1.0"/>
<line x1="136.60" y1="528.18" x2="140.20" y2="528.18" stroke="#a9143c" stroke-width="1.0"/>
<circle cx="153.90" cy="529.08" r="1.25" fill="#22395e"/>
<circle cx="153.90" cy="535.89" r="1.25" fill="#22395e"/>
<circle cx="153.90" cy="539.99" r="1.25" fill="#22395e"/>
<circle cx="153.90" cy="543.85" r="1.25" fill="#22395e"/>
<line x1="153.90" y1="541.28" x2="153.90" y2="531.52" stroke="#3a5078" stroke-width="1.0"/>
<line x1="150.40" y1="536.40" x2="157.40" y2="536.40" stroke="#3a5078" stroke-width="1.0"/>
<line x1="152.10" y1="541.28" x2="155.70" y2="541.28" stroke="#3a5078" stroke-width="1.0"/>
<line x1="152.10" y1="531.52" x2="155.70" y2="531.52" stroke="#3a5078" stroke-width="1.0"/>
<rect x="160.40" y="501.39" width="3.0" height="3.0" fill="#fff" fill-opacity="0.0" stroke="#a9143c" stroke-width="0.9"/>
<rect x="163.40" y="503.06" width="3.0" height="3.0" fill="#fff" fill-opacity="0.0" stroke="#a9143c" stroke-width="0.9"/>
<rect x="161.90" y="518.72" width="3.0" height="3.0" fill="#fff" fill-opacity="0.0" stroke="#a9143c" stroke-width="0.9"/>
<rect x="161.90" y="525.50" width="3.0" height="3.0" fill="#fff" fill-opacity="0.0" stroke="#a9143c" stroke-width="0.9"/>
<line x1="163.40" y1="527.41" x2="163.40" y2="504.56" stroke="#a9143c" stroke-width="1.0"/>
<line x1="159.90" y1="516.37" x2="166.90" y2="516.37" stroke="#a9143c" stroke-width="1.0"/>
<line x1="161.60" y1="527.41" x2="165.20" y2="527.41" stroke="#a9143c" stroke-width="1.0"/>
<line x1="161.60" y1="504.56" x2="165.20" y2="504.56" stroke="#a9143c" stroke-width="1.0"/>
<circle cx="179.90" cy="519.71" r="1.25" fill="#22395e"/>
<circle cx="179.90" cy="523.30" r="1.25" fill="#22395e"/>
<circle cx="179.90" cy="535.89" r="1.25" fill="#22395e"/>
<circle cx="179.90" cy="541.54" r="1.25" fill="#22395e"/>
<line x1="179.90" y1="540.51" x2="179.90" y2="521.76" stroke="#3a5078" stroke-width="1.0"/>
<line x1="176.40" y1="531.26" x2="183.40" y2="531.26" stroke="#3a5078" stroke-width="1.0"/>
<line x1="178.10" y1="540.51" x2="181.70" y2="540.51" stroke="#3a5078" stroke-width="1.0"/>
<line x1="178.10" y1="521.76" x2="181.70" y2="521.76" stroke="#3a5078" stroke-width="1.0"/>
<rect x="187.50" y="505.62" width="3.0" height="3.0" fill="#fff" fill-opacity="0.0" stroke="#a9143c" stroke-width="0.9"/>
<rect x="187.50" y="521.80" width="3.0" height="3.0" fill="#fff" fill-opacity="0.0" stroke="#a9143c" stroke-width="0.9"/>
<rect x="187.50" y="525.14" width="3.0" height="3.0" fill="#fff" fill-opacity="0.0" stroke="#a9143c" stroke-width="0.9"/>
<rect x="187.50" y="528.99" width="3.0" height="3.0" fill="#fff" fill-opacity="0.0" stroke="#a9143c" stroke-width="0.9"/>
<line x1="189.00" y1="534.09" x2="189.00" y2="514.06" stroke="#a9143c" stroke-width="1.0"/>
<line x1="185.50" y1="524.33" x2="192.50" y2="524.33" stroke="#a9143c" stroke-width="1.0"/>
<line x1="187.20" y1="534.09" x2="190.80" y2="534.09" stroke="#a9143c" stroke-width="1.0"/>
<line x1="187.20" y1="514.06" x2="190.80" y2="514.06" stroke="#a9143c" stroke-width="1.0"/>
<path d="M152.20 501.60V494.70H162.60V496.50" fill="none" stroke="#1e1e1e" stroke-width="1.0"/>
<text x="157.40" y="494.57" font-size="7.2" fill="#222" text-anchor="middle" font-weight="bold">**</text>
<path d="M178.10 502.10V494.70H188.50V496.50" fill="none" stroke="#1e1e1e" stroke-width="1.0"/>
<text x="171.20" y="493.00" font-size="7.4" fill="#3c3c3c" textLength="23.70" lengthAdjust="spacingAndGlyphs" stroke="#3c3c3c" stroke-width="0.12">p=0.08</text>
<line x1="211.80" y1="491.30" x2="211.80" y2="558.30" stroke="#1e1e1e" stroke-width="1.2"/>
<line x1="209.00" y1="492.40" x2="211.80" y2="492.40" stroke="#1e1e1e" stroke-width="1.2"/>
<text x="205.35" y="495.17" font-size="7.7" fill="#3c3c3c" text-anchor="end" stroke="#3c3c3c" stroke-width="0.12">3</text>
<line x1="209.00" y1="514.17" x2="211.80" y2="514.17" stroke="#1e1e1e" stroke-width="1.2"/>
<text x="205.35" y="516.94" font-size="7.7" fill="#3c3c3c" text-anchor="end" stroke="#3c3c3c" stroke-width="0.12">2</text>
<line x1="209.00" y1="535.93" x2="211.80" y2="535.93" stroke="#1e1e1e" stroke-width="1.2"/>
<text x="205.35" y="538.71" font-size="7.7" fill="#3c3c3c" text-anchor="end" stroke="#3c3c3c" stroke-width="0.12">1</text>
<line x1="209.00" y1="557.70" x2="211.80" y2="557.70" stroke="#1e1e1e" stroke-width="1.2"/>
<text x="205.35" y="560.47" font-size="7.7" fill="#3c3c3c" text-anchor="end" stroke="#3c3c3c" stroke-width="0.12">0</text>
<line x1="211.20" y1="557.70" x2="282.40" y2="557.70" stroke="#1e1e1e" stroke-width="1.2"/>
<line x1="222.40" y1="557.70" x2="222.40" y2="560.30" stroke="#1e1e1e" stroke-width="1.2"/>
<line x1="247.10" y1="557.70" x2="247.10" y2="560.30" stroke="#1e1e1e" stroke-width="1.2"/>
<line x1="271.80" y1="557.70" x2="271.80" y2="560.30" stroke="#1e1e1e" stroke-width="1.2"/>
<text x="214.20" y="570.50" font-size="8.3" fill="#3c3c3c" textLength="17.40" lengthAdjust="spacingAndGlyphs" stroke="#3c3c3c" stroke-width="0.12">CMP</text>
<text x="238.90" y="570.50" font-size="8.3" fill="#3c3c3c" textLength="17.30" lengthAdjust="spacingAndGlyphs" stroke="#3c3c3c" stroke-width="0.12">GMP</text>
<text x="263.60" y="570.50" font-size="8.3" fill="#3c3c3c" textLength="16.40" lengthAdjust="spacingAndGlyphs" stroke="#3c3c3c" stroke-width="0.12">MEP</text>
<circle cx="218.40" cy="540.29" r="1.25" fill="#22395e"/>
<circle cx="216.20" cy="543.33" r="1.25" fill="#22395e"/>
<circle cx="218.40" cy="543.99" r="1.25" fill="#22395e"/>
<circle cx="220.60" cy="544.64" r="1.25" fill="#22395e"/>
<circle cx="218.40" cy="545.29" r="1.25" fill="#22395e"/>
<line x1="218.40" y1="545.29" x2="218.40" y2="542.46" stroke="#3a5078" stroke-width="1.0"/>
<line x1="214.90" y1="544.20" x2="221.90" y2="544.20" stroke="#3a5078" stroke-width="1.0"/>
<line x1="216.60" y1="545.29" x2="220.20" y2="545.29" stroke="#3a5078" stroke-width="1.0"/>
<line x1="216.60" y1="542.46" x2="220.20" y2="542.46" stroke="#3a5078" stroke-width="1.0"/>
<rect x="224.90" y="533.35" width="3.0" height="3.0" fill="#fff" fill-opacity="0.0" stroke="#a9143c" stroke-width="0.9"/>
<rect x="227.90" y="535.52" width="3.0" height="3.0" fill="#fff" fill-opacity="0.0" stroke="#a9143c" stroke-width="0.9"/>
<rect x="224.90" y="536.61" width="3.0" height="3.0" fill="#fff" fill-opacity="0.0" stroke="#a9143c" stroke-width="0.9"/>
<rect x="227.90" y="538.35" width="3.0" height="3.0" fill="#fff" fill-opacity="0.0" stroke="#a9143c" stroke-width="0.9"/>
<rect x="226.40" y="539.66" width="3.0" height="3.0" fill="#fff" fill-opacity="0.0" stroke="#a9143c" stroke-width="0.9"/>
<line x1="227.90" y1="540.94" x2="227.90" y2="537.02" stroke="#a9143c" stroke-width="1.0"/>
<line x1="224.40" y1="539.20" x2="231.40" y2="539.20" stroke="#a9143c" stroke-width="1.0"/>
<line x1="226.10" y1="540.94" x2="229.70" y2="540.94" stroke="#a9143c" stroke-width="1.0"/>
<line x1="226.10" y1="537.02" x2="229.70" y2="537.02" stroke="#a9143c" stroke-width="1.0"/>
<circle cx="243.40" cy="515.69" r="1.25" fill="#22395e"/>
<circle cx="243.40" cy="518.52" r="1.25" fill="#22395e"/>
<circle cx="243.40" cy="521.13" r="1.25" fill="#22395e"/>
<circle cx="242.30" cy="523.96" r="1.25" fill="#22395e"/>
<circle cx="244.50" cy="524.83" r="1.25" fill="#22395e"/>
<line x1="243.40" y1="523.96" x2="243.40" y2="517.43" stroke="#3a5078" stroke-width="1.0"/>
<line x1="239.90" y1="520.70" x2="246.90" y2="520.70" stroke="#3a5078" stroke-width="1.0"/>
<line x1="241.60" y1="523.96" x2="245.20" y2="523.96" stroke="#3a5078" stroke-width="1.0"/>
<line x1="241.60" y1="517.43" x2="245.20" y2="517.43" stroke="#3a5078" stroke-width="1.0"/>
<rect x="251.10" y="500.69" width="3.0" height="3.0" fill="#fff" fill-opacity="0.0" stroke="#a9143c" stroke-width="0.9"/>
<rect x="251.10" y="503.31" width="3.0" height="3.0" fill="#fff" fill-opacity="0.0" stroke="#a9143c" stroke-width="0.9"/>
<rect x="251.10" y="506.14" width="3.0" height="3.0" fill="#fff" fill-opacity="0.0" stroke="#a9143c" stroke-width="0.9"/>
<rect x="251.10" y="509.62" width="3.0" height="3.0" fill="#fff" fill-opacity="0.0" stroke="#a9143c" stroke-width="0.9"/>
<rect x="251.10" y="516.58" width="3.0" height="3.0" fill="#fff" fill-opacity="0.0" stroke="#a9143c" stroke-width="0.9"/>
<line x1="252.60" y1="514.60" x2="252.60" y2="502.19" stroke="#a9143c" stroke-width="1.0"/>
<line x1="249.10" y1="508.29" x2="256.10" y2="508.29" stroke="#a9143c" stroke-width="1.0"/>
<line x1="250.80" y1="514.60" x2="254.40" y2="514.60" stroke="#a9143c" stroke-width="1.0"/>
<line x1="250.80" y1="502.19" x2="254.40" y2="502.19" stroke="#a9143c" stroke-width="1.0"/>
<circle cx="267.20" cy="514.82" r="1.25" fill="#22395e"/>
<circle cx="267.20" cy="517.43" r="1.25" fill="#22395e"/>
<circle cx="267.20" cy="529.62" r="1.25" fill="#22395e"/>
<circle cx="267.20" cy="532.02" r="1.25" fill="#22395e"/>
<line x1="267.20" y1="531.58" x2="267.20" y2="515.91" stroke="#3a5078" stroke-width="1.0"/>
<line x1="263.70" y1="523.74" x2="270.70" y2="523.74" stroke="#3a5078" stroke-width="1.0"/>
<line x1="265.40" y1="531.58" x2="269.00" y2="531.58" stroke="#3a5078" stroke-width="1.0"/>
<line x1="265.40" y1="515.91" x2="269.00" y2="515.91" stroke="#3a5078" stroke-width="1.0"/>
<rect x="275.40" y="512.01" width="3.0" height="3.0" fill="#fff" fill-opacity="0.0" stroke="#a9143c" stroke-width="0.9"/>
<rect x="275.40" y="520.28" width="3.0" height="3.0" fill="#fff" fill-opacity="0.0" stroke="#a9143c" stroke-width="0.9"/>
<rect x="275.40" y="535.30" width="3.0" height="3.0" fill="#fff" fill-opacity="0.0" stroke="#a9143c" stroke-width="0.9"/>
<line x1="276.90" y1="533.76" x2="276.90" y2="513.08" stroke="#a9143c" stroke-width="1.0"/>
<line x1="273.40" y1="522.87" x2="280.40" y2="522.87" stroke="#a9143c" stroke-width="1.0"/>
<line x1="275.10" y1="533.76" x2="278.70" y2="533.76" stroke="#a9143c" stroke-width="1.0"/>
<line x1="275.10" y1="513.08" x2="278.70" y2="513.08" stroke="#a9143c" stroke-width="1.0"/>
<path d="M216.90 502.30V494.30H227.50V496.30" fill="none" stroke="#1e1e1e" stroke-width="1.0"/>
<text x="222.20" y="494.27" font-size="7.2" fill="#222" text-anchor="middle" font-weight="bold">**</text>
<path d="M240.70 502.30V494.30H250.80V496.30" fill="none" stroke="#1e1e1e" stroke-width="1.0"/>
<text x="245.75" y="494.27" font-size="7.2" fill="#222" text-anchor="middle" font-weight="bold">**</text>
<text x="7.50" y="584.70" font-size="11" fill="#111" font-weight="bold">K</text>
<text x="40.00" y="585.50" font-size="8.6" fill="#1a1a1a" font-weight="bold" textLength="183.75" lengthAdjust="spacingAndGlyphs">7 months dox followed by dox cessation</text>
<line x1="47.10" y1="593.40" x2="47.10" y2="664.70" stroke="#1e1e1e" stroke-width="1.2"/>
<line x1="44.30" y1="596.20" x2="47.10" y2="596.20" stroke="#1e1e1e" stroke-width="1.2"/>
<text x="40.75" y="598.97" font-size="7.7" fill="#3c3c3c" text-anchor="end" stroke="#3c3c3c" stroke-width="0.12">20</text>
<line x1="44.30" y1="613.18" x2="47.10" y2="613.18" stroke="#1e1e1e" stroke-width="1.2"/>
<text x="40.75" y="615.95" font-size="7.7" fill="#3c3c3c" text-anchor="end" stroke="#3c3c3c" stroke-width="0.12">15</text>
<line x1="44.30" y1="630.15" x2="47.10" y2="630.15" stroke="#1e1e1e" stroke-width="1.2"/>
<text x="40.75" y="632.92" font-size="7.7" fill="#3c3c3c" text-anchor="end" stroke="#3c3c3c" stroke-width="0.12">10</text>
<line x1="44.30" y1="647.12" x2="47.10" y2="647.12" stroke="#1e1e1e" stroke-width="1.2"/>
<text x="40.75" y="649.90" font-size="7.7" fill="#3c3c3c" text-anchor="end" stroke="#3c3c3c" stroke-width="0.12">5</text>
<line x1="44.30" y1="664.10" x2="47.10" y2="664.10" stroke="#1e1e1e" stroke-width="1.2"/>
<text x="40.75" y="666.87" font-size="7.7" fill="#3c3c3c" text-anchor="end" stroke="#3c3c3c" stroke-width="0.12">0</text>
<line x1="46.50" y1="664.10" x2="115.20" y2="664.10" stroke="#1e1e1e" stroke-width="1.2"/>
<line x1="58.30" y1="664.10" x2="58.30" y2="666.90" stroke="#1e1e1e" stroke-width="1.2"/>
<text x="58.30" y="677.50" font-size="8.4" fill="#3c3c3c" text-anchor="middle" stroke="#3c3c3c" stroke-width="0.12">0</text>
<line x1="81.70" y1="664.10" x2="81.70" y2="666.90" stroke="#1e1e1e" stroke-width="1.2"/>
<text x="81.70" y="677.50" font-size="8.4" fill="#3c3c3c" text-anchor="middle" stroke="#3c3c3c" stroke-width="0.12">3</text>
<line x1="105.00" y1="664.10" x2="105.00" y2="666.90" stroke="#1e1e1e" stroke-width="1.2"/>
<text x="105.00" y="677.50" font-size="8.4" fill="#3c3c3c" text-anchor="middle" stroke="#3c3c3c" stroke-width="0.12">7</text>
<text x="40.00" y="690.10" font-size="8.6" fill="#2e2e2e" textLength="81.70" lengthAdjust="spacingAndGlyphs" stroke="#2e2e2e" stroke-width="0.15">Weeks after dox stopped</text>
<text x="27.00" y="629.00" font-size="8.6" fill="#2e2e2e" text-anchor="middle" textLength="64.10" lengthAdjust="spacingAndGlyphs" transform="rotate(-90 27.00 629.00)" stroke="#2e2e2e" stroke-width="0.15">Hemoglobin (g/dL)</text>
<circle cx="53.10" cy="618.27" r="1.25" fill="#22395e"/>
<circle cx="53.10" cy="621.66" r="1.25" fill="#22395e"/>
<circle cx="53.10" cy="625.74" r="1.25" fill="#22395e"/>
<circle cx="53.10" cy="631.51" r="1.25" fill="#22395e"/>
<circle cx="53.10" cy="638.64" r="1.25" fill="#22395e"/>
<line x1="53.10" y1="632.53" x2="53.10" y2="618.95" stroke="#3a5078" stroke-width="1.0"/>
<line x1="50.10" y1="625.74" x2="56.10" y2="625.74" stroke="#3a5078" stroke-width="1.0"/>
<line x1="51.30" y1="632.53" x2="54.90" y2="632.53" stroke="#3a5078" stroke-width="1.0"/>
<line x1="51.30" y1="618.95" x2="54.90" y2="618.95" stroke="#3a5078" stroke-width="1.0"/>
<rect x="60.60" y="620.84" width="3.0" height="3.0" fill="#fff" fill-opacity="0.0" stroke="#a9143c" stroke-width="0.9"/>
<rect x="60.60" y="631.03" width="3.0" height="3.0" fill="#fff" fill-opacity="0.0" stroke="#a9143c" stroke-width="0.9"/>
<rect x="60.60" y="635.44" width="3.0" height="3.0" fill="#fff" fill-opacity="0.0" stroke="#a9143c" stroke-width="0.9"/>
<rect x="59.10" y="641.21" width="3.0" height="3.0" fill="#fff" fill-opacity="0.0" stroke="#a9143c" stroke-width="0.9"/>
<rect x="62.10" y="643.59" width="3.0" height="3.0" fill="#fff" fill-opacity="0.0" stroke="#a9143c" stroke-width="0.9"/>
<rect x="60.60" y="645.62" width="3.0" height="3.0" fill="#fff" fill-opacity="0.0" stroke="#a9143c" stroke-width="0.9"/>
<line x1="62.10" y1="645.77" x2="62.10" y2="630.15" stroke="#a9143c" stroke-width="1.0"/>
<line x1="59.10" y1="637.96" x2="65.10" y2="637.96" stroke="#a9143c" stroke-width="1.0"/>
<line x1="60.30" y1="645.77" x2="63.90" y2="645.77" stroke="#a9143c" stroke-width="1.0"/>
<line x1="60.30" y1="630.15" x2="63.90" y2="630.15" stroke="#a9143c" stroke-width="1.0"/>
<circle cx="76.80" cy="609.78" r="1.25" fill="#22395e"/>
<circle cx="76.80" cy="615.89" r="1.25" fill="#22395e"/>
<circle cx="76.80" cy="627.09" r="1.25" fill="#22395e"/>
<circle cx="76.80" cy="631.85" r="1.25" fill="#22395e"/>
<circle cx="76.80" cy="634.56" r="1.25" fill="#22395e"/>
<line x1="76.80" y1="634.90" x2="76.80" y2="614.53" stroke="#3a5078" stroke-width="1.0"/>
<line x1="73.80" y1="624.72" x2="79.80" y2="624.72" stroke="#3a5078" stroke-width="1.0"/>
<line x1="75.00" y1="634.90" x2="78.60" y2="634.90" stroke="#3a5078" stroke-width="1.0"/>
<line x1="75.00" y1="614.53" x2="78.60" y2="614.53" stroke="#3a5078" stroke-width="1.0"/>
<rect x="83.90" y="610.32" width="3.0" height="3.0" fill="#fff" fill-opacity="0.0" stroke="#a9143c" stroke-width="0.9"/>
<rect x="83.90" y="616.77" width="3.0" height="3.0" fill="#fff" fill-opacity="0.0" stroke="#a9143c" stroke-width="0.9"/>
<rect x="83.90" y="629.33" width="3.0" height="3.0" fill="#fff" fill-opacity="0.0" stroke="#a9143c" stroke-width="0.9"/>
<rect x="83.90" y="633.06" width="3.0" height="3.0" fill="#fff" fill-opacity="0.0" stroke="#a9143c" stroke-width="0.9"/>
<rect x="83.90" y="641.89" width="3.0" height="3.0" fill="#fff" fill-opacity="0.0" stroke="#a9143c" stroke-width="0.9"/>
<line x1="85.40" y1="637.62" x2="85.40" y2="613.85" stroke="#a9143c" stroke-width="1.0"/>
<line x1="82.40" y1="625.74" x2="88.40" y2="625.74" stroke="#a9143c" stroke-width="1.0"/>
<line x1="83.60" y1="637.62" x2="87.20" y2="637.62" stroke="#a9143c" stroke-width="1.0"/>
<line x1="83.60" y1="613.85" x2="87.20" y2="613.85" stroke="#a9143c" stroke-width="1.0"/>
<circle cx="99.40" cy="613.51" r="1.25" fill="#22395e"/>
<circle cx="101.60" cy="615.21" r="1.25" fill="#22395e"/>
<circle cx="100.50" cy="618.27" r="1.25" fill="#22395e"/>
<circle cx="100.50" cy="631.51" r="1.25" fill="#22395e"/>
<circle cx="100.50" cy="635.92" r="1.25" fill="#22395e"/>
<line x1="100.50" y1="632.53" x2="100.50" y2="613.18" stroke="#3a5078" stroke-width="1.0"/>
<line x1="97.50" y1="622.68" x2="103.50" y2="622.68" stroke="#3a5078" stroke-width="1.0"/>
<line x1="98.70" y1="632.53" x2="102.30" y2="632.53" stroke="#3a5078" stroke-width="1.0"/>
<line x1="98.70" y1="613.18" x2="102.30" y2="613.18" stroke="#3a5078" stroke-width="1.0"/>
<rect x="106.40" y="614.05" width="3.0" height="3.0" fill="#fff" fill-opacity="0.0" stroke="#a9143c" stroke-width="0.9"/>
<rect x="109.40" y="616.09" width="3.0" height="3.0" fill="#fff" fill-opacity="0.0" stroke="#a9143c" stroke-width="0.9"/>
<rect x="107.90" y="626.95" width="3.0" height="3.0" fill="#fff" fill-opacity="0.0" stroke="#a9143c" stroke-width="0.9"/>
<rect x="106.40" y="630.69" width="3.0" height="3.0" fill="#fff" fill-opacity="0.0" stroke="#a9143c" stroke-width="0.9"/>
<rect x="109.40" y="633.06" width="3.0" height="3.0" fill="#fff" fill-opacity="0.0" stroke="#a9143c" stroke-width="0.9"/>
<line x1="109.40" y1="634.22" x2="109.40" y2="618.27" stroke="#a9143c" stroke-width="1.0"/>
<line x1="106.40" y1="626.42" x2="112.40" y2="626.42" stroke="#a9143c" stroke-width="1.0"/>
<line x1="107.60" y1="634.22" x2="111.20" y2="634.22" stroke="#a9143c" stroke-width="1.0"/>
<line x1="107.60" y1="618.27" x2="111.20" y2="618.27" stroke="#a9143c" stroke-width="1.0"/>
<path d="M53.40 615.00V612.00H61.80V616.80" fill="none" stroke="#1e1e1e" stroke-width="1.0"/>
<text x="57.60" y="613.17" font-size="7.2" fill="#222" text-anchor="middle" font-weight="bold">*</text>
<path d="M59.30 605.60V598.60H107.00V605.60" fill="none" stroke="#1e1e1e" stroke-width="1.0"/>
<text x="83.15" y="599.77" font-size="7.2" fill="#222" text-anchor="middle" font-weight="bold">*</text>
<line x1="159.20" y1="595.40" x2="159.20" y2="664.90" stroke="#1e1e1e" stroke-width="1.2"/>
<line x1="156.40" y1="598.20" x2="159.20" y2="598.20" stroke="#1e1e1e" stroke-width="1.2"/>
<text x="153.55" y="601.12" font-size="8.1" fill="#3c3c3c" text-anchor="end" stroke="#3c3c3c" stroke-width="0.12">20</text>
<line x1="156.40" y1="614.73" x2="159.20" y2="614.73" stroke="#1e1e1e" stroke-width="1.2"/>
<text x="153.55" y="617.64" font-size="8.1" fill="#3c3c3c" text-anchor="end" stroke="#3c3c3c" stroke-width="0.12">15</text>
<line x1="156.40" y1="631.25" x2="159.20" y2="631.25" stroke="#1e1e1e" stroke-width="1.2"/>
<text x="153.55" y="634.17" font-size="8.1" fill="#3c3c3c" text-anchor="end" stroke="#3c3c3c" stroke-width="0.12">10</text>
<line x1="156.40" y1="647.77" x2="159.20" y2="647.77" stroke="#1e1e1e" stroke-width="1.2"/>
<text x="153.55" y="650.69" font-size="8.1" fill="#3c3c3c" text-anchor="end" stroke="#3c3c3c" stroke-width="0.12">5</text>
<line x1="156.40" y1="664.30" x2="159.20" y2="664.30" stroke="#1e1e1e" stroke-width="1.2"/>
<text x="153.55" y="667.22" font-size="8.1" fill="#3c3c3c" text-anchor="end" stroke="#3c3c3c" stroke-width="0.12">0</text>
<line x1="158.60" y1="664.30" x2="226.80" y2="664.30" stroke="#1e1e1e" stroke-width="1.2"/>
<line x1="169.60" y1="664.30" x2="169.60" y2="667.10" stroke="#1e1e1e" stroke-width="1.2"/>
<text x="169.60" y="677.50" font-size="8.4" fill="#3c3c3c" text-anchor="middle" stroke="#3c3c3c" stroke-width="0.12">0</text>
<line x1="193.80" y1="664.30" x2="193.80" y2="667.10" stroke="#1e1e1e" stroke-width="1.2"/>
<text x="193.80" y="677.50" font-size="8.4" fill="#3c3c3c" text-anchor="middle" stroke="#3c3c3c" stroke-width="0.12">3</text>
<line x1="218.30" y1="664.30" x2="218.30" y2="667.10" stroke="#1e1e1e" stroke-width="1.2"/>
<text x="218.30" y="677.50" font-size="8.4" fill="#3c3c3c" text-anchor="middle" stroke="#3c3c3c" stroke-width="0.12">7</text>
<text x="150.80" y="690.10" font-size="8.6" fill="#2e2e2e" textLength="81.70" lengthAdjust="spacingAndGlyphs" stroke="#2e2e2e" stroke-width="0.15">Weeks after dox stopped</text>
<text x="137.00" y="631.80" font-size="8.6" fill="#2e2e2e" text-anchor="middle" textLength="37.20" lengthAdjust="spacingAndGlyphs" transform="rotate(-90 137.00 631.80)" stroke="#2e2e2e" stroke-width="0.15">WBC K/μL</text>
<circle cx="165.00" cy="640.50" r="1.25" fill="#22395e"/>
<circle cx="165.00" cy="644.14" r="1.25" fill="#22395e"/>
<circle cx="163.90" cy="649.43" r="1.25" fill="#22395e"/>
<circle cx="166.10" cy="650.75" r="1.25" fill="#22395e"/>
<circle cx="163.90" cy="654.72" r="1.25" fill="#22395e"/>
<circle cx="166.10" cy="656.04" r="1.25" fill="#22395e"/>
<line x1="165.00" y1="654.72" x2="165.00" y2="644.14" stroke="#3a5078" stroke-width="1.0"/>
<line x1="162.00" y1="649.76" x2="168.00" y2="649.76" stroke="#3a5078" stroke-width="1.0"/>
<line x1="163.20" y1="654.72" x2="166.80" y2="654.72" stroke="#3a5078" stroke-width="1.0"/>
<line x1="163.20" y1="644.14" x2="166.80" y2="644.14" stroke="#3a5078" stroke-width="1.0"/>
<rect x="172.70" y="609.26" width="3.0" height="3.0" fill="#fff" fill-opacity="0.0" stroke="#a9143c" stroke-width="0.9"/>
<rect x="172.70" y="613.89" width="3.0" height="3.0" fill="#fff" fill-opacity="0.0" stroke="#a9143c" stroke-width="0.9"/>
<rect x="172.70" y="628.10" width="3.0" height="3.0" fill="#fff" fill-opacity="0.0" stroke="#a9143c" stroke-width="0.9"/>
<rect x="171.20" y="637.35" width="3.0" height="3.0" fill="#fff" fill-opacity="0.0" stroke="#a9143c" stroke-width="0.9"/>
<rect x="174.20" y="638.34" width="3.0" height="3.0" fill="#fff" fill-opacity="0.0" stroke="#a9143c" stroke-width="0.9"/>
<rect x="172.70" y="643.63" width="3.0" height="3.0" fill="#fff" fill-opacity="0.0" stroke="#a9143c" stroke-width="0.9"/>
<line x1="174.20" y1="639.84" x2="174.20" y2="614.73" stroke="#a9143c" stroke-width="1.0"/>
<line x1="171.20" y1="627.95" x2="177.20" y2="627.95" stroke="#a9143c" stroke-width="1.0"/>
<line x1="172.40" y1="639.84" x2="176.00" y2="639.84" stroke="#a9143c" stroke-width="1.0"/>
<line x1="172.40" y1="614.73" x2="176.00" y2="614.73" stroke="#a9143c" stroke-width="1.0"/>
<circle cx="189.20" cy="626.29" r="1.25" fill="#22395e"/>
<circle cx="189.20" cy="631.58" r="1.25" fill="#22395e"/>
<circle cx="189.20" cy="635.55" r="1.25" fill="#22395e"/>
<circle cx="189.20" cy="645.13" r="1.25" fill="#22395e"/>
<circle cx="189.20" cy="656.04" r="1.25" fill="#22395e"/>
<line x1="189.20" y1="648.77" x2="189.20" y2="628.61" stroke="#3a5078" stroke-width="1.0"/>
<line x1="186.20" y1="639.18" x2="192.20" y2="639.18" stroke="#3a5078" stroke-width="1.0"/>
<line x1="187.40" y1="648.77" x2="191.00" y2="648.77" stroke="#3a5078" stroke-width="1.0"/>
<line x1="187.40" y1="628.61" x2="191.00" y2="628.61" stroke="#3a5078" stroke-width="1.0"/>
<rect x="197.20" y="609.26" width="3.0" height="3.0" fill="#fff" fill-opacity="0.0" stroke="#a9143c" stroke-width="0.9"/>
<rect x="197.20" y="612.56" width="3.0" height="3.0" fill="#fff" fill-opacity="0.0" stroke="#a9143c" stroke-width="0.9"/>
<rect x="197.20" y="620.83" width="3.0" height="3.0" fill="#fff" fill-opacity="0.0" stroke="#a9143c" stroke-width="0.9"/>
<rect x="197.20" y="624.79" width="3.0" height="3.0" fill="#fff" fill-opacity="0.0" stroke="#a9143c" stroke-width="0.9"/>
<rect x="197.20" y="629.09" width="3.0" height="3.0" fill="#fff" fill-opacity="0.0" stroke="#a9143c" stroke-width="0.9"/>
<line x1="198.70" y1="629.60" x2="198.70" y2="614.73" stroke="#a9143c" stroke-width="1.0"/>
<line x1="195.70" y1="622.33" x2="201.70" y2="622.33" stroke="#a9143c" stroke-width="1.0"/>
<line x1="196.90" y1="629.60" x2="200.50" y2="629.60" stroke="#a9143c" stroke-width="1.0"/>
<line x1="196.90" y1="614.73" x2="200.50" y2="614.73" stroke="#a9143c" stroke-width="1.0"/>
<circle cx="214.20" cy="604.15" r="1.25" fill="#22395e"/>
<circle cx="214.20" cy="626.95" r="1.25" fill="#22395e"/>
<circle cx="214.20" cy="633.89" r="1.25" fill="#22395e"/>
<circle cx="214.20" cy="645.79" r="1.25" fill="#22395e"/>
<circle cx="214.20" cy="659.01" r="1.25" fill="#22395e"/>
<line x1="214.20" y1="653.72" x2="214.20" y2="613.73" stroke="#3a5078" stroke-width="1.0"/>
<line x1="211.20" y1="633.56" x2="217.20" y2="633.56" stroke="#3a5078" stroke-width="1.0"/>
<line x1="212.40" y1="653.72" x2="216.00" y2="653.72" stroke="#3a5078" stroke-width="1.0"/>
<line x1="212.40" y1="613.73" x2="216.00" y2="613.73" stroke="#3a5078" stroke-width="1.0"/>
<rect x="222.00" y="620.50" width="3.0" height="3.0" fill="#fff" fill-opacity="0.0" stroke="#a9143c" stroke-width="0.9"/>
<rect x="222.00" y="630.08" width="3.0" height="3.0" fill="#fff" fill-opacity="0.0" stroke="#a9143c" stroke-width="0.9"/>
<rect x="222.00" y="635.37" width="3.0" height="3.0" fill="#fff" fill-opacity="0.0" stroke="#a9143c" stroke-width="0.9"/>
<rect x="222.00" y="640.99" width="3.0" height="3.0" fill="#fff" fill-opacity="0.0" stroke="#a9143c" stroke-width="0.9"/>
<rect x="222.00" y="649.25" width="3.0" height="3.0" fill="#fff" fill-opacity="0.0" stroke="#a9143c" stroke-width="0.9"/>
<line x1="223.50" y1="646.78" x2="223.50" y2="626.95" stroke="#a9143c" stroke-width="1.0"/>
<line x1="220.50" y1="636.87" x2="226.50" y2="636.87" stroke="#a9143c" stroke-width="1.0"/>
<line x1="221.70" y1="646.78" x2="225.30" y2="646.78" stroke="#a9143c" stroke-width="1.0"/>
<line x1="221.70" y1="626.95" x2="225.30" y2="626.95" stroke="#a9143c" stroke-width="1.0"/>
<path d="M164.70 608.00V605.20H174.20V608.00" fill="none" stroke="#1e1e1e" stroke-width="1.0"/>
<text x="169.45" y="606.17" font-size="7.2" fill="#222" text-anchor="middle" font-weight="bold">**</text>
<path d="M189.20 608.00V605.20H198.70V608.00" fill="none" stroke="#1e1e1e" stroke-width="1.0"/>
<text x="193.95" y="606.17" font-size="7.2" fill="#222" text-anchor="middle" font-weight="bold">*</text>
<path d="M197.40 598.60V596.20H224.30V598.60" fill="none" stroke="#1e1e1e" stroke-width="1.0"/>
<text x="210.85" y="597.57" font-size="7.2" fill="#222" text-anchor="middle" font-weight="bold">*</text>
<text x="247.50" y="584.70" font-size="11" fill="#111" font-weight="bold">L</text>
<text x="290.00" y="585.50" font-size="8.6" fill="#1a1a1a" font-weight="bold" textLength="183.75" lengthAdjust="spacingAndGlyphs">7 months dox followed by dox cessation</text>
<line x1="285.60" y1="593.40" x2="285.60" y2="664.70" stroke="#1e1e1e" stroke-width="1.2"/>
<line x1="282.80" y1="596.40" x2="285.60" y2="596.40" stroke="#1e1e1e" stroke-width="1.2"/>
<text x="281.75" y="599.42" font-size="8.4" fill="#3c3c3c" text-anchor="end" stroke="#3c3c3c" stroke-width="0.12">80</text>
<line x1="282.80" y1="613.33" x2="285.60" y2="613.33" stroke="#1e1e1e" stroke-width="1.2"/>
<text x="281.75" y="616.35" font-size="8.4" fill="#3c3c3c" text-anchor="end" stroke="#3c3c3c" stroke-width="0.12">60</text>
<line x1="282.80" y1="630.25" x2="285.60" y2="630.25" stroke="#1e1e1e" stroke-width="1.2"/>
<text x="281.75" y="633.27" font-size="8.4" fill="#3c3c3c" text-anchor="end" stroke="#3c3c3c" stroke-width="0.12">40</text>
<line x1="282.80" y1="647.17" x2="285.60" y2="647.17" stroke="#1e1e1e" stroke-width="1.2"/>
<text x="281.75" y="650.20" font-size="8.4" fill="#3c3c3c" text-anchor="end" stroke="#3c3c3c" stroke-width="0.12">20</text>
<line x1="282.80" y1="664.10" x2="285.60" y2="664.10" stroke="#1e1e1e" stroke-width="1.2"/>
<text x="281.75" y="667.12" font-size="8.4" fill="#3c3c3c" text-anchor="end" stroke="#3c3c3c" stroke-width="0.12">0</text>
<line x1="285.00" y1="664.10" x2="355.20" y2="664.10" stroke="#1e1e1e" stroke-width="1.2"/>
<line x1="297.20" y1="664.10" x2="297.20" y2="666.90" stroke="#1e1e1e" stroke-width="1.2"/>
<text x="297.20" y="677.50" font-size="8.4" fill="#3c3c3c" text-anchor="middle" stroke="#3c3c3c" stroke-width="0.12">0</text>
<line x1="320.80" y1="664.10" x2="320.80" y2="666.90" stroke="#1e1e1e" stroke-width="1.2"/>
<text x="320.80" y="677.50" font-size="8.4" fill="#3c3c3c" text-anchor="middle" stroke="#3c3c3c" stroke-width="0.12">3</text>
<line x1="345.00" y1="664.10" x2="345.00" y2="666.90" stroke="#1e1e1e" stroke-width="1.2"/>
<text x="345.00" y="677.50" font-size="8.4" fill="#3c3c3c" text-anchor="middle" stroke="#3c3c3c" stroke-width="0.12">7</text>
<text x="280.00" y="690.10" font-size="8.6" fill="#2e2e2e" textLength="81.70" lengthAdjust="spacingAndGlyphs" stroke="#2e2e2e" stroke-width="0.15">Weeks after dox stopped</text>
<text x="255.00" y="628.80" font-size="8.6" fill="#2e2e2e" text-anchor="middle" textLength="53.90" lengthAdjust="spacingAndGlyphs" transform="rotate(-90 255.00 628.80)" stroke="#2e2e2e" stroke-width="0.15">PB granulocytes</text>
<text x="265.80" y="629.30" font-size="8.6" fill="#2e2e2e" text-anchor="middle" textLength="57.50" lengthAdjust="spacingAndGlyphs" transform="rotate(-90 265.80 629.30)" stroke="#2e2e2e" stroke-width="0.15">% of CD45<tspan font-size="5.5" dy="-3">+</tspan><tspan dy="3"> cells</tspan></text>
<circle cx="292.70" cy="640.57" r="1.25" fill="#22395e"/>
<circle cx="291.60" cy="642.69" r="1.25" fill="#22395e"/>
<circle cx="293.80" cy="644.38" r="1.25" fill="#22395e"/>
<circle cx="292.70" cy="645.99" r="1.25" fill="#22395e"/>
<circle cx="292.70" cy="653.01" r="1.25" fill="#22395e"/>
<line x1="292.70" y1="648.44" x2="292.70" y2="640.83" stroke="#3a5078" stroke-width="1.0"/>
<line x1="289.70" y1="644.38" x2="295.70" y2="644.38" stroke="#3a5078" stroke-width="1.0"/>
<line x1="290.90" y1="648.44" x2="294.50" y2="648.44" stroke="#3a5078" stroke-width="1.0"/>
<line x1="290.90" y1="640.83" x2="294.50" y2="640.83" stroke="#3a5078" stroke-width="1.0"/>
<rect x="300.10" y="610.64" width="3.0" height="3.0" fill="#fff" fill-opacity="0.0" stroke="#a9143c" stroke-width="0.9"/>
<rect x="300.10" y="624.86" width="3.0" height="3.0" fill="#fff" fill-opacity="0.0" stroke="#a9143c" stroke-width="0.9"/>
<rect x="298.60" y="635.18" width="3.0" height="3.0" fill="#fff" fill-opacity="0.0" stroke="#a9143c" stroke-width="0.9"/>
<rect x="301.60" y="636.28" width="3.0" height="3.0" fill="#fff" fill-opacity="0.0" stroke="#a9143c" stroke-width="0.9"/>
<line x1="301.60" y1="638.29" x2="301.60" y2="612.48" stroke="#a9143c" stroke-width="1.0"/>
<line x1="298.60" y1="626.36" x2="304.60" y2="626.36" stroke="#a9143c" stroke-width="1.0"/>
<line x1="299.80" y1="638.29" x2="303.40" y2="638.29" stroke="#a9143c" stroke-width="1.0"/>
<line x1="299.80" y1="612.48" x2="303.40" y2="612.48" stroke="#a9143c" stroke-width="1.0"/>
<circle cx="316.80" cy="635.41" r="1.25" fill="#22395e"/>
<circle cx="316.80" cy="645.99" r="1.25" fill="#22395e"/>
<circle cx="316.80" cy="648.11" r="1.25" fill="#22395e"/>
<circle cx="315.70" cy="654.20" r="1.25" fill="#22395e"/>
<circle cx="317.90" cy="654.96" r="1.25" fill="#22395e"/>
<line x1="316.80" y1="653.69" x2="316.80" y2="639.98" stroke="#3a5078" stroke-width="1.0"/>
<line x1="313.80" y1="646.50" x2="319.80" y2="646.50" stroke="#3a5078" stroke-width="1.0"/>
<line x1="315.00" y1="653.69" x2="318.60" y2="653.69" stroke="#3a5078" stroke-width="1.0"/>
<line x1="315.00" y1="639.98" x2="318.60" y2="639.98" stroke="#3a5078" stroke-width="1.0"/>
<rect x="323.10" y="623.25" width="3.0" height="3.0" fill="#fff" fill-opacity="0.0" stroke="#a9143c" stroke-width="0.9"/>
<rect x="326.10" y="625.70" width="3.0" height="3.0" fill="#fff" fill-opacity="0.0" stroke="#a9143c" stroke-width="0.9"/>
<rect x="324.60" y="629.26" width="3.0" height="3.0" fill="#fff" fill-opacity="0.0" stroke="#a9143c" stroke-width="0.9"/>
<rect x="324.60" y="633.91" width="3.0" height="3.0" fill="#fff" fill-opacity="0.0" stroke="#a9143c" stroke-width="0.9"/>
<rect x="324.60" y="639.58" width="3.0" height="3.0" fill="#fff" fill-opacity="0.0" stroke="#a9143c" stroke-width="0.9"/>
<rect x="324.60" y="643.39" width="3.0" height="3.0" fill="#fff" fill-opacity="0.0" stroke="#a9143c" stroke-width="0.9"/>
<line x1="326.10" y1="642.94" x2="326.10" y2="627.71" stroke="#a9143c" stroke-width="1.0"/>
<line x1="323.10" y1="635.41" x2="329.10" y2="635.41" stroke="#a9143c" stroke-width="1.0"/>
<line x1="324.30" y1="642.94" x2="327.90" y2="642.94" stroke="#a9143c" stroke-width="1.0"/>
<line x1="324.30" y1="627.71" x2="327.90" y2="627.71" stroke="#a9143c" stroke-width="1.0"/>
<circle cx="340.80" cy="635.41" r="1.25" fill="#22395e"/>
<circle cx="340.80" cy="641.08" r="1.25" fill="#22395e"/>
<circle cx="340.80" cy="645.48" r="1.25" fill="#22395e"/>
<circle cx="340.80" cy="647.60" r="1.25" fill="#22395e"/>
<circle cx="340.80" cy="652.08" r="1.25" fill="#22395e"/>
<circle cx="340.80" cy="654.96" r="1.25" fill="#22395e"/>
<line x1="340.80" y1="652.68" x2="340.80" y2="637.02" stroke="#3a5078" stroke-width="1.0"/>
<line x1="337.80" y1="645.99" x2="343.80" y2="645.99" stroke="#3a5078" stroke-width="1.0"/>
<line x1="339.00" y1="652.68" x2="342.60" y2="652.68" stroke="#3a5078" stroke-width="1.0"/>
<line x1="339.00" y1="637.02" x2="342.60" y2="637.02" stroke="#3a5078" stroke-width="1.0"/>
<rect x="346.90" y="634.17" width="3.0" height="3.0" fill="#fff" fill-opacity="0.0" stroke="#a9143c" stroke-width="0.9"/>
<rect x="349.90" y="635.77" width="3.0" height="3.0" fill="#fff" fill-opacity="0.0" stroke="#a9143c" stroke-width="0.9"/>
<rect x="346.90" y="637.21" width="3.0" height="3.0" fill="#fff" fill-opacity="0.0" stroke="#a9143c" stroke-width="0.9"/>
<rect x="349.90" y="639.58" width="3.0" height="3.0" fill="#fff" fill-opacity="0.0" stroke="#a9143c" stroke-width="0.9"/>
<rect x="348.40" y="647.79" width="3.0" height="3.0" fill="#fff" fill-opacity="0.0" stroke="#a9143c" stroke-width="0.9"/>
<line x1="349.90" y1="642.10" x2="349.90" y2="635.33" stroke="#a9143c" stroke-width="1.0"/>
<line x1="346.90" y1="637.78" x2="352.90" y2="637.78" stroke="#a9143c" stroke-width="1.0"/>
<line x1="348.10" y1="642.10" x2="351.70" y2="642.10" stroke="#a9143c" stroke-width="1.0"/>
<line x1="348.10" y1="635.33" x2="351.70" y2="635.33" stroke="#a9143c" stroke-width="1.0"/>
<path d="M291.40 608.90V606.30H302.10V608.90" fill="none" stroke="#1e1e1e" stroke-width="1.0"/>
<text x="296.75" y="607.37" font-size="7.2" fill="#222" text-anchor="middle" font-weight="bold">**</text>
<path d="M315.60 608.90V606.30H326.60V608.90" fill="none" stroke="#1e1e1e" stroke-width="1.0"/>
<text x="321.10" y="607.37" font-size="7.2" fill="#222" text-anchor="middle" font-weight="bold">*</text>
<path d="M339.20 608.90V606.30H350.60V608.90" fill="none" stroke="#1e1e1e" stroke-width="1.0"/>
<text x="344.90" y="605.00" font-size="6.8" fill="#3c3c3c" text-anchor="middle" textLength="11.00" lengthAdjust="spacingAndGlyphs" stroke="#3c3c3c" stroke-width="0.12" font-style="italic">n.s.</text>
<path d="M301.60 598.60V596.20H350.60V598.60" fill="none" stroke="#1e1e1e" stroke-width="1.0"/>
<text x="326.10" y="597.37" font-size="7.2" fill="#222" text-anchor="middle" font-weight="bold">*</text>
<line x1="410.30" y1="593.40" x2="410.30" y2="664.70" stroke="#1e1e1e" stroke-width="1.2"/>
<line x1="407.50" y1="596.20" x2="410.30" y2="596.20" stroke="#1e1e1e" stroke-width="1.2"/>
<text x="404.35" y="598.97" font-size="7.7" fill="#3c3c3c" text-anchor="end" stroke="#3c3c3c" stroke-width="0.12">25</text>
<line x1="407.50" y1="609.78" x2="410.30" y2="609.78" stroke="#1e1e1e" stroke-width="1.2"/>
<text x="404.35" y="612.55" font-size="7.7" fill="#3c3c3c" text-anchor="end" stroke="#3c3c3c" stroke-width="0.12">20</text>
<line x1="407.50" y1="623.36" x2="410.30" y2="623.36" stroke="#1e1e1e" stroke-width="1.2"/>
<text x="404.35" y="626.13" font-size="7.7" fill="#3c3c3c" text-anchor="end" stroke="#3c3c3c" stroke-width="0.12">15</text>
<line x1="407.50" y1="636.94" x2="410.30" y2="636.94" stroke="#1e1e1e" stroke-width="1.2"/>
<text x="404.35" y="639.71" font-size="7.7" fill="#3c3c3c" text-anchor="end" stroke="#3c3c3c" stroke-width="0.12">10</text>
<line x1="407.50" y1="650.52" x2="410.30" y2="650.52" stroke="#1e1e1e" stroke-width="1.2"/>
<text x="404.35" y="653.29" font-size="7.7" fill="#3c3c3c" text-anchor="end" stroke="#3c3c3c" stroke-width="0.12">5</text>
<line x1="407.50" y1="664.10" x2="410.30" y2="664.10" stroke="#1e1e1e" stroke-width="1.2"/>
<text x="404.35" y="666.87" font-size="7.7" fill="#3c3c3c" text-anchor="end" stroke="#3c3c3c" stroke-width="0.12">0</text>
<line x1="409.70" y1="664.10" x2="476.90" y2="664.10" stroke="#1e1e1e" stroke-width="1.2"/>
<line x1="420.50" y1="664.10" x2="420.50" y2="666.90" stroke="#1e1e1e" stroke-width="1.2"/>
<text x="420.50" y="677.50" font-size="8.4" fill="#3c3c3c" text-anchor="middle" stroke="#3c3c3c" stroke-width="0.12">0</text>
<line x1="443.90" y1="664.10" x2="443.90" y2="666.90" stroke="#1e1e1e" stroke-width="1.2"/>
<text x="443.90" y="677.50" font-size="8.4" fill="#3c3c3c" text-anchor="middle" stroke="#3c3c3c" stroke-width="0.12">3</text>
<line x1="467.10" y1="664.10" x2="467.10" y2="666.90" stroke="#1e1e1e" stroke-width="1.2"/>
<text x="467.10" y="677.50" font-size="8.4" fill="#3c3c3c" text-anchor="middle" stroke="#3c3c3c" stroke-width="0.12">7</text>
<text x="403.00" y="690.10" font-size="8.6" fill="#2e2e2e" textLength="81.70" lengthAdjust="spacingAndGlyphs" stroke="#2e2e2e" stroke-width="0.15">Weeks after dox stopped</text>
<text x="378.20" y="630.20" font-size="8.6" fill="#2e2e2e" text-anchor="middle" textLength="48.50" lengthAdjust="spacingAndGlyphs" transform="rotate(-90 378.20 630.20)" stroke="#2e2e2e" stroke-width="0.15">PB monocytes</text>
<text x="389.60" y="629.40" font-size="8.6" fill="#2e2e2e" text-anchor="middle" textLength="56.30" lengthAdjust="spacingAndGlyphs" transform="rotate(-90 389.60 629.40)" stroke="#2e2e2e" stroke-width="0.15">% of CD45<tspan font-size="5.5" dy="-3">+</tspan><tspan dy="3"> cells</tspan></text>
<circle cx="415.60" cy="622.00" r="1.25" fill="#22395e"/>
<circle cx="415.60" cy="624.72" r="1.25" fill="#22395e"/>
<circle cx="415.60" cy="633.68" r="1.25" fill="#22395e"/>
<circle cx="414.50" cy="645.09" r="1.25" fill="#22395e"/>
<circle cx="416.70" cy="646.45" r="1.25" fill="#22395e"/>
<line x1="415.60" y1="645.09" x2="415.60" y2="625.53" stroke="#3a5078" stroke-width="1.0"/>
<line x1="412.60" y1="636.13" x2="418.60" y2="636.13" stroke="#3a5078" stroke-width="1.0"/>
<line x1="413.80" y1="645.09" x2="417.40" y2="645.09" stroke="#3a5078" stroke-width="1.0"/>
<line x1="413.80" y1="625.53" x2="417.40" y2="625.53" stroke="#3a5078" stroke-width="1.0"/>
<rect x="423.40" y="626.48" width="3.0" height="3.0" fill="#fff" fill-opacity="0.0" stroke="#a9143c" stroke-width="0.9"/>
<rect x="423.40" y="629.19" width="3.0" height="3.0" fill="#fff" fill-opacity="0.0" stroke="#a9143c" stroke-width="0.9"/>
<rect x="421.90" y="635.17" width="3.0" height="3.0" fill="#fff" fill-opacity="0.0" stroke="#a9143c" stroke-width="0.9"/>
<rect x="424.90" y="636.25" width="3.0" height="3.0" fill="#fff" fill-opacity="0.0" stroke="#a9143c" stroke-width="0.9"/>
<rect x="423.40" y="641.14" width="3.0" height="3.0" fill="#fff" fill-opacity="0.0" stroke="#a9143c" stroke-width="0.9"/>
<line x1="424.90" y1="641.83" x2="424.90" y2="630.42" stroke="#a9143c" stroke-width="1.0"/>
<line x1="421.90" y1="636.13" x2="427.90" y2="636.13" stroke="#a9143c" stroke-width="1.0"/>
<line x1="423.10" y1="641.83" x2="426.70" y2="641.83" stroke="#a9143c" stroke-width="1.0"/>
<line x1="423.10" y1="630.42" x2="426.70" y2="630.42" stroke="#a9143c" stroke-width="1.0"/>
<circle cx="439.30" cy="622.27" r="1.25" fill="#22395e"/>
<circle cx="439.30" cy="625.80" r="1.25" fill="#22395e"/>
<circle cx="439.30" cy="633.41" r="1.25" fill="#22395e"/>
<circle cx="438.20" cy="636.67" r="1.25" fill="#22395e"/>
<circle cx="440.40" cy="637.21" r="1.25" fill="#22395e"/>
<circle cx="439.30" cy="644.00" r="1.25" fill="#22395e"/>
<line x1="439.30" y1="641.29" x2="439.30" y2="626.08" stroke="#3a5078" stroke-width="1.0"/>
<line x1="436.30" y1="633.68" x2="442.30" y2="633.68" stroke="#3a5078" stroke-width="1.0"/>
<line x1="437.50" y1="641.29" x2="441.10" y2="641.29" stroke="#3a5078" stroke-width="1.0"/>
<line x1="437.50" y1="626.08" x2="441.10" y2="626.08" stroke="#3a5078" stroke-width="1.0"/>
<rect x="445.30" y="629.19" width="3.0" height="3.0" fill="#fff" fill-opacity="0.0" stroke="#a9143c" stroke-width="0.9"/>
<rect x="448.30" y="630.55" width="3.0" height="3.0" fill="#fff" fill-opacity="0.0" stroke="#a9143c" stroke-width="0.9"/>
<rect x="446.80" y="635.44" width="3.0" height="3.0" fill="#fff" fill-opacity="0.0" stroke="#a9143c" stroke-width="0.9"/>
<rect x="445.30" y="641.14" width="3.0" height="3.0" fill="#fff" fill-opacity="0.0" stroke="#a9143c" stroke-width="0.9"/>
<rect x="448.30" y="643.32" width="3.0" height="3.0" fill="#fff" fill-opacity="0.0" stroke="#a9143c" stroke-width="0.9"/>
<line x1="448.30" y1="642.92" x2="448.30" y2="630.96" stroke="#a9143c" stroke-width="1.0"/>
<line x1="445.30" y1="636.94" x2="451.30" y2="636.94" stroke="#a9143c" stroke-width="1.0"/>
<line x1="446.50" y1="642.92" x2="450.10" y2="642.92" stroke="#a9143c" stroke-width="1.0"/>
<line x1="446.50" y1="630.96" x2="450.10" y2="630.96" stroke="#a9143c" stroke-width="1.0"/>
<circle cx="462.50" cy="608.97" r="1.25" fill="#22395e"/>
<circle cx="462.50" cy="612.22" r="1.25" fill="#22395e"/>
<circle cx="462.50" cy="637.75" r="1.25" fill="#22395e"/>
<circle cx="461.40" cy="641.83" r="1.25" fill="#22395e"/>
<circle cx="463.60" cy="642.64" r="1.25" fill="#22395e"/>
<circle cx="462.50" cy="645.09" r="1.25" fill="#22395e"/>
<line x1="462.50" y1="645.63" x2="462.50" y2="612.50" stroke="#3a5078" stroke-width="1.0"/>
<line x1="459.50" y1="628.79" x2="465.50" y2="628.79" stroke="#3a5078" stroke-width="1.0"/>
<line x1="460.70" y1="645.63" x2="464.30" y2="645.63" stroke="#3a5078" stroke-width="1.0"/>
<line x1="460.70" y1="612.50" x2="464.30" y2="612.50" stroke="#3a5078" stroke-width="1.0"/>
<rect x="470.20" y="614.26" width="3.0" height="3.0" fill="#fff" fill-opacity="0.0" stroke="#a9143c" stroke-width="0.9"/>
<rect x="470.20" y="628.11" width="3.0" height="3.0" fill="#fff" fill-opacity="0.0" stroke="#a9143c" stroke-width="0.9"/>
<rect x="470.20" y="633.81" width="3.0" height="3.0" fill="#fff" fill-opacity="0.0" stroke="#a9143c" stroke-width="0.9"/>
<rect x="470.20" y="640.06" width="3.0" height="3.0" fill="#fff" fill-opacity="0.0" stroke="#a9143c" stroke-width="0.9"/>
<rect x="470.20" y="652.01" width="3.0" height="3.0" fill="#fff" fill-opacity="0.0" stroke="#a9143c" stroke-width="0.9"/>
<line x1="471.70" y1="648.35" x2="471.70" y2="622.55" stroke="#a9143c" stroke-width="1.0"/>
<line x1="468.70" y1="635.31" x2="474.70" y2="635.31" stroke="#a9143c" stroke-width="1.0"/>
<line x1="469.90" y1="648.35" x2="473.50" y2="648.35" stroke="#a9143c" stroke-width="1.0"/>
<line x1="469.90" y1="622.55" x2="473.50" y2="622.55" stroke="#a9143c" stroke-width="1.0"/>
<circle cx="481.80" cy="608.90" r="1.3" fill="#22395e"/>
<text x="486.50" y="611.50" font-size="7.6" fill="#2e2e2e" textLength="12.30" lengthAdjust="spacingAndGlyphs" stroke="#2e2e2e" stroke-width="0.15">Ren</text>
<rect x="480.30" y="617.00" width="3.0" height="3.0" fill="#fff" fill-opacity="0.0" stroke="#a9143c" stroke-width="0.9"/>
<text x="486.50" y="621.10" font-size="7.6" fill="#2e2e2e" textLength="16.50" lengthAdjust="spacingAndGlyphs" stroke="#2e2e2e" stroke-width="0.15">Cux1</text>
<text x="503.40" y="617.60" font-size="4.6" fill="#2e2e2e" textLength="8.60" lengthAdjust="spacingAndGlyphs" stroke="#2e2e2e" stroke-width="0.15">low</text>
<rect x="0.65" y="0.65" width="518.7" height="698.7" fill="none" stroke="#000" stroke-width="1.3"/>
</svg>
</body></html>
